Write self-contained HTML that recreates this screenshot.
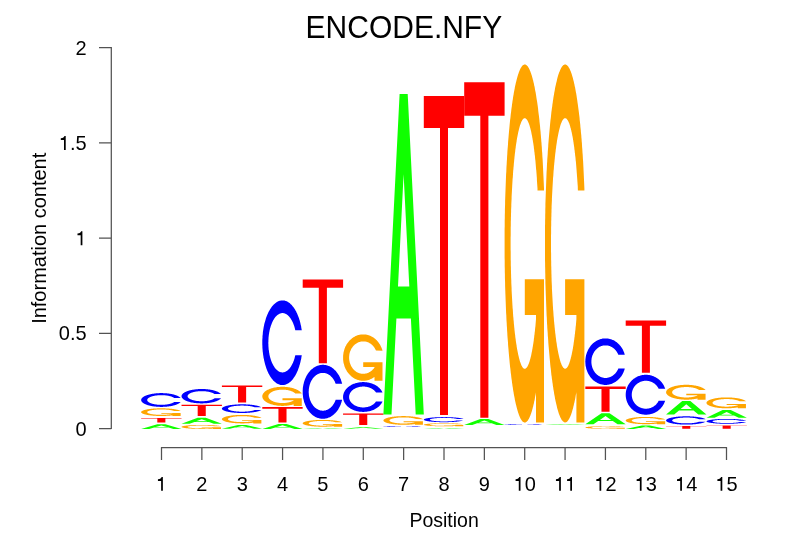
<!DOCTYPE html>
<html><head><meta charset="utf-8"><style>
html,body{margin:0;padding:0;background:#fff;width:806px;height:559px;overflow:hidden}
svg{display:block}
text{font-family:"Liberation Sans",sans-serif;fill:#000}
.tk{font-size:20px}
.ax{stroke:#000;stroke-width:1.25;stroke-opacity:0.68;fill:none}
.ttl{font-size:30px}
.lab{font-size:20px}
</style></head><body>
<div style="position:absolute;left:0;top:0;width:806px;height:559px;will-change:transform"><svg width="806" height="559" viewBox="0 0 806 559">
<rect width="806" height="559" fill="#fff"/>
<text transform="translate(403.9,38) scale(1,1.07)" text-anchor="middle" class="ttl">ENCODE.NFY</text>
<text transform="translate(444.1,526.8) scale(0.975,1.03)" text-anchor="middle" class="lab">Position</text>
<text transform="translate(46.4,238.3) rotate(-90) scale(1.0,1.04)" text-anchor="middle" class="lab">Information content</text>
<text transform="translate(75.48,435.70) scale(1,1.050)" class="tk">0</text>
<text transform="translate(58.80,340.45) scale(1,1.050)" class="tk">0.5</text>
<path transform="translate(75.33,245.20) scale(0.0197,-0.0197)" d="M359,0 L359,703 L296,703 C276,650 232,596 109,588 L109,503 L271,503 L271,0 Z" fill="#000"/>
<path transform="translate(58.65,149.95) scale(0.0197,-0.0197)" d="M359,0 L359,703 L296,703 C276,650 232,596 109,588 L109,503 L271,503 L271,0 Z" fill="#000"/>
<text transform="translate(69.92,149.95) scale(1,1.050)" class="tk">.5</text>
<text transform="translate(75.48,54.70) scale(1,1.050)" class="tk">2</text>
<path d="M111.30,429.00 V47.00 M111.30,428.50 H99.00 M111.30,333.25 H99.00 M111.30,238.00 H99.00 M111.30,142.75 H99.00 M111.30,47.50 H99.00" class="ax"/>
<path transform="translate(155.79,490.80) scale(0.0197,-0.0197)" d="M359,0 L359,703 L296,703 C276,650 232,596 109,588 L109,503 L271,503 L271,0 Z" fill="#000"/>
<text transform="translate(196.30,490.80) scale(1,1.040)" class="tk">2</text>
<text transform="translate(236.65,490.80) scale(1,1.040)" class="tk">3</text>
<text transform="translate(277.01,490.80) scale(1,1.040)" class="tk">4</text>
<text transform="translate(317.37,490.80) scale(1,1.040)" class="tk">5</text>
<text transform="translate(357.72,490.80) scale(1,1.040)" class="tk">6</text>
<text transform="translate(398.08,490.80) scale(1,1.040)" class="tk">7</text>
<text transform="translate(438.44,490.80) scale(1,1.040)" class="tk">8</text>
<text transform="translate(478.80,490.80) scale(1,1.040)" class="tk">9</text>
<path transform="translate(513.44,490.80) scale(0.0197,-0.0197)" d="M359,0 L359,703 L296,703 C276,650 232,596 109,588 L109,503 L271,503 L271,0 Z" fill="#000"/>
<text transform="translate(524.71,490.80) scale(1,1.040)" class="tk">0</text>
<path transform="translate(553.80,490.80) scale(0.0197,-0.0197)" d="M359,0 L359,703 L296,703 C276,650 232,596 109,588 L109,503 L271,503 L271,0 Z" fill="#000"/>
<path transform="translate(564.92,490.80) scale(0.0197,-0.0197)" d="M359,0 L359,703 L296,703 C276,650 232,596 109,588 L109,503 L271,503 L271,0 Z" fill="#000"/>
<path transform="translate(594.16,490.80) scale(0.0197,-0.0197)" d="M359,0 L359,703 L296,703 C276,650 232,596 109,588 L109,503 L271,503 L271,0 Z" fill="#000"/>
<text transform="translate(605.43,490.80) scale(1,1.040)" class="tk">2</text>
<path transform="translate(634.51,490.80) scale(0.0197,-0.0197)" d="M359,0 L359,703 L296,703 C276,650 232,596 109,588 L109,503 L271,503 L271,0 Z" fill="#000"/>
<text transform="translate(645.78,490.80) scale(1,1.040)" class="tk">3</text>
<path transform="translate(674.87,490.80) scale(0.0197,-0.0197)" d="M359,0 L359,703 L296,703 C276,650 232,596 109,588 L109,503 L271,503 L271,0 Z" fill="#000"/>
<text transform="translate(686.14,490.80) scale(1,1.040)" class="tk">4</text>
<path transform="translate(715.23,490.80) scale(0.0197,-0.0197)" d="M359,0 L359,703 L296,703 C276,650 232,596 109,588 L109,503 L271,503 L271,0 Z" fill="#000"/>
<text transform="translate(726.50,490.80) scale(1,1.040)" class="tk">5</text>
<path d="M161.00,447.70 H727.00 M161.50,447.20 V460.00 M201.86,447.20 V460.00 M242.21,447.20 V460.00 M282.57,447.20 V460.00 M322.93,447.20 V460.00 M363.28,447.20 V460.00 M403.64,447.20 V460.00 M444.00,447.20 V460.00 M484.36,447.20 V460.00 M524.71,447.20 V460.00 M565.07,447.20 V460.00 M605.43,447.20 V460.00 M645.78,447.20 V460.00 M686.14,447.20 V460.00 M726.50,447.20 V460.00" class="ax"/>
<path d="M141.15,428.90 157.30,424.20 165.38,424.20 181.53,428.90 173.45,428.90 168.61,427.49 154.07,427.49 149.23,428.90Z M155.69,427.02 161.34,425.38 166.99,427.02Z" fill="#10FF00" fill-rule="evenodd"/>
<path d="M141.15,418.00 181.53,418.00 181.53,418.46 165.38,418.46 165.38,422.60 157.30,422.60 157.30,418.46 141.15,418.46Z" fill="#FF0000"/>
<path d="M174.12,413.29 173.96,413.36 173.79,413.42 173.62,413.48 173.43,413.54 173.24,413.60 173.04,413.66 172.84,413.72 172.62,413.77 172.40,413.83 172.17,413.88 171.93,413.93 171.69,413.99 171.44,414.04 171.18,414.08 170.92,414.13 170.65,414.18 170.37,414.22 170.09,414.27 169.80,414.31 169.51,414.35 169.21,414.39 168.90,414.43 168.60,414.46 168.28,414.50 167.96,414.53 167.64,414.56 167.31,414.59 166.98,414.62 166.65,414.65 166.31,414.67 165.97,414.70 165.63,414.72 165.28,414.74 164.93,414.76 164.58,414.77 164.22,414.79 163.87,414.80 163.51,414.81 163.15,414.82 162.79,414.83 162.43,414.84 162.07,414.84 161.70,414.84 161.34,414.85 161.12,414.84 160.67,414.84 160.22,414.84 159.77,414.83 159.33,414.82 159.11,414.81 158.89,414.80 158.45,414.79 158.01,414.77 157.57,414.75 157.14,414.72 156.72,414.70 156.30,414.67 155.88,414.64 155.47,414.60 155.06,414.56 154.67,414.53 154.27,414.48 153.89,414.44 153.51,414.39 153.14,414.35 152.78,414.29 152.43,414.24 152.08,414.19 151.75,414.13 151.43,414.07 151.11,414.01 150.81,413.95 150.51,413.88 150.23,413.82 149.96,413.75 149.70,413.68 149.45,413.61 149.21,413.53 148.99,413.46 148.78,413.38 148.58,413.31 148.39,413.23 148.22,413.15 148.06,413.07 147.91,412.99 147.78,412.91 147.66,412.83 147.55,412.74 147.46,412.66 147.38,412.58 147.32,412.49 147.27,412.41 147.24,412.32 147.21,412.24 147.21,412.15 147.21,412.11 147.22,412.02 147.25,411.94 147.29,411.85 147.35,411.77 147.38,411.72 147.42,411.68 147.51,411.60 147.61,411.51 147.72,411.43 147.84,411.35 147.98,411.27 148.14,411.19 148.30,411.11 148.48,411.03 148.68,410.95 148.88,410.88 149.10,410.80 149.33,410.73 149.57,410.66 149.83,410.59 150.09,410.52 150.37,410.45 150.66,410.39 150.96,410.32 151.27,410.26 151.59,410.20 151.92,410.14 152.26,410.09 152.60,410.03 152.96,409.98 153.33,409.93 153.70,409.88 154.08,409.84 154.47,409.79 154.86,409.75 155.27,409.72 155.67,409.68 156.09,409.65 156.51,409.62 156.93,409.59 157.36,409.56 157.79,409.54 158.23,409.52 158.67,409.50 159.11,409.49 159.55,409.48 160.00,409.47 160.44,409.46 160.89,409.46 161.34,409.45 161.52,409.46 161.88,409.46 162.25,409.46 162.61,409.47 162.97,409.47 163.15,409.48 163.33,409.48 163.69,409.49 164.04,409.50 164.40,409.52 164.75,409.53 165.10,409.55 165.45,409.57 165.80,409.59 166.14,409.62 166.48,409.64 166.82,409.67 167.15,409.69 167.48,409.72 167.80,409.75 168.12,409.79 168.44,409.82 168.75,409.86 169.06,409.89 169.36,409.93 169.65,409.97 169.95,410.01 170.23,410.05 170.51,410.10 170.78,410.14 171.05,410.19 171.31,410.24 171.56,410.29 171.81,410.34 172.05,410.39 172.28,410.44 172.51,410.50 172.73,410.55 172.94,410.61 173.14,410.67 173.34,410.73 173.53,410.79 173.71,410.85 173.88,410.91 174.04,410.97 180.63,411.01 180.47,410.92 180.30,410.82 180.11,410.73 179.91,410.64 179.71,410.55 179.48,410.46 179.25,410.37 179.01,410.29 178.75,410.20 178.48,410.12 178.34,410.07 178.20,410.03 177.91,409.95 177.61,409.87 177.30,409.79 176.97,409.71 176.64,409.64 176.30,409.56 175.95,409.49 175.58,409.42 175.21,409.35 174.83,409.29 174.44,409.22 174.04,409.16 173.63,409.10 173.22,409.04 172.80,408.98 172.36,408.92 171.93,408.87 171.48,408.82 171.03,408.77 170.57,408.73 170.11,408.68 169.64,408.64 169.16,408.60 168.68,408.56 168.20,408.53 167.71,408.50 167.21,408.47 166.72,408.44 166.22,408.41 165.71,408.39 165.20,408.37 164.69,408.35 164.18,408.34 163.67,408.33 163.15,408.32 162.63,408.31 162.12,408.30 161.60,408.30 161.34,408.30 160.70,408.30 160.06,408.31 159.42,408.32 158.78,408.33 158.15,408.35 157.52,408.37 156.89,408.39 156.27,408.42 155.65,408.46 155.04,408.49 154.74,408.51 154.43,408.53 153.84,408.58 153.25,408.62 152.66,408.67 152.09,408.73 151.52,408.79 150.97,408.85 150.42,408.91 149.89,408.98 149.37,409.05 148.86,409.12 148.36,409.20 147.88,409.28 147.41,409.36 146.95,409.45 146.51,409.54 146.08,409.63 145.67,409.72 145.27,409.82 144.89,409.92 144.53,410.02 144.18,410.12 143.85,410.23 143.54,410.33 143.25,410.44 142.97,410.55 142.72,410.66 142.48,410.78 142.26,410.89 142.06,411.01 141.88,411.12 141.72,411.24 141.58,411.36 141.46,411.48 141.36,411.60 141.27,411.72 141.21,411.84 141.17,411.97 141.15,412.09 141.15,412.15 141.16,412.27 141.19,412.39 141.24,412.52 141.31,412.64 141.40,412.76 141.51,412.88 141.65,413.00 141.80,413.12 141.97,413.23 142.16,413.35 142.26,413.41 142.37,413.47 142.60,413.58 142.84,413.69 143.11,413.80 143.39,413.91 143.70,414.02 144.02,414.13 144.36,414.23 144.71,414.33 145.08,414.43 145.47,414.53 145.87,414.62 146.29,414.72 146.73,414.81 147.18,414.89 147.64,414.98 148.12,415.06 148.61,415.14 149.11,415.21 149.63,415.29 150.16,415.36 150.70,415.42 151.25,415.48 151.80,415.54 152.37,415.60 152.95,415.65 153.54,415.70 154.13,415.75 154.74,415.79 155.35,415.83 155.96,415.86 156.58,415.89 157.20,415.92 157.83,415.94 158.47,415.96 159.10,415.98 159.74,415.99 160.38,416.00 161.02,416.00 161.34,416.00 161.86,416.00 162.38,415.99 162.89,415.99 163.41,415.98 163.92,415.97 164.44,415.95 164.95,415.94 165.46,415.92 165.96,415.90 166.47,415.87 166.72,415.86 166.97,415.85 167.46,415.82 167.95,415.79 168.44,415.75 168.92,415.72 169.40,415.68 169.87,415.64 170.34,415.60 170.80,415.55 171.26,415.50 171.71,415.45 172.15,415.40 172.58,415.35 173.01,415.29 173.43,415.23 173.84,415.17 174.24,415.11 174.64,415.05 175.02,414.98 175.40,414.91 175.76,414.84 176.12,414.77 176.47,414.70 176.81,414.62 177.14,414.55 177.45,414.47 177.76,414.39 178.06,414.31 178.34,414.23 178.62,414.14 178.88,414.06 179.13,413.97 179.37,413.88 179.60,413.79 179.81,413.70 180.02,413.61 180.21,413.52 180.38,413.43 180.55,413.33 180.63,413.29Z M180.63,412.92 161.34,412.92 161.34,413.69 172.55,413.69 172.55,416.00 180.63,416.00 180.63,412.92Z" fill="#FFA500"/>
<path d="M180.63,402.04 180.47,402.21 180.30,402.37 180.11,402.54 179.91,402.70 179.71,402.87 179.48,403.03 179.25,403.18 179.01,403.34 178.75,403.49 178.48,403.65 178.20,403.80 177.91,403.94 177.61,404.09 177.30,404.23 176.97,404.37 176.64,404.50 176.30,404.63 175.95,404.76 175.58,404.89 175.21,405.01 174.83,405.13 174.44,405.25 174.04,405.36 173.63,405.47 173.22,405.58 172.80,405.68 172.36,405.78 171.93,405.88 171.48,405.97 171.03,406.05 170.57,406.14 170.11,406.22 169.64,406.29 169.16,406.36 168.68,406.43 168.20,406.49 167.71,406.55 167.21,406.60 166.72,406.65 166.22,406.70 165.71,406.74 165.20,406.77 164.69,406.80 164.18,406.83 163.67,406.85 163.15,406.87 162.63,406.89 162.12,406.89 161.60,406.90 161.34,406.90 160.70,406.90 160.06,406.89 159.42,406.87 158.78,406.84 158.15,406.81 157.52,406.78 156.89,406.73 156.27,406.68 155.65,406.62 155.04,406.56 154.43,406.48 153.84,406.41 153.25,406.32 152.66,406.23 152.09,406.13 151.52,406.03 150.97,405.92 150.42,405.80 149.89,405.68 149.37,405.56 148.86,405.42 148.36,405.29 147.88,405.14 147.41,404.99 146.95,404.84 146.51,404.68 146.08,404.52 145.67,404.35 145.27,404.18 144.89,404.00 144.53,403.82 144.18,403.64 143.85,403.45 143.54,403.26 143.25,403.06 142.97,402.87 142.72,402.67 142.48,402.46 142.26,402.26 142.06,402.05 141.88,401.84 141.72,401.63 141.58,401.41 141.46,401.20 141.36,400.98 141.27,400.76 141.21,400.55 141.17,400.33 141.15,400.11 141.15,400.00 141.16,399.78 141.19,399.56 141.24,399.34 141.31,399.13 141.40,398.91 141.51,398.69 141.65,398.48 141.80,398.27 141.97,398.06 142.16,397.85 142.37,397.64 142.60,397.44 142.84,397.23 143.11,397.03 143.39,396.84 143.70,396.65 144.02,396.46 144.36,396.27 144.71,396.09 145.08,395.91 145.47,395.73 145.87,395.56 146.29,395.40 146.73,395.24 147.18,395.08 147.64,394.93 148.12,394.79 148.61,394.64 149.11,394.51 149.63,394.38 150.16,394.26 150.70,394.14 151.25,394.02 151.80,393.92 152.37,393.82 152.95,393.72 153.54,393.64 154.13,393.55 154.74,393.48 155.35,393.41 155.96,393.35 156.58,393.29 157.20,393.25 157.83,393.20 158.47,393.17 159.10,393.14 159.74,393.12 160.38,393.11 161.02,393.10 161.34,393.10 161.86,393.10 162.38,393.11 162.89,393.12 163.41,393.14 163.92,393.16 164.44,393.18 164.95,393.21 165.46,393.25 165.96,393.28 166.47,393.33 166.97,393.37 167.46,393.42 167.95,393.48 168.44,393.54 168.92,393.61 169.40,393.67 169.87,393.75 170.34,393.82 170.80,393.90 171.26,393.99 171.71,394.08 172.15,394.17 172.58,394.27 173.01,394.37 173.43,394.47 173.84,394.58 174.24,394.69 174.64,394.81 175.02,394.93 175.40,395.05 175.76,395.17 176.12,395.30 176.47,395.43 176.81,395.57 177.14,395.70 177.45,395.84 177.76,395.99 178.06,396.13 178.34,396.28 178.62,396.43 178.88,396.58 179.13,396.74 179.37,396.89 179.60,397.05 179.81,397.21 180.02,397.38 180.21,397.54 180.38,397.71 180.55,397.88 180.63,397.96 174.12,397.96 173.96,397.83 173.79,397.72 173.62,397.61 173.43,397.50 173.24,397.40 173.04,397.29 172.84,397.19 172.62,397.09 172.40,396.99 172.17,396.90 171.93,396.80 171.69,396.71 171.44,396.62 171.18,396.53 170.92,396.45 170.65,396.37 170.37,396.28 170.09,396.21 169.80,396.13 169.51,396.06 169.21,395.99 168.90,395.92 168.60,395.86 168.28,395.79 167.96,395.73 167.64,395.68 167.31,395.62 166.98,395.57 166.65,395.52 166.31,395.48 165.97,395.44 165.63,395.40 165.28,395.36 164.93,395.33 164.58,395.30 164.22,395.27 163.87,395.25 163.51,395.23 163.15,395.21 162.79,395.20 162.43,395.18 162.07,395.18 161.70,395.17 161.34,395.17 161.12,395.17 160.67,395.18 160.22,395.19 159.77,395.20 159.33,395.22 159.11,395.23 158.89,395.24 158.45,395.27 158.01,395.31 157.57,395.34 157.14,395.39 156.72,395.44 156.30,395.49 155.88,395.55 155.47,395.61 155.06,395.67 154.67,395.74 154.27,395.82 153.89,395.90 153.51,395.98 153.14,396.07 152.78,396.16 152.43,396.25 152.08,396.35 151.75,396.45 151.43,396.56 151.11,396.67 150.81,396.78 150.51,396.90 150.23,397.01 149.96,397.14 149.70,397.26 149.45,397.39 149.21,397.52 148.99,397.65 148.78,397.79 148.58,397.92 148.39,398.06 148.22,398.20 148.06,398.35 147.91,398.49 147.78,398.64 147.66,398.79 147.55,398.94 147.46,399.09 147.38,399.24 147.32,399.39 147.27,399.54 147.24,399.69 147.21,399.85 147.21,400.00 147.21,400.08 147.22,400.23 147.25,400.38 147.29,400.54 147.35,400.69 147.38,400.76 147.42,400.84 147.51,400.99 147.61,401.14 147.72,401.29 147.84,401.43 147.98,401.58 148.14,401.72 148.30,401.87 148.48,402.01 148.68,402.14 148.88,402.28 149.10,402.41 149.33,402.55 149.57,402.68 149.83,402.80 150.09,402.93 150.37,403.05 150.66,403.16 150.96,403.28 151.27,403.39 151.59,403.50 151.92,403.60 152.26,403.70 152.60,403.80 152.96,403.89 153.33,403.98 153.70,404.06 154.08,404.14 154.47,404.22 154.86,404.29 155.27,404.36 155.67,404.42 156.09,404.48 156.51,404.54 156.93,404.59 157.36,404.63 157.79,404.68 158.23,404.71 158.67,404.74 159.11,404.77 159.55,404.79 160.00,404.81 160.44,404.82 160.89,404.83 161.34,404.83 161.52,404.83 161.88,404.83 162.25,404.82 162.61,404.81 162.97,404.80 163.15,404.79 163.33,404.78 163.69,404.76 164.04,404.74 164.40,404.72 164.75,404.69 165.10,404.66 165.45,404.62 165.80,404.58 166.14,404.54 166.48,404.50 166.82,404.45 167.15,404.40 167.48,404.35 167.80,404.30 168.12,404.24 168.44,404.18 168.75,404.11 169.06,404.05 169.36,403.98 169.65,403.91 169.95,403.83 170.23,403.75 170.51,403.68 170.78,403.59 171.05,403.51 171.31,403.42 171.56,403.33 171.81,403.24 172.05,403.15 172.28,403.06 172.51,402.96 172.73,402.86 172.94,402.76 173.14,402.66 173.34,402.55 173.53,402.45 173.71,402.34 173.88,402.23 174.04,402.12 174.12,402.04Z" fill="#0000FF"/>
<path d="M214.50,427.49 214.34,427.53 214.17,427.56 214.00,427.59 213.81,427.62 213.62,427.65 213.42,427.68 213.22,427.71 213.00,427.74 212.78,427.77 212.55,427.80 212.31,427.83 212.07,427.85 211.82,427.88 211.56,427.90 211.30,427.93 211.03,427.95 210.75,427.98 210.47,428.00 210.18,428.02 209.89,428.04 209.59,428.06 209.28,428.08 208.98,428.10 208.66,428.12 208.34,428.14 208.02,428.15 207.69,428.17 207.36,428.18 207.03,428.20 206.69,428.21 206.35,428.22 206.01,428.23 205.66,428.24 205.31,428.25 204.96,428.26 204.60,428.27 204.25,428.28 203.89,428.28 203.53,428.29 203.17,428.29 202.81,428.30 202.45,428.30 202.08,428.30 201.72,428.30 201.50,428.30 201.05,428.30 200.60,428.30 200.15,428.29 199.71,428.29 199.49,428.28 199.27,428.28 198.83,428.27 198.39,428.26 197.95,428.25 197.52,428.24 197.10,428.22 196.68,428.21 196.26,428.19 195.85,428.17 195.44,428.15 195.05,428.13 194.65,428.11 194.27,428.09 193.89,428.07 193.52,428.04 193.16,428.01 192.81,427.99 192.46,427.96 192.13,427.93 191.81,427.90 191.49,427.87 191.19,427.83 190.89,427.80 190.61,427.77 190.34,427.73 190.08,427.69 189.83,427.66 189.59,427.62 189.37,427.58 189.16,427.54 188.96,427.50 188.77,427.46 188.60,427.42 188.44,427.38 188.29,427.34 188.16,427.29 188.04,427.25 187.93,427.21 187.84,427.16 187.76,427.12 187.70,427.08 187.65,427.03 187.62,426.99 187.59,426.94 187.59,426.90 187.59,426.88 187.60,426.83 187.63,426.79 187.67,426.74 187.73,426.70 187.76,426.68 187.80,426.66 187.89,426.61 187.99,426.57 188.10,426.53 188.22,426.48 188.36,426.44 188.52,426.40 188.68,426.36 188.86,426.32 189.06,426.28 189.26,426.24 189.48,426.20 189.71,426.16 189.95,426.12 190.21,426.09 190.47,426.05 190.75,426.02 191.04,425.98 191.34,425.95 191.65,425.92 191.97,425.89 192.30,425.86 192.64,425.83 192.98,425.80 193.34,425.77 193.71,425.75 194.08,425.72 194.46,425.70 194.85,425.68 195.24,425.66 195.65,425.64 196.05,425.62 196.47,425.60 196.89,425.58 197.31,425.57 197.74,425.56 198.17,425.54 198.61,425.53 199.05,425.53 199.49,425.52 199.93,425.51 200.38,425.51 200.82,425.50 201.27,425.50 201.72,425.50 201.90,425.50 202.26,425.50 202.63,425.50 202.99,425.51 203.35,425.51 203.53,425.51 203.71,425.51 204.07,425.52 204.42,425.53 204.78,425.53 205.13,425.54 205.48,425.55 205.83,425.56 206.18,425.57 206.52,425.58 206.86,425.60 207.20,425.61 207.53,425.62 207.86,425.64 208.18,425.65 208.50,425.67 208.82,425.69 209.13,425.71 209.44,425.73 209.74,425.75 210.03,425.77 210.33,425.79 210.61,425.81 210.89,425.83 211.16,425.86 211.43,425.88 211.69,425.91 211.94,425.93 212.19,425.96 212.43,425.99 212.66,426.01 212.89,426.04 213.11,426.07 213.32,426.10 213.52,426.13 213.72,426.16 213.91,426.19 214.09,426.22 214.26,426.25 214.42,426.29 221.01,426.31 220.85,426.26 220.68,426.21 220.49,426.16 220.29,426.12 220.09,426.07 219.86,426.02 219.63,425.98 219.39,425.93 219.13,425.89 218.86,425.84 218.72,425.82 218.58,425.80 218.29,425.76 217.99,425.72 217.68,425.67 217.35,425.63 217.02,425.60 216.68,425.56 216.33,425.52 215.96,425.48 215.59,425.45 215.21,425.41 214.82,425.38 214.42,425.35 214.01,425.31 213.60,425.28 213.18,425.25 212.74,425.22 212.31,425.20 211.86,425.17 211.41,425.15 210.95,425.12 210.49,425.10 210.02,425.08 209.54,425.06 209.06,425.04 208.58,425.02 208.09,425.00 207.59,424.99 207.10,424.97 206.60,424.96 206.09,424.95 205.58,424.94 205.07,424.93 204.56,424.92 204.05,424.91 203.53,424.91 203.01,424.90 202.50,424.90 201.98,424.90 201.72,424.90 201.08,424.90 200.44,424.90 199.80,424.91 199.16,424.92 198.53,424.93 197.90,424.94 197.27,424.95 196.65,424.96 196.03,424.98 195.42,425.00 195.12,425.01 194.81,425.02 194.22,425.04 193.63,425.07 193.04,425.09 192.47,425.12 191.90,425.15 191.35,425.18 190.80,425.22 190.27,425.25 189.75,425.29 189.24,425.33 188.74,425.37 188.26,425.41 187.79,425.45 187.33,425.50 186.89,425.54 186.46,425.59 186.05,425.64 185.65,425.69 185.27,425.74 184.91,425.79 184.56,425.85 184.23,425.90 183.92,425.96 183.63,426.01 183.35,426.07 183.10,426.13 182.86,426.19 182.64,426.25 182.44,426.31 182.26,426.37 182.10,426.43 181.96,426.49 181.84,426.55 181.74,426.62 181.65,426.68 181.59,426.74 181.55,426.80 181.53,426.87 181.53,426.90 181.54,426.96 181.57,427.03 181.62,427.09 181.69,427.15 181.78,427.22 181.89,427.28 182.03,427.34 182.18,427.40 182.35,427.46 182.54,427.52 182.64,427.55 182.75,427.58 182.98,427.64 183.22,427.70 183.49,427.76 183.77,427.82 184.08,427.87 184.40,427.93 184.74,427.98 185.09,428.03 185.46,428.09 185.85,428.14 186.25,428.19 186.67,428.23 187.11,428.28 187.56,428.33 188.02,428.37 188.50,428.41 188.99,428.45 189.49,428.49 190.01,428.53 190.54,428.57 191.08,428.60 191.62,428.63 192.18,428.66 192.75,428.69 193.33,428.72 193.92,428.74 194.51,428.77 195.12,428.79 195.73,428.81 196.34,428.83 196.96,428.84 197.58,428.86 198.21,428.87 198.85,428.88 199.48,428.89 200.12,428.89 200.76,428.90 201.40,428.90 201.72,428.90 202.24,428.90 202.76,428.90 203.27,428.89 203.79,428.89 204.30,428.88 204.82,428.88 205.33,428.87 205.84,428.86 206.34,428.85 206.85,428.83 207.10,428.83 207.35,428.82 207.84,428.81 208.33,428.79 208.82,428.77 209.30,428.75 209.78,428.73 210.25,428.71 210.72,428.69 211.18,428.67 211.64,428.64 212.09,428.62 212.53,428.59 212.96,428.56 213.39,428.53 213.81,428.50 214.22,428.47 214.62,428.44 215.02,428.41 215.40,428.37 215.78,428.34 216.14,428.30 216.50,428.26 216.85,428.22 217.19,428.19 217.52,428.15 217.83,428.10 218.14,428.06 218.44,428.02 218.72,427.98 219.00,427.93 219.26,427.89 219.51,427.85 219.75,427.80 219.98,427.75 220.19,427.71 220.40,427.66 220.59,427.61 220.76,427.56 220.93,427.52 221.01,427.49Z M221.01,427.30 201.72,427.30 201.72,427.70 212.93,427.70 212.93,428.90 221.01,428.90 221.01,427.30Z" fill="#FFA500"/>
<path d="M181.53,423.80 197.68,417.70 205.76,417.70 221.91,423.80 213.83,423.80 208.99,421.97 194.45,421.97 189.61,423.80Z M196.07,421.36 201.72,419.23 207.37,421.36Z" fill="#10FF00" fill-rule="evenodd"/>
<path d="M181.53,404.80 221.91,404.80 221.91,405.92 205.76,405.92 205.76,416.00 197.68,416.00 197.68,405.92 181.53,405.92Z" fill="#FF0000"/>
<path d="M221.01,398.33 220.85,398.50 220.68,398.68 220.49,398.85 220.29,399.02 220.09,399.19 219.86,399.36 219.63,399.52 219.39,399.69 219.13,399.85 218.86,400.00 218.58,400.16 218.29,400.31 217.99,400.46 217.68,400.61 217.35,400.76 217.02,400.90 216.68,401.04 216.33,401.17 215.96,401.30 215.59,401.43 215.21,401.56 214.82,401.68 214.42,401.80 214.01,401.91 213.60,402.02 213.18,402.13 212.74,402.23 212.31,402.33 211.86,402.43 211.41,402.52 210.95,402.60 210.49,402.69 210.02,402.76 209.54,402.84 209.06,402.91 208.58,402.97 208.09,403.03 207.59,403.09 207.10,403.14 206.60,403.19 206.09,403.23 205.58,403.27 205.07,403.30 204.56,403.33 204.05,403.35 203.53,403.37 203.01,403.39 202.50,403.39 201.98,403.40 201.72,403.40 201.08,403.40 200.44,403.39 199.80,403.37 199.16,403.34 198.53,403.31 197.90,403.27 197.27,403.22 196.65,403.17 196.03,403.11 195.42,403.04 194.81,402.97 194.22,402.88 193.63,402.80 193.04,402.70 192.47,402.60 191.90,402.49 191.35,402.38 190.80,402.26 190.27,402.13 189.75,402.00 189.24,401.86 188.74,401.72 188.26,401.57 187.79,401.41 187.33,401.25 186.89,401.09 186.46,400.91 186.05,400.74 185.65,400.56 185.27,400.38 184.91,400.19 184.56,400.00 184.23,399.80 183.92,399.60 183.63,399.40 183.35,399.19 183.10,398.98 182.86,398.77 182.64,398.55 182.44,398.34 182.26,398.12 182.10,397.90 181.96,397.67 181.84,397.45 181.74,397.22 181.65,397.00 181.59,396.77 181.55,396.54 181.53,396.31 181.53,396.20 181.54,395.97 181.57,395.74 181.62,395.52 181.69,395.29 181.78,395.06 181.89,394.84 182.03,394.61 182.18,394.39 182.35,394.17 182.54,393.95 182.75,393.74 182.98,393.52 183.22,393.31 183.49,393.11 183.77,392.90 184.08,392.70 184.40,392.50 184.74,392.31 185.09,392.12 185.46,391.93 185.85,391.75 186.25,391.57 186.67,391.40 187.11,391.23 187.56,391.07 188.02,390.91 188.50,390.76 188.99,390.61 189.49,390.47 190.01,390.34 190.54,390.21 191.08,390.08 191.62,389.96 192.18,389.85 192.75,389.75 193.33,389.65 193.92,389.56 194.51,389.47 195.12,389.40 195.73,389.32 196.34,389.26 196.96,389.20 197.58,389.15 198.21,389.11 198.85,389.07 199.48,389.04 200.12,389.02 200.76,389.01 201.40,389.00 201.72,389.00 202.24,389.00 202.76,389.01 203.27,389.02 203.79,389.04 204.30,389.06 204.82,389.09 205.33,389.12 205.84,389.15 206.34,389.19 206.85,389.24 207.35,389.29 207.84,389.34 208.33,389.40 208.82,389.46 209.30,389.53 209.78,389.60 210.25,389.67 210.72,389.76 211.18,389.84 211.64,389.93 212.09,390.02 212.53,390.12 212.96,390.22 213.39,390.32 213.81,390.43 214.22,390.55 214.62,390.66 215.02,390.78 215.40,390.90 215.78,391.03 216.14,391.16 216.50,391.30 216.85,391.43 217.19,391.57 217.52,391.72 217.83,391.86 218.14,392.01 218.44,392.16 218.72,392.32 219.00,392.47 219.26,392.63 219.51,392.80 219.75,392.96 219.98,393.13 220.19,393.29 220.40,393.46 220.59,393.64 220.76,393.81 220.93,393.98 221.01,394.07 214.50,394.07 214.34,393.93 214.17,393.82 214.00,393.70 213.81,393.59 213.62,393.48 213.42,393.37 213.22,393.27 213.00,393.16 212.78,393.06 212.55,392.96 212.31,392.86 212.07,392.77 211.82,392.67 211.56,392.58 211.30,392.49 211.03,392.41 210.75,392.32 210.47,392.24 210.18,392.16 209.89,392.09 209.59,392.01 209.28,391.94 208.98,391.87 208.66,391.81 208.34,391.75 208.02,391.69 207.69,391.63 207.36,391.58 207.03,391.53 206.69,391.48 206.35,391.44 206.01,391.40 205.66,391.36 205.31,391.33 204.96,391.29 204.60,391.27 204.25,391.24 203.89,391.22 203.53,391.20 203.17,391.19 202.81,391.17 202.45,391.17 202.08,391.16 201.72,391.16 201.50,391.16 201.05,391.17 200.60,391.18 200.15,391.19 199.71,391.21 199.49,391.22 199.27,391.24 198.83,391.27 198.39,391.30 197.95,391.34 197.52,391.39 197.10,391.44 196.68,391.49 196.26,391.55 195.85,391.62 195.44,391.68 195.05,391.76 194.65,391.84 194.27,391.92 193.89,392.00 193.52,392.09 193.16,392.19 192.81,392.29 192.46,392.39 192.13,392.50 191.81,392.61 191.49,392.72 191.19,392.84 190.89,392.96 190.61,393.08 190.34,393.21 190.08,393.34 189.83,393.48 189.59,393.61 189.37,393.75 189.16,393.89 188.96,394.03 188.77,394.18 188.60,394.33 188.44,394.48 188.29,394.63 188.16,394.78 188.04,394.93 187.93,395.09 187.84,395.25 187.76,395.40 187.70,395.56 187.65,395.72 187.62,395.88 187.59,396.04 187.59,396.20 187.59,396.28 187.60,396.44 187.63,396.60 187.67,396.76 187.73,396.92 187.76,397.00 187.80,397.08 187.89,397.23 187.99,397.39 188.10,397.54 188.22,397.70 188.36,397.85 188.52,398.00 188.68,398.15 188.86,398.29 189.06,398.44 189.26,398.58 189.48,398.72 189.71,398.86 189.95,398.99 190.21,399.12 190.47,399.25 190.75,399.38 191.04,399.50 191.34,399.62 191.65,399.74 191.97,399.85 192.30,399.96 192.64,400.06 192.98,400.16 193.34,400.26 193.71,400.35 194.08,400.44 194.46,400.52 194.85,400.60 195.24,400.68 195.65,400.75 196.05,400.82 196.47,400.88 196.89,400.94 197.31,400.99 197.74,401.04 198.17,401.08 198.61,401.12 199.05,401.15 199.49,401.18 199.93,401.20 200.38,401.22 200.82,401.23 201.27,401.24 201.72,401.24 201.90,401.24 202.26,401.24 202.63,401.23 202.99,401.22 203.35,401.21 203.53,401.20 203.71,401.19 204.07,401.17 204.42,401.15 204.78,401.12 205.13,401.09 205.48,401.06 205.83,401.02 206.18,400.98 206.52,400.94 206.86,400.89 207.20,400.85 207.53,400.79 207.86,400.74 208.18,400.68 208.50,400.62 208.82,400.56 209.13,400.49 209.44,400.42 209.74,400.35 210.03,400.28 210.33,400.20 210.61,400.12 210.89,400.04 211.16,399.95 211.43,399.86 211.69,399.77 211.94,399.68 212.19,399.59 212.43,399.49 212.66,399.39 212.89,399.29 213.11,399.18 213.32,399.08 213.52,398.97 213.72,398.86 213.91,398.75 214.09,398.64 214.26,398.53 214.42,398.41 214.50,398.33Z" fill="#0000FF"/>
<path d="M221.91,428.70 238.06,425.10 246.14,425.10 262.29,428.70 254.21,428.70 249.37,427.62 234.83,427.62 229.99,428.70Z M236.45,427.26 242.10,426.00 247.75,427.26Z" fill="#10FF00" fill-rule="evenodd"/>
<path d="M254.88,420.41 254.72,420.49 254.55,420.56 254.38,420.62 254.19,420.69 254.00,420.75 253.80,420.82 253.60,420.88 253.38,420.94 253.16,421.00 252.93,421.06 252.69,421.12 252.45,421.18 252.20,421.23 251.94,421.29 251.68,421.34 251.41,421.39 251.13,421.44 250.85,421.49 250.56,421.53 250.27,421.58 249.97,421.62 249.66,421.66 249.36,421.70 249.04,421.74 248.72,421.78 248.40,421.81 248.07,421.85 247.74,421.88 247.41,421.91 247.07,421.93 246.73,421.96 246.39,421.98 246.04,422.01 245.69,422.03 245.34,422.05 244.98,422.06 244.63,422.08 244.27,422.09 243.91,422.10 243.55,422.11 243.19,422.12 242.83,422.12 242.46,422.12 242.10,422.12 241.88,422.12 241.43,422.12 240.98,422.12 240.53,422.11 240.09,422.09 239.87,422.09 239.65,422.08 239.21,422.06 238.77,422.04 238.33,422.02 237.90,421.99 237.48,421.96 237.06,421.93 236.64,421.89 236.23,421.86 235.82,421.82 235.43,421.77 235.03,421.73 234.65,421.68 234.27,421.63 233.90,421.57 233.54,421.52 233.19,421.46 232.84,421.40 232.51,421.34 232.19,421.27 231.87,421.20 231.57,421.13 231.27,421.06 230.99,420.99 230.72,420.91 230.46,420.84 230.21,420.76 229.97,420.68 229.75,420.60 229.54,420.51 229.34,420.43 229.15,420.34 228.98,420.26 228.82,420.17 228.67,420.08 228.54,419.99 228.42,419.90 228.31,419.81 228.22,419.71 228.14,419.62 228.08,419.53 228.03,419.43 228.00,419.34 227.97,419.24 227.97,419.15 227.97,419.10 227.98,419.01 228.01,418.91 228.05,418.82 228.11,418.73 228.14,418.68 228.18,418.63 228.27,418.54 228.37,418.45 228.48,418.36 228.60,418.27 228.74,418.18 228.90,418.09 229.06,418.00 229.24,417.91 229.44,417.83 229.64,417.74 229.86,417.66 230.09,417.58 230.33,417.50 230.59,417.42 230.85,417.35 231.13,417.27 231.42,417.20 231.72,417.13 232.03,417.06 232.35,417.00 232.68,416.93 233.02,416.87 233.36,416.81 233.72,416.75 234.09,416.70 234.46,416.65 234.84,416.60 235.23,416.55 235.62,416.51 236.03,416.46 236.43,416.42 236.85,416.39 237.27,416.35 237.69,416.32 238.12,416.30 238.55,416.27 238.99,416.25 239.43,416.23 239.87,416.21 240.31,416.20 240.76,416.19 241.20,416.18 241.65,416.18 242.10,416.17 242.28,416.18 242.64,416.18 243.01,416.18 243.37,416.19 243.73,416.19 243.91,416.20 244.09,416.20 244.45,416.22 244.80,416.23 245.16,416.25 245.51,416.26 245.86,416.28 246.21,416.30 246.56,416.33 246.90,416.35 247.24,416.38 247.58,416.41 247.91,416.44 248.24,416.47 248.56,416.50 248.88,416.54 249.20,416.58 249.51,416.62 249.82,416.66 250.12,416.70 250.41,416.74 250.71,416.79 250.99,416.84 251.27,416.89 251.54,416.94 251.81,416.99 252.07,417.04 252.32,417.10 252.57,417.15 252.81,417.21 253.04,417.27 253.27,417.33 253.49,417.39 253.70,417.45 253.90,417.51 254.10,417.58 254.29,417.64 254.47,417.71 254.64,417.78 254.80,417.85 261.39,417.89 261.23,417.79 261.06,417.69 260.87,417.59 260.67,417.48 260.47,417.38 260.24,417.29 260.01,417.19 259.77,417.09 259.51,417.00 259.24,416.90 259.10,416.86 258.96,416.81 258.67,416.72 258.37,416.63 258.06,416.55 257.73,416.46 257.40,416.38 257.06,416.30 256.71,416.22 256.34,416.14 255.97,416.06 255.59,415.99 255.20,415.92 254.80,415.85 254.39,415.78 253.98,415.71 253.56,415.65 253.12,415.59 252.69,415.53 252.24,415.48 251.79,415.42 251.33,415.37 250.87,415.32 250.40,415.28 249.92,415.23 249.44,415.19 248.96,415.15 248.47,415.12 247.97,415.08 247.48,415.05 246.98,415.03 246.47,415.00 245.96,414.98 245.45,414.96 244.94,414.94 244.43,414.93 243.91,414.92 243.39,414.91 242.88,414.90 242.36,414.90 242.10,414.90 241.46,414.90 240.82,414.91 240.18,414.92 239.54,414.93 238.91,414.95 238.28,414.98 237.65,415.00 237.03,415.04 236.41,415.07 235.80,415.11 235.50,415.13 235.19,415.16 234.60,415.20 234.01,415.26 233.42,415.31 232.85,415.37 232.28,415.44 231.73,415.50 231.18,415.57 230.65,415.65 230.13,415.73 229.62,415.81 229.12,415.89 228.64,415.98 228.17,416.07 227.71,416.17 227.27,416.27 226.84,416.37 226.43,416.47 226.03,416.58 225.65,416.68 225.29,416.80 224.94,416.91 224.61,417.02 224.30,417.14 224.01,417.26 223.73,417.38 223.48,417.51 223.24,417.63 223.02,417.76 222.82,417.89 222.64,418.02 222.48,418.15 222.34,418.28 222.22,418.41 222.12,418.55 222.03,418.68 221.97,418.81 221.93,418.95 221.91,419.08 221.91,419.15 221.92,419.28 221.95,419.42 222.00,419.55 222.07,419.69 222.16,419.82 222.27,419.95 222.41,420.09 222.56,420.22 222.73,420.35 222.92,420.48 223.02,420.54 223.13,420.60 223.36,420.73 223.60,420.85 223.87,420.98 224.15,421.10 224.46,421.22 224.78,421.33 225.12,421.45 225.47,421.56 225.84,421.67 226.23,421.78 226.63,421.88 227.05,421.98 227.49,422.08 227.94,422.18 228.40,422.27 228.88,422.36 229.37,422.45 229.87,422.53 230.39,422.61 230.92,422.69 231.46,422.76 232.01,422.83 232.56,422.90 233.13,422.96 233.71,423.02 234.30,423.07 234.89,423.12 235.50,423.17 236.11,423.21 236.72,423.25 237.34,423.28 237.96,423.31 238.59,423.34 239.23,423.36 239.86,423.37 240.50,423.39 241.14,423.40 241.78,423.40 242.10,423.40 242.62,423.40 243.14,423.39 243.65,423.39 244.17,423.38 244.68,423.37 245.20,423.35 245.71,423.33 246.22,423.31 246.72,423.29 247.23,423.26 247.48,423.25 247.73,423.23 248.22,423.20 248.71,423.17 249.20,423.13 249.68,423.09 250.16,423.05 250.63,423.00 251.10,422.95 251.56,422.90 252.02,422.85 252.47,422.80 252.91,422.74 253.34,422.68 253.77,422.62 254.19,422.55 254.60,422.49 255.00,422.42 255.40,422.35 255.78,422.28 256.16,422.20 256.52,422.12 256.88,422.04 257.23,421.96 257.57,421.88 257.90,421.80 258.21,421.71 258.52,421.62 258.82,421.53 259.10,421.44 259.38,421.35 259.64,421.26 259.89,421.16 260.13,421.06 260.36,420.96 260.57,420.87 260.78,420.77 260.97,420.66 261.14,420.56 261.31,420.46 261.39,420.41Z M261.39,420.00 242.10,420.00 242.10,420.85 253.31,420.85 253.31,423.40 261.39,423.40 261.39,420.00Z" fill="#FFA500"/>
<path d="M261.39,409.94 261.23,410.04 261.06,410.15 260.87,410.25 260.67,410.35 260.47,410.46 260.24,410.56 260.01,410.66 259.77,410.76 259.51,410.85 259.24,410.95 258.96,411.04 258.67,411.14 258.37,411.23 258.06,411.32 257.73,411.40 257.40,411.49 257.06,411.57 256.71,411.65 256.34,411.73 255.97,411.81 255.59,411.89 255.20,411.96 254.80,412.03 254.39,412.10 253.98,412.17 253.56,412.23 253.12,412.29 252.69,412.35 252.24,412.41 251.79,412.47 251.33,412.52 250.87,412.57 250.40,412.62 249.92,412.66 249.44,412.70 248.96,412.74 248.47,412.78 247.97,412.81 247.48,412.84 246.98,412.87 246.47,412.90 245.96,412.92 245.45,412.94 244.94,412.96 244.43,412.97 243.91,412.98 243.39,412.99 242.88,413.00 242.36,413.00 242.10,413.00 241.46,413.00 240.82,412.99 240.18,412.98 239.54,412.97 238.91,412.95 238.28,412.92 237.65,412.89 237.03,412.86 236.41,412.82 235.80,412.78 235.19,412.74 234.60,412.69 234.01,412.64 233.42,412.58 232.85,412.52 232.28,412.45 231.73,412.38 231.18,412.31 230.65,412.23 230.13,412.15 229.62,412.07 229.12,411.98 228.64,411.89 228.17,411.80 227.71,411.70 227.27,411.60 226.84,411.50 226.43,411.39 226.03,411.28 225.65,411.17 225.29,411.06 224.94,410.94 224.61,410.82 224.30,410.70 224.01,410.58 223.73,410.46 223.48,410.33 223.24,410.20 223.02,410.07 222.82,409.94 222.64,409.81 222.48,409.68 222.34,409.54 222.22,409.41 222.12,409.27 222.03,409.13 221.97,408.99 221.93,408.86 221.91,408.72 221.91,408.65 221.92,408.51 221.95,408.37 222.00,408.24 222.07,408.10 222.16,407.96 222.27,407.83 222.41,407.69 222.56,407.56 222.73,407.42 222.92,407.29 223.13,407.16 223.36,407.03 223.60,406.91 223.87,406.78 224.15,406.66 224.46,406.54 224.78,406.42 225.12,406.30 225.47,406.18 225.84,406.07 226.23,405.96 226.63,405.85 227.05,405.75 227.49,405.65 227.94,405.55 228.40,405.45 228.88,405.36 229.37,405.27 229.87,405.19 230.39,405.11 230.92,405.03 231.46,404.95 232.01,404.88 232.56,404.82 233.13,404.75 233.71,404.69 234.30,404.64 234.89,404.59 235.50,404.54 236.11,404.50 236.72,404.46 237.34,404.42 237.96,404.39 238.59,404.37 239.23,404.34 239.86,404.33 240.50,404.31 241.14,404.30 241.78,404.30 242.10,404.30 242.62,404.30 243.14,404.31 243.65,404.31 244.17,404.32 244.68,404.34 245.20,404.35 245.71,404.37 246.22,404.39 246.72,404.42 247.23,404.44 247.73,404.47 248.22,404.50 248.71,404.54 249.20,404.58 249.68,404.62 250.16,404.66 250.63,404.71 251.10,404.76 251.56,404.81 252.02,404.86 252.47,404.92 252.91,404.98 253.34,405.04 253.77,405.10 254.19,405.17 254.60,405.23 255.00,405.30 255.40,405.38 255.78,405.45 256.16,405.53 256.52,405.61 256.88,405.69 257.23,405.77 257.57,405.85 257.90,405.94 258.21,406.03 258.52,406.12 258.82,406.21 259.10,406.30 259.38,406.40 259.64,406.50 259.89,406.59 260.13,406.69 260.36,406.79 260.57,406.89 260.78,407.00 260.97,407.10 261.14,407.21 261.31,407.31 261.39,407.36 254.88,407.36 254.72,407.28 254.55,407.21 254.38,407.14 254.19,407.07 254.00,407.01 253.80,406.94 253.60,406.88 253.38,406.82 253.16,406.75 252.93,406.69 252.69,406.63 252.45,406.58 252.20,406.52 251.94,406.46 251.68,406.41 251.41,406.36 251.13,406.31 250.85,406.26 250.56,406.21 250.27,406.16 249.97,406.12 249.66,406.08 249.36,406.04 249.04,406.00 248.72,405.96 248.40,405.92 248.07,405.89 247.74,405.86 247.41,405.83 247.07,405.80 246.73,405.77 246.39,405.75 246.04,405.73 245.69,405.70 245.34,405.69 244.98,405.67 244.63,405.65 244.27,405.64 243.91,405.63 243.55,405.62 243.19,405.61 242.83,405.61 242.46,405.61 242.10,405.61 241.88,405.61 241.43,405.61 240.98,405.61 240.53,405.62 240.09,405.64 239.87,405.64 239.65,405.65 239.21,405.67 238.77,405.69 238.33,405.72 237.90,405.74 237.48,405.77 237.06,405.81 236.64,405.84 236.23,405.88 235.82,405.92 235.43,405.97 235.03,406.01 234.65,406.06 234.27,406.11 233.90,406.17 233.54,406.23 233.19,406.29 232.84,406.35 232.51,406.41 232.19,406.48 231.87,406.55 231.57,406.62 231.27,406.69 230.99,406.77 230.72,406.84 230.46,406.92 230.21,407.00 229.97,407.09 229.75,407.17 229.54,407.25 229.34,407.34 229.15,407.43 228.98,407.52 228.82,407.61 228.67,407.70 228.54,407.79 228.42,407.89 228.31,407.98 228.22,408.07 228.14,408.17 228.08,408.26 228.03,408.36 228.00,408.46 227.97,408.55 227.97,408.65 227.97,408.70 227.98,408.79 228.01,408.89 228.05,408.99 228.11,409.08 228.14,409.13 228.18,409.18 228.27,409.27 228.37,409.37 228.48,409.46 228.60,409.55 228.74,409.65 228.90,409.74 229.06,409.83 229.24,409.91 229.44,410.00 229.64,410.09 229.86,410.17 230.09,410.26 230.33,410.34 230.59,410.42 230.85,410.49 231.13,410.57 231.42,410.64 231.72,410.72 232.03,410.79 232.35,410.85 232.68,410.92 233.02,410.98 233.36,411.04 233.72,411.10 234.09,411.16 234.46,411.21 234.84,411.26 235.23,411.31 235.62,411.36 236.03,411.40 236.43,411.44 236.85,411.48 237.27,411.51 237.69,411.54 238.12,411.57 238.55,411.60 238.99,411.62 239.43,411.64 239.87,411.66 240.31,411.67 240.76,411.68 241.20,411.69 241.65,411.69 242.10,411.69 242.28,411.69 242.64,411.69 243.01,411.69 243.37,411.68 243.73,411.67 243.91,411.67 244.09,411.66 244.45,411.65 244.80,411.64 245.16,411.62 245.51,411.60 245.86,411.59 246.21,411.56 246.56,411.54 246.90,411.51 247.24,411.49 247.58,411.46 247.91,411.43 248.24,411.39 248.56,411.36 248.88,411.32 249.20,411.28 249.51,411.24 249.82,411.20 250.12,411.16 250.41,411.11 250.71,411.07 250.99,411.02 251.27,410.97 251.54,410.92 251.81,410.86 252.07,410.81 252.32,410.75 252.57,410.70 252.81,410.64 253.04,410.58 253.27,410.52 253.49,410.45 253.70,410.39 253.90,410.32 254.10,410.26 254.29,410.19 254.47,410.12 254.64,410.06 254.80,409.99 254.88,409.94Z" fill="#0000FF"/>
<path d="M221.91,385.40 262.29,385.40 262.29,387.12 246.14,387.12 246.14,402.60 238.06,402.60 238.06,387.12 221.91,387.12Z" fill="#FF0000"/>
<path d="M262.29,428.90 278.44,424.10 286.52,424.10 302.67,428.90 294.59,428.90 289.75,427.46 275.21,427.46 270.37,428.90Z M276.83,426.98 282.48,425.30 288.13,426.98Z" fill="#10FF00" fill-rule="evenodd"/>
<path d="M262.29,407.10 302.67,407.10 302.67,408.65 286.52,408.65 286.52,422.60 278.44,422.60 278.44,408.65 262.29,408.65Z" fill="#FF0000"/>
<path d="M295.26,399.17 295.10,399.36 294.93,399.51 294.76,399.66 294.57,399.81 294.38,399.95 294.18,400.10 293.98,400.24 293.76,400.38 293.54,400.51 293.31,400.65 293.07,400.78 292.83,400.90 292.58,401.03 292.32,401.15 292.06,401.27 291.79,401.38 291.51,401.49 291.23,401.60 290.94,401.70 290.65,401.81 290.35,401.90 290.04,402.00 289.74,402.09 289.42,402.17 289.10,402.26 288.78,402.33 288.45,402.41 288.12,402.48 287.79,402.55 287.45,402.61 287.11,402.67 286.77,402.72 286.42,402.77 286.07,402.82 285.72,402.86 285.36,402.89 285.01,402.93 284.65,402.96 284.29,402.98 283.93,403.00 283.57,403.02 283.21,403.03 282.84,403.03 282.48,403.03 282.26,403.03 281.81,403.03 281.36,403.01 280.91,402.99 280.47,402.97 280.25,402.95 280.03,402.93 279.59,402.89 279.15,402.85 278.71,402.79 278.28,402.73 277.86,402.67 277.44,402.59 277.02,402.52 276.61,402.43 276.20,402.34 275.81,402.24 275.41,402.14 275.03,402.03 274.65,401.92 274.28,401.80 273.92,401.67 273.57,401.54 273.22,401.40 272.89,401.26 272.57,401.11 272.25,400.96 271.95,400.81 271.65,400.65 271.37,400.48 271.10,400.31 270.84,400.14 270.59,399.96 270.35,399.78 270.13,399.60 269.92,399.41 269.72,399.22 269.53,399.03 269.36,398.83 269.20,398.64 269.05,398.44 268.92,398.23 268.80,398.03 268.69,397.82 268.60,397.62 268.52,397.41 268.46,397.20 268.41,396.99 268.38,396.77 268.35,396.56 268.35,396.35 268.35,396.24 268.36,396.03 268.39,395.82 268.43,395.61 268.49,395.40 268.52,395.29 268.56,395.19 268.65,394.98 268.75,394.77 268.86,394.57 268.98,394.37 269.12,394.16 269.28,393.96 269.44,393.77 269.62,393.57 269.82,393.38 270.02,393.19 270.24,393.01 270.47,392.83 270.71,392.65 270.97,392.47 271.23,392.30 271.51,392.13 271.80,391.97 272.10,391.81 272.41,391.66 272.73,391.51 273.06,391.37 273.40,391.23 273.74,391.10 274.10,390.97 274.47,390.84 274.84,390.73 275.22,390.61 275.61,390.51 276.00,390.41 276.41,390.31 276.81,390.23 277.23,390.14 277.65,390.07 278.07,390.00 278.50,389.94 278.93,389.88 279.37,389.83 279.81,389.79 280.25,389.75 280.69,389.72 281.14,389.70 281.58,389.68 282.03,389.67 282.48,389.67 282.66,389.67 283.02,389.67 283.39,389.68 283.75,389.69 284.11,389.71 284.29,389.72 284.47,389.73 284.83,389.76 285.18,389.79 285.54,389.82 285.89,389.86 286.24,389.91 286.59,389.95 286.94,390.01 287.28,390.06 287.62,390.12 287.96,390.19 288.29,390.26 288.62,390.33 288.94,390.40 289.26,390.49 289.58,390.57 289.89,390.66 290.20,390.75 290.50,390.85 290.79,390.94 291.09,391.05 291.37,391.15 291.65,391.26 291.92,391.38 292.19,391.49 292.45,391.61 292.70,391.73 292.95,391.86 293.19,391.99 293.42,392.12 293.65,392.25 293.87,392.39 294.08,392.53 294.28,392.67 294.48,392.82 294.67,392.96 294.85,393.11 295.02,393.26 295.18,393.42 301.77,393.53 301.61,393.29 301.44,393.06 301.25,392.83 301.05,392.61 300.85,392.38 300.62,392.16 300.39,391.94 300.15,391.73 299.89,391.51 299.62,391.30 299.48,391.20 299.34,391.10 299.05,390.89 298.75,390.69 298.44,390.50 298.11,390.31 297.78,390.12 297.44,389.94 297.09,389.76 296.72,389.58 296.35,389.41 295.97,389.24 295.58,389.08 295.18,388.93 294.77,388.77 294.36,388.63 293.94,388.49 293.50,388.35 293.07,388.22 292.62,388.09 292.17,387.97 291.71,387.86 291.25,387.75 290.78,387.64 290.30,387.55 289.82,387.45 289.34,387.37 288.85,387.29 288.35,387.21 287.86,387.14 287.36,387.08 286.85,387.03 286.34,386.98 285.83,386.93 285.32,386.90 284.81,386.86 284.29,386.84 283.77,386.82 283.26,386.81 282.74,386.80 282.48,386.80 281.84,386.80 281.20,386.82 280.56,386.84 279.92,386.88 279.29,386.92 278.66,386.97 278.03,387.03 277.41,387.11 276.79,387.19 276.18,387.28 275.88,387.33 275.57,387.38 274.98,387.48 274.39,387.60 273.80,387.73 273.23,387.86 272.66,388.00 272.11,388.16 271.56,388.32 271.03,388.48 270.51,388.66 270.00,388.84 269.50,389.03 269.02,389.23 268.55,389.44 268.09,389.65 267.65,389.87 267.22,390.10 266.81,390.33 266.41,390.57 266.03,390.81 265.67,391.06 265.32,391.31 264.99,391.57 264.68,391.84 264.39,392.11 264.11,392.38 263.86,392.66 263.62,392.94 263.40,393.23 263.20,393.51 263.02,393.81 262.86,394.10 262.72,394.39 262.60,394.69 262.50,394.99 262.41,395.29 262.35,395.59 262.31,395.90 262.29,396.20 262.29,396.35 262.30,396.65 262.33,396.96 262.38,397.26 262.45,397.56 262.54,397.86 262.65,398.16 262.79,398.45 262.94,398.75 263.11,399.04 263.30,399.33 263.40,399.47 263.51,399.62 263.74,399.90 263.98,400.18 264.25,400.45 264.53,400.73 264.84,400.99 265.16,401.26 265.50,401.51 265.85,401.77 266.22,402.01 266.61,402.25 267.01,402.49 267.43,402.72 267.87,402.94 268.32,403.16 268.78,403.37 269.26,403.57 269.75,403.76 270.25,403.95 270.77,404.13 271.30,404.30 271.84,404.46 272.38,404.62 272.94,404.77 273.51,404.91 274.09,405.04 274.68,405.16 275.27,405.27 275.88,405.37 276.49,405.47 277.10,405.55 277.72,405.63 278.34,405.70 278.97,405.75 279.61,405.80 280.24,405.84 280.88,405.87 281.52,405.89 282.16,405.90 282.48,405.90 283.00,405.90 283.52,405.89 284.03,405.87 284.55,405.85 285.06,405.82 285.58,405.79 286.09,405.75 286.60,405.70 287.10,405.65 287.61,405.59 287.86,405.56 288.11,405.52 288.60,405.45 289.09,405.37 289.58,405.29 290.06,405.20 290.54,405.11 291.01,405.00 291.48,404.90 291.94,404.79 292.40,404.67 292.85,404.55 293.29,404.42 293.72,404.28 294.15,404.14 294.57,404.00 294.98,403.85 295.38,403.70 295.78,403.54 296.16,403.37 296.54,403.20 296.90,403.03 297.26,402.85 297.61,402.67 297.95,402.49 298.28,402.30 298.59,402.10 298.90,401.91 299.20,401.70 299.48,401.50 299.76,401.29 300.02,401.08 300.27,400.87 300.51,400.65 300.74,400.43 300.95,400.21 301.16,399.98 301.35,399.75 301.52,399.52 301.69,399.29 301.77,399.17Z M301.77,398.26 282.48,398.26 282.48,400.17 293.69,400.17 293.69,405.90 301.77,405.90 301.77,398.26Z" fill="#FFA500"/>
<path d="M301.8,355.3 301.6,356.3 301.4,357.3 301.3,358.3 301.1,359.3 300.8,360.3 300.6,361.3 300.4,362.3 300.1,363.3 299.9,364.2 299.6,365.1 299.3,366.0 299.1,366.9 298.7,367.8 298.4,368.7 298.1,369.5 297.8,370.4 297.4,371.2 297.1,372.0 296.7,372.8 296.4,373.5 296.0,374.3 295.6,375.0 295.2,375.7 294.8,376.3 294.4,377.0 293.9,377.6 293.5,378.2 293.1,378.8 292.6,379.4 292.2,379.9 291.7,380.4 291.2,380.9 290.8,381.4 290.3,381.8 289.8,382.2 289.3,382.6 288.8,382.9 288.4,383.3 287.9,383.6 287.4,383.8 286.9,384.1 286.3,384.3 285.8,384.5 285.3,384.7 284.8,384.8 284.3,384.9 283.8,385.0 283.3,385.1 282.7,385.1 282.5,385.1 281.8,385.1 281.2,385.0 280.6,384.9 279.9,384.8 279.3,384.6 278.7,384.3 278.0,384.1 277.4,383.7 276.8,383.4 276.2,383.0 275.6,382.5 275.0,382.1 274.4,381.5 273.8,381.0 273.2,380.4 272.7,379.8 272.1,379.1 271.6,378.4 271.0,377.6 270.5,376.9 270.0,376.0 269.5,375.2 269.0,374.3 268.5,373.4 268.1,372.5 267.6,371.5 267.2,370.5 266.8,369.5 266.4,368.4 266.0,367.3 265.7,366.2 265.3,365.1 265.0,363.9 264.7,362.8 264.4,361.6 264.1,360.3 263.9,359.1 263.6,357.9 263.4,356.6 263.2,355.3 263.0,354.0 262.9,352.7 262.7,351.4 262.6,350.1 262.5,348.8 262.4,347.4 262.4,346.1 262.3,344.8 262.3,343.4 262.3,342.8 262.3,341.4 262.3,340.1 262.4,338.7 262.5,337.4 262.5,336.1 262.7,334.7 262.8,333.4 262.9,332.1 263.1,330.8 263.3,329.5 263.5,328.3 263.7,327.0 264.0,325.8 264.2,324.5 264.5,323.3 264.8,322.2 265.2,321.0 265.5,319.9 265.8,318.7 266.2,317.6 266.6,316.6 267.0,315.5 267.4,314.5 267.9,313.5 268.3,312.6 268.8,311.6 269.3,310.7 269.7,309.9 270.3,309.0 270.8,308.3 271.3,307.5 271.8,306.8 272.4,306.1 272.9,305.4 273.5,304.8 274.1,304.2 274.7,303.7 275.3,303.2 275.9,302.7 276.5,302.3 277.1,301.9 277.7,301.6 278.3,301.3 279.0,301.0 279.6,300.8 280.2,300.7 280.9,300.5 281.5,300.4 282.2,300.4 282.5,300.4 283.0,300.4 283.5,300.5 284.0,300.5 284.5,300.6 285.1,300.7 285.6,300.9 286.1,301.1 286.6,301.3 287.1,301.5 287.6,301.8 288.1,302.1 288.6,302.4 289.1,302.7 289.6,303.1 290.1,303.5 290.5,303.9 291.0,304.4 291.5,304.8 291.9,305.3 292.4,305.9 292.8,306.4 293.3,307.0 293.7,307.6 294.1,308.2 294.6,308.8 295.0,309.5 295.4,310.2 295.8,310.9 296.2,311.6 296.5,312.4 296.9,313.1 297.3,313.9 297.6,314.7 297.9,315.5 298.3,316.4 298.6,317.2 298.9,318.1 299.2,319.0 299.5,319.9 299.8,320.8 300.0,321.8 300.3,322.7 300.5,323.7 300.7,324.7 301.0,325.7 301.2,326.7 301.3,327.7 301.5,328.7 301.7,329.7 301.8,330.2 295.3,330.2 295.1,329.4 294.9,328.7 294.8,328.1 294.6,327.4 294.4,326.8 294.2,326.1 294.0,325.5 293.8,324.9 293.5,324.3 293.3,323.7 293.1,323.1 292.8,322.6 292.6,322.0 292.3,321.5 292.1,320.9 291.8,320.4 291.5,319.9 291.2,319.5 290.9,319.0 290.6,318.6 290.3,318.1 290.0,317.7 289.7,317.3 289.4,316.9 289.1,316.6 288.8,316.2 288.5,315.9 288.1,315.6 287.8,315.3 287.5,315.0 287.1,314.7 286.8,314.5 286.4,314.3 286.1,314.1 285.7,313.9 285.4,313.7 285.0,313.6 284.6,313.5 284.3,313.3 283.9,313.3 283.6,313.2 283.2,313.1 282.8,313.1 282.5,313.1 282.3,313.1 281.8,313.1 281.4,313.2 280.9,313.3 280.5,313.4 280.2,313.5 280.0,313.6 279.6,313.7 279.1,313.9 278.7,314.2 278.3,314.4 277.9,314.7 277.4,315.1 277.0,315.4 276.6,315.8 276.2,316.2 275.8,316.6 275.4,317.1 275.0,317.6 274.7,318.1 274.3,318.6 273.9,319.2 273.6,319.7 273.2,320.3 272.9,321.0 272.6,321.6 272.3,322.3 271.9,323.0 271.7,323.7 271.4,324.4 271.1,325.2 270.8,325.9 270.6,326.7 270.4,327.5 270.1,328.3 269.9,329.2 269.7,330.0 269.5,330.9 269.4,331.7 269.2,332.6 269.1,333.5 268.9,334.4 268.8,335.3 268.7,336.2 268.6,337.1 268.5,338.1 268.5,339.0 268.4,339.9 268.4,340.9 268.4,341.8 268.3,342.8 268.3,343.2 268.4,344.2 268.4,345.1 268.4,346.0 268.5,347.0 268.5,347.4 268.6,347.9 268.6,348.8 268.7,349.7 268.9,350.6 269.0,351.6 269.1,352.4 269.3,353.3 269.4,354.2 269.6,355.1 269.8,355.9 270.0,356.8 270.2,357.6 270.5,358.4 270.7,359.2 271.0,359.9 271.2,360.7 271.5,361.4 271.8,362.2 272.1,362.9 272.4,363.5 272.7,364.2 273.1,364.8 273.4,365.5 273.7,366.1 274.1,366.6 274.5,367.2 274.8,367.7 275.2,368.2 275.6,368.7 276.0,369.1 276.4,369.5 276.8,369.9 277.2,370.3 277.6,370.6 278.1,370.9 278.5,371.2 278.9,371.4 279.4,371.7 279.8,371.9 280.2,372.0 280.7,372.2 281.1,372.3 281.6,372.3 282.0,372.4 282.5,372.4 282.7,372.4 283.0,372.4 283.4,372.3 283.7,372.3 284.1,372.2 284.3,372.2 284.5,372.1 284.8,372.0 285.2,371.8 285.5,371.7 285.9,371.5 286.2,371.3 286.6,371.1 286.9,370.9 287.3,370.6 287.6,370.4 288.0,370.1 288.3,369.8 288.6,369.5 288.9,369.1 289.3,368.8 289.6,368.4 289.9,368.0 290.2,367.6 290.5,367.2 290.8,366.7 291.1,366.3 291.4,365.8 291.6,365.3 291.9,364.8 292.2,364.3 292.4,363.8 292.7,363.2 293.0,362.7 293.2,362.1 293.4,361.5 293.7,360.9 293.9,360.3 294.1,359.7 294.3,359.1 294.5,358.4 294.7,357.8 294.8,357.1 295.0,356.4 295.2,355.8 295.3,355.3Z" fill="#0000FF"/>
<path d="M302.67,428.70 318.82,427.90 326.90,427.90 343.05,428.70 334.97,428.70 330.13,428.46 315.59,428.46 310.75,428.70Z M317.21,428.38 322.86,428.10 328.51,428.38Z" fill="#10FF00" fill-rule="evenodd"/>
<path d="M335.64,424.30 335.48,424.37 335.31,424.43 335.14,424.48 334.95,424.53 334.76,424.58 334.56,424.63 334.36,424.68 334.14,424.73 333.92,424.78 333.69,424.83 333.45,424.88 333.21,424.92 332.96,424.97 332.70,425.01 332.44,425.05 332.17,425.09 331.89,425.13 331.61,425.17 331.32,425.21 331.03,425.24 330.73,425.28 330.42,425.31 330.12,425.34 329.80,425.37 329.48,425.40 329.16,425.43 328.83,425.46 328.50,425.48 328.17,425.51 327.83,425.53 327.49,425.55 327.15,425.57 326.80,425.59 326.45,425.60 326.10,425.62 325.74,425.63 325.39,425.64 325.03,425.65 324.67,425.66 324.31,425.67 323.95,425.67 323.59,425.68 323.22,425.68 322.86,425.68 322.64,425.68 322.19,425.68 321.74,425.67 321.29,425.67 320.85,425.66 320.63,425.65 320.41,425.64 319.97,425.63 319.53,425.61 319.09,425.59 318.66,425.57 318.24,425.55 317.82,425.52 317.40,425.50 316.99,425.46 316.58,425.43 316.19,425.40 315.79,425.36 315.41,425.32 315.03,425.28 314.66,425.24 314.30,425.19 313.95,425.15 313.60,425.10 313.27,425.05 312.95,425.00 312.63,424.94 312.33,424.89 312.03,424.83 311.75,424.77 311.48,424.71 311.22,424.65 310.97,424.59 310.73,424.52 310.51,424.46 310.30,424.39 310.10,424.32 309.91,424.25 309.74,424.18 309.58,424.11 309.43,424.04 309.30,423.97 309.18,423.90 309.07,423.82 308.98,423.75 308.90,423.68 308.84,423.60 308.79,423.53 308.76,423.45 308.73,423.38 308.73,423.30 308.73,423.26 308.74,423.19 308.77,423.11 308.81,423.04 308.87,422.96 308.90,422.92 308.94,422.89 309.03,422.81 309.13,422.74 309.24,422.67 309.36,422.59 309.50,422.52 309.66,422.45 309.82,422.38 310.00,422.31 310.20,422.24 310.40,422.18 310.62,422.11 310.85,422.05 311.09,421.98 311.35,421.92 311.61,421.86 311.89,421.80 312.18,421.74 312.48,421.69 312.79,421.63 313.11,421.58 313.44,421.53 313.78,421.48 314.12,421.43 314.48,421.38 314.85,421.34 315.22,421.30 315.60,421.26 315.99,421.22 316.38,421.18 316.79,421.15 317.19,421.12 317.61,421.09 318.03,421.06 318.45,421.04 318.88,421.02 319.31,421.00 319.75,420.98 320.19,420.96 320.63,420.95 321.07,420.94 321.52,420.93 321.96,420.92 322.41,420.92 322.86,420.92 323.04,420.92 323.40,420.92 323.77,420.92 324.13,420.93 324.49,420.94 324.67,420.94 324.85,420.94 325.21,420.95 325.56,420.96 325.92,420.98 326.27,420.99 326.62,421.01 326.97,421.02 327.32,421.04 327.66,421.06 328.00,421.08 328.34,421.11 328.67,421.13 329.00,421.16 329.32,421.18 329.64,421.21 329.96,421.24 330.27,421.27 330.58,421.31 330.88,421.34 331.17,421.38 331.47,421.41 331.75,421.45 332.03,421.49 332.30,421.53 332.57,421.57 332.83,421.61 333.08,421.66 333.33,421.70 333.57,421.75 333.80,421.79 334.03,421.84 334.25,421.89 334.46,421.94 334.66,421.99 334.86,422.04 335.05,422.09 335.23,422.15 335.40,422.20 335.56,422.26 342.15,422.30 341.99,422.21 341.82,422.13 341.63,422.05 341.43,421.97 341.23,421.89 341.00,421.81 340.77,421.73 340.53,421.65 340.27,421.58 340.00,421.50 339.86,421.47 339.72,421.43 339.43,421.36 339.13,421.29 338.82,421.22 338.49,421.15 338.16,421.08 337.82,421.02 337.47,420.95 337.10,420.89 336.73,420.83 336.35,420.77 335.96,420.71 335.56,420.66 335.15,420.60 334.74,420.55 334.32,420.50 333.88,420.45 333.45,420.40 333.00,420.36 332.55,420.32 332.09,420.28 331.63,420.24 331.16,420.20 330.68,420.17 330.20,420.13 329.72,420.10 329.23,420.07 328.73,420.05 328.24,420.02 327.74,420.00 327.23,419.98 326.72,419.96 326.21,419.95 325.70,419.93 325.19,419.92 324.67,419.91 324.15,419.91 323.64,419.90 323.12,419.90 322.86,419.90 322.22,419.90 321.58,419.91 320.94,419.92 320.30,419.93 319.67,419.94 319.04,419.96 318.41,419.98 317.79,420.01 317.17,420.04 316.56,420.07 316.26,420.09 315.95,420.11 315.36,420.14 314.77,420.19 314.18,420.23 313.61,420.28 313.04,420.33 312.49,420.38 311.94,420.44 311.41,420.50 310.89,420.56 310.38,420.63 309.88,420.70 309.40,420.77 308.93,420.84 308.47,420.91 308.03,420.99 307.60,421.07 307.19,421.16 306.79,421.24 306.41,421.33 306.05,421.42 305.70,421.51 305.37,421.60 305.06,421.69 304.77,421.79 304.49,421.89 304.24,421.99 304.00,422.09 303.78,422.19 303.58,422.29 303.40,422.39 303.24,422.50 303.10,422.60 302.98,422.71 302.88,422.82 302.79,422.92 302.73,423.03 302.69,423.14 302.67,423.25 302.67,423.30 302.68,423.41 302.71,423.52 302.76,423.62 302.83,423.73 302.92,423.84 303.03,423.94 303.17,424.05 303.32,424.15 303.49,424.26 303.68,424.36 303.78,424.41 303.89,424.46 304.12,424.56 304.36,424.66 304.63,424.76 304.91,424.86 305.22,424.95 305.54,425.05 305.88,425.14 306.23,425.23 306.60,425.32 306.99,425.40 307.39,425.49 307.81,425.57 308.25,425.65 308.70,425.72 309.16,425.80 309.64,425.87 310.13,425.94 310.63,426.01 311.15,426.07 311.68,426.13 312.22,426.19 312.76,426.24 313.32,426.30 313.89,426.35 314.47,426.39 315.06,426.44 315.65,426.48 316.26,426.51 316.87,426.55 317.48,426.58 318.10,426.60 318.72,426.63 319.35,426.65 319.99,426.67 320.62,426.68 321.26,426.69 321.90,426.70 322.54,426.70 322.86,426.70 323.38,426.70 323.90,426.70 324.41,426.69 324.93,426.68 325.44,426.67 325.96,426.66 326.47,426.65 326.98,426.63 327.48,426.61 327.99,426.59 328.24,426.58 328.49,426.57 328.98,426.54 329.47,426.51 329.96,426.48 330.44,426.45 330.92,426.42 331.39,426.38 331.86,426.34 332.32,426.30 332.78,426.26 333.23,426.22 333.67,426.17 334.10,426.12 334.53,426.07 334.95,426.02 335.36,425.97 335.76,425.92 336.16,425.86 336.54,425.80 336.92,425.74 337.28,425.68 337.64,425.62 337.99,425.55 338.33,425.48 338.66,425.42 338.97,425.35 339.28,425.28 339.58,425.21 339.86,425.13 340.14,425.06 340.40,424.98 340.65,424.91 340.89,424.83 341.12,424.75 341.33,424.67 341.54,424.59 341.73,424.51 341.90,424.43 342.07,424.35 342.15,424.30Z M342.15,423.98 322.86,423.98 322.86,424.66 334.07,424.66 334.07,426.70 342.15,426.70 342.15,423.98Z" fill="#FFA500"/>
<path d="M342.1,399.8 342.0,400.4 341.8,401.1 341.6,401.7 341.4,402.4 341.2,403.0 341.0,403.6 340.8,404.3 340.5,404.9 340.3,405.5 340.0,406.1 339.7,406.7 339.4,407.2 339.1,407.8 338.8,408.3 338.5,408.9 338.2,409.4 337.8,409.9 337.5,410.4 337.1,410.9 336.7,411.4 336.3,411.9 336.0,412.3 335.6,412.8 335.2,413.2 334.7,413.6 334.3,414.0 333.9,414.4 333.4,414.8 333.0,415.1 332.6,415.5 332.1,415.8 331.6,416.1 331.2,416.4 330.7,416.7 330.2,417.0 329.7,417.2 329.2,417.4 328.7,417.6 328.2,417.8 327.7,418.0 327.2,418.2 326.7,418.3 326.2,418.4 325.7,418.5 325.2,418.6 324.7,418.7 324.2,418.7 323.6,418.8 323.1,418.8 322.9,418.8 322.2,418.8 321.6,418.7 320.9,418.7 320.3,418.6 319.7,418.5 319.0,418.3 318.4,418.1 317.8,417.9 317.2,417.7 316.6,417.5 316.0,417.2 315.4,416.9 314.8,416.5 314.2,416.2 313.6,415.8 313.0,415.4 312.5,415.0 311.9,414.5 311.4,414.0 310.9,413.5 310.4,413.0 309.9,412.5 309.4,411.9 308.9,411.3 308.5,410.7 308.0,410.1 307.6,409.5 307.2,408.8 306.8,408.2 306.4,407.5 306.1,406.8 305.7,406.0 305.4,405.3 305.1,404.6 304.8,403.8 304.5,403.0 304.2,402.2 304.0,401.4 303.8,400.6 303.6,399.8 303.4,399.0 303.2,398.2 303.1,397.3 303.0,396.5 302.9,395.6 302.8,394.8 302.7,393.9 302.7,393.1 302.7,392.2 302.7,391.8 302.7,390.9 302.7,390.1 302.8,389.2 302.8,388.4 302.9,387.5 303.0,386.7 303.2,385.9 303.3,385.0 303.5,384.2 303.7,383.4 303.9,382.6 304.1,381.8 304.4,381.0 304.6,380.2 304.9,379.4 305.2,378.7 305.5,377.9 305.9,377.2 306.2,376.5 306.6,375.8 307.0,375.1 307.4,374.4 307.8,373.8 308.2,373.2 308.7,372.6 309.2,372.0 309.6,371.4 310.1,370.8 310.6,370.3 311.1,369.8 311.7,369.3 312.2,368.9 312.8,368.4 313.3,368.0 313.9,367.6 314.5,367.2 315.1,366.9 315.7,366.6 316.3,366.3 316.9,366.0 317.5,365.8 318.1,365.6 318.7,365.4 319.4,365.2 320.0,365.1 320.6,365.0 321.3,364.9 321.9,364.8 322.5,364.8 322.9,364.8 323.4,364.8 323.9,364.8 324.4,364.9 324.9,364.9 325.4,365.0 326.0,365.1 326.5,365.2 327.0,365.4 327.5,365.5 328.0,365.7 328.5,365.9 329.0,366.1 329.5,366.3 330.0,366.5 330.4,366.8 330.9,367.0 331.4,367.3 331.9,367.6 332.3,367.9 332.8,368.3 333.2,368.6 333.7,369.0 334.1,369.4 334.5,369.8 334.9,370.2 335.4,370.6 335.8,371.0 336.2,371.5 336.5,371.9 336.9,372.4 337.3,372.9 337.6,373.4 338.0,373.9 338.3,374.4 338.7,375.0 339.0,375.5 339.3,376.1 339.6,376.7 339.9,377.2 340.1,377.8 340.4,378.4 340.7,379.0 340.9,379.6 341.1,380.3 341.3,380.9 341.5,381.5 341.7,382.2 341.9,382.8 342.1,383.5 342.1,383.8 335.6,383.8 335.5,383.3 335.3,382.9 335.1,382.4 335.0,382.0 334.8,381.6 334.6,381.2 334.4,380.8 334.1,380.4 333.9,380.0 333.7,379.7 333.5,379.3 333.2,378.9 333.0,378.6 332.7,378.2 332.4,377.9 332.2,377.6 331.9,377.3 331.6,377.0 331.3,376.7 331.0,376.4 330.7,376.1 330.4,375.8 330.1,375.6 329.8,375.3 329.5,375.1 329.2,374.9 328.8,374.7 328.5,374.5 328.2,374.3 327.8,374.1 327.5,373.9 327.1,373.8 326.8,373.6 326.4,373.5 326.1,373.4 325.7,373.3 325.4,373.2 325.0,373.1 324.7,373.1 324.3,373.0 323.9,373.0 323.6,372.9 323.2,372.9 322.9,372.9 322.6,372.9 322.2,372.9 321.7,373.0 321.3,373.0 320.8,373.1 320.6,373.1 320.4,373.2 320.0,373.3 319.5,373.4 319.1,373.6 318.7,373.8 318.2,373.9 317.8,374.1 317.4,374.4 317.0,374.6 316.6,374.9 316.2,375.1 315.8,375.4 315.4,375.7 315.0,376.1 314.7,376.4 314.3,376.8 313.9,377.1 313.6,377.5 313.3,377.9 312.9,378.3 312.6,378.8 312.3,379.2 312.0,379.7 311.8,380.1 311.5,380.6 311.2,381.1 311.0,381.6 310.7,382.1 310.5,382.6 310.3,383.1 310.1,383.7 309.9,384.2 309.7,384.8 309.6,385.3 309.4,385.9 309.3,386.5 309.2,387.1 309.1,387.6 309.0,388.2 308.9,388.8 308.8,389.4 308.8,390.0 308.8,390.6 308.7,391.2 308.7,391.8 308.7,392.1 308.7,392.7 308.8,393.3 308.8,393.9 308.9,394.5 308.9,394.8 308.9,395.1 309.0,395.7 309.1,396.3 309.2,396.8 309.4,397.4 309.5,398.0 309.7,398.5 309.8,399.1 310.0,399.7 310.2,400.2 310.4,400.7 310.6,401.2 310.9,401.8 311.1,402.3 311.3,402.8 311.6,403.2 311.9,403.7 312.2,404.2 312.5,404.6 312.8,405.1 313.1,405.5 313.4,405.9 313.8,406.3 314.1,406.7 314.5,407.0 314.8,407.4 315.2,407.7 315.6,408.0 316.0,408.3 316.4,408.6 316.8,408.9 317.2,409.1 317.6,409.3 318.0,409.6 318.5,409.8 318.9,409.9 319.3,410.1 319.7,410.2 320.2,410.4 320.6,410.5 321.1,410.5 321.5,410.6 322.0,410.7 322.4,410.7 322.9,410.7 323.0,410.7 323.4,410.7 323.8,410.7 324.1,410.6 324.5,410.6 324.7,410.5 324.8,410.5 325.2,410.4 325.6,410.4 325.9,410.3 326.3,410.1 326.6,410.0 327.0,409.9 327.3,409.7 327.7,409.6 328.0,409.4 328.3,409.2 328.7,409.0 329.0,408.8 329.3,408.6 329.6,408.4 330.0,408.1 330.3,407.9 330.6,407.6 330.9,407.4 331.2,407.1 331.5,406.8 331.8,406.5 332.0,406.2 332.3,405.9 332.6,405.5 332.8,405.2 333.1,404.8 333.3,404.5 333.6,404.1 333.8,403.8 334.0,403.4 334.2,403.0 334.5,402.6 334.7,402.2 334.9,401.8 335.0,401.4 335.2,401.0 335.4,400.5 335.6,400.1 335.6,399.8Z" fill="#0000FF"/>
<path d="M302.7,279.4 343.1,279.4 343.1,287.8 326.9,287.8 326.9,363.2 318.8,363.2 318.8,287.8 302.7,287.8Z" fill="#FF0000"/>
<path d="M343.05,428.80 359.20,427.30 367.28,427.30 383.43,428.80 375.35,428.80 370.51,428.35 355.97,428.35 351.13,428.80Z M357.59,428.20 363.24,427.68 368.89,428.20Z" fill="#10FF00" fill-rule="evenodd"/>
<path d="M343.05,413.60 383.43,413.60 383.43,414.73 367.28,414.73 367.28,424.90 359.20,424.90 359.20,414.73 343.05,414.73Z" fill="#FF0000"/>
<path d="M382.53,401.40 382.37,401.77 382.20,402.13 382.01,402.49 381.81,402.84 381.61,403.19 381.38,403.54 381.15,403.88 380.91,404.21 380.65,404.55 380.38,404.87 380.10,405.20 379.81,405.51 379.51,405.82 379.20,406.13 378.87,406.43 378.54,406.72 378.20,407.01 377.85,407.29 377.48,407.56 377.11,407.83 376.73,408.09 376.34,408.34 375.94,408.58 375.53,408.82 375.12,409.05 374.70,409.27 374.26,409.48 373.83,409.69 373.38,409.88 372.93,410.07 372.47,410.25 372.01,410.42 371.54,410.58 371.06,410.74 370.58,410.88 370.10,411.01 369.61,411.14 369.11,411.26 368.62,411.36 368.12,411.46 367.61,411.55 367.10,411.62 366.59,411.69 366.08,411.75 365.57,411.80 365.05,411.84 364.53,411.87 364.02,411.89 363.50,411.90 363.24,411.90 362.60,411.89 361.96,411.87 361.32,411.83 360.68,411.78 360.05,411.71 359.42,411.63 358.79,411.53 358.17,411.42 357.55,411.30 356.94,411.16 356.33,411.00 355.74,410.83 355.15,410.65 354.56,410.45 353.99,410.24 353.42,410.02 352.87,409.78 352.32,409.53 351.79,409.27 351.27,409.00 350.76,408.71 350.26,408.41 349.78,408.10 349.31,407.78 348.85,407.45 348.41,407.11 347.98,406.76 347.57,406.40 347.17,406.02 346.79,405.64 346.43,405.25 346.08,404.86 345.75,404.45 345.44,404.04 345.15,403.62 344.87,403.19 344.62,402.76 344.38,402.32 344.16,401.87 343.96,401.42 343.78,400.97 343.62,400.51 343.48,400.05 343.36,399.59 343.26,399.12 343.17,398.65 343.11,398.18 343.07,397.71 343.05,397.24 343.05,397.00 343.06,396.53 343.09,396.05 343.14,395.58 343.21,395.11 343.30,394.65 343.41,394.18 343.55,393.72 343.70,393.26 343.87,392.80 344.06,392.35 344.27,391.90 344.50,391.46 344.74,391.03 345.01,390.60 345.29,390.17 345.60,389.76 345.92,389.35 346.26,388.94 346.61,388.55 346.98,388.17 347.37,387.79 347.77,387.42 348.19,387.07 348.63,386.72 349.08,386.38 349.54,386.05 350.02,385.74 350.51,385.44 351.01,385.14 351.53,384.86 352.06,384.59 352.60,384.34 353.14,384.10 353.70,383.87 354.27,383.65 354.85,383.45 355.44,383.26 356.03,383.08 356.64,382.92 357.25,382.77 357.86,382.64 358.48,382.52 359.10,382.42 359.73,382.33 360.37,382.25 361.00,382.19 361.64,382.15 362.28,382.12 362.92,382.10 363.24,382.10 363.76,382.10 364.28,382.12 364.79,382.14 365.31,382.18 365.82,382.22 366.34,382.28 366.85,382.34 367.36,382.41 367.86,382.50 368.37,382.59 368.87,382.69 369.36,382.80 369.85,382.92 370.34,383.05 370.82,383.19 371.30,383.34 371.77,383.50 372.24,383.66 372.70,383.84 373.16,384.02 373.61,384.21 374.05,384.41 374.48,384.62 374.91,384.84 375.33,385.06 375.74,385.30 376.14,385.54 376.54,385.79 376.92,386.04 377.30,386.30 377.66,386.57 378.02,386.85 378.37,387.13 378.71,387.42 379.04,387.72 379.35,388.02 379.66,388.33 379.96,388.65 380.24,388.96 380.52,389.29 380.78,389.62 381.03,389.95 381.27,390.29 381.50,390.64 381.71,390.99 381.92,391.34 382.11,391.69 382.28,392.05 382.45,392.41 382.53,392.60 376.02,392.60 375.86,392.31 375.69,392.07 375.52,391.83 375.33,391.60 375.14,391.38 374.94,391.15 374.74,390.93 374.52,390.72 374.30,390.50 374.07,390.30 373.83,390.09 373.59,389.90 373.34,389.70 373.08,389.51 372.82,389.33 372.55,389.15 372.27,388.98 371.99,388.81 371.70,388.65 371.41,388.49 371.11,388.34 370.80,388.19 370.50,388.05 370.18,387.91 369.86,387.79 369.54,387.66 369.21,387.55 368.88,387.44 368.55,387.33 368.21,387.24 367.87,387.15 367.53,387.06 367.18,386.98 366.83,386.91 366.48,386.85 366.12,386.79 365.77,386.74 365.41,386.69 365.05,386.66 364.69,386.62 364.33,386.60 363.97,386.58 363.60,386.57 363.24,386.57 363.02,386.57 362.57,386.58 362.12,386.60 361.67,386.63 361.23,386.68 361.01,386.70 360.79,386.73 360.35,386.79 359.91,386.86 359.47,386.95 359.04,387.04 358.62,387.14 358.20,387.26 357.78,387.38 357.37,387.51 356.96,387.65 356.57,387.81 356.17,387.97 355.79,388.14 355.41,388.32 355.04,388.50 354.68,388.70 354.33,388.90 353.98,389.12 353.65,389.34 353.33,389.57 353.01,389.80 352.71,390.05 352.41,390.30 352.13,390.55 351.86,390.82 351.60,391.09 351.35,391.36 351.11,391.64 350.89,391.93 350.68,392.22 350.48,392.52 350.29,392.82 350.12,393.12 349.96,393.43 349.81,393.75 349.68,394.06 349.56,394.38 349.45,394.70 349.36,395.03 349.28,395.35 349.22,395.68 349.17,396.01 349.14,396.34 349.11,396.67 349.11,397.00 349.11,397.17 349.12,397.50 349.15,397.83 349.19,398.16 349.25,398.48 349.28,398.65 349.32,398.81 349.41,399.14 349.51,399.46 349.62,399.78 349.74,400.10 349.88,400.41 350.04,400.72 350.20,401.03 350.38,401.33 350.58,401.63 350.78,401.93 351.00,402.21 351.23,402.50 351.47,402.78 351.73,403.05 351.99,403.32 352.27,403.58 352.56,403.83 352.86,404.08 353.17,404.32 353.49,404.55 353.82,404.77 354.16,404.99 354.50,405.20 354.86,405.40 355.23,405.59 355.60,405.77 355.98,405.95 356.37,406.11 356.76,406.27 357.17,406.42 357.57,406.56 357.99,406.68 358.41,406.80 358.83,406.91 359.26,407.01 359.69,407.10 360.13,407.17 360.57,407.24 361.01,407.30 361.45,407.35 361.90,407.38 362.34,407.41 362.79,407.42 363.24,407.43 363.42,407.43 363.78,407.42 364.15,407.41 364.51,407.39 364.87,407.36 365.05,407.34 365.23,407.33 365.59,407.29 365.94,407.24 366.30,407.18 366.65,407.12 367.00,407.05 367.35,406.98 367.70,406.90 368.04,406.81 368.38,406.72 368.72,406.62 369.05,406.51 369.38,406.39 369.70,406.28 370.02,406.15 370.34,406.02 370.65,405.88 370.96,405.74 371.26,405.59 371.55,405.43 371.85,405.27 372.13,405.11 372.41,404.94 372.68,404.76 372.95,404.58 373.21,404.39 373.46,404.20 373.71,404.01 373.95,403.80 374.18,403.60 374.41,403.39 374.63,403.18 374.84,402.96 375.04,402.74 375.24,402.51 375.43,402.28 375.61,402.05 375.78,401.81 375.94,401.57 376.02,401.40Z" fill="#0000FF"/>
<path d="M376.0,364.5 375.9,364.9 375.7,365.3 375.5,365.6 375.3,366.0 375.1,366.4 374.9,366.7 374.7,367.0 374.5,367.4 374.3,367.7 374.1,368.0 373.8,368.4 373.6,368.7 373.3,369.0 373.1,369.3 372.8,369.5 372.5,369.8 372.3,370.1 372.0,370.4 371.7,370.6 371.4,370.9 371.1,371.1 370.8,371.3 370.5,371.5 370.2,371.7 369.9,371.9 369.5,372.1 369.2,372.3 368.9,372.5 368.5,372.7 368.2,372.8 367.9,372.9 367.5,373.1 367.2,373.2 366.8,373.3 366.5,373.4 366.1,373.5 365.8,373.6 365.4,373.6 365.0,373.7 364.7,373.8 364.3,373.8 364.0,373.8 363.6,373.8 363.2,373.8 363.0,373.8 362.6,373.8 362.1,373.8 361.7,373.7 361.2,373.7 361.0,373.6 360.8,373.6 360.3,373.5 359.9,373.4 359.5,373.3 359.0,373.1 358.6,372.9 358.2,372.8 357.8,372.6 357.4,372.4 357.0,372.2 356.6,371.9 356.2,371.7 355.8,371.4 355.4,371.1 355.0,370.8 354.7,370.5 354.3,370.2 354.0,369.9 353.7,369.5 353.3,369.2 353.0,368.8 352.7,368.4 352.4,368.0 352.1,367.6 351.9,367.2 351.6,366.8 351.4,366.4 351.1,365.9 350.9,365.5 350.7,365.0 350.5,364.6 350.3,364.1 350.1,363.6 350.0,363.2 349.8,362.7 349.7,362.2 349.6,361.7 349.5,361.2 349.4,360.7 349.3,360.2 349.2,359.7 349.2,359.1 349.1,358.6 349.1,358.1 349.1,357.6 349.1,357.3 349.1,356.8 349.2,356.3 349.2,355.8 349.3,355.3 349.3,355.0 349.3,354.8 349.4,354.3 349.5,353.8 349.6,353.3 349.7,352.8 349.9,352.3 350.0,351.8 350.2,351.3 350.4,350.9 350.6,350.4 350.8,349.9 351.0,349.5 351.2,349.0 351.5,348.6 351.7,348.2 352.0,347.8 352.3,347.4 352.6,347.0 352.9,346.6 353.2,346.2 353.5,345.8 353.8,345.5 354.2,345.2 354.5,344.8 354.9,344.5 355.2,344.2 355.6,343.9 356.0,343.7 356.4,343.4 356.8,343.2 357.2,342.9 357.6,342.7 358.0,342.5 358.4,342.3 358.8,342.2 359.3,342.0 359.7,341.9 360.1,341.8 360.6,341.7 361.0,341.6 361.5,341.5 361.9,341.4 362.3,341.4 362.8,341.4 363.2,341.4 363.4,341.4 363.8,341.4 364.1,341.4 364.5,341.4 364.9,341.5 365.0,341.5 365.2,341.5 365.6,341.6 365.9,341.7 366.3,341.7 366.7,341.8 367.0,341.9 367.4,342.1 367.7,342.2 368.0,342.3 368.4,342.5 368.7,342.6 369.0,342.8 369.4,343.0 369.7,343.2 370.0,343.4 370.3,343.6 370.7,343.8 371.0,344.0 371.3,344.2 371.6,344.5 371.8,344.7 372.1,345.0 372.4,345.2 372.7,345.5 372.9,345.8 373.2,346.1 373.5,346.4 373.7,346.7 374.0,347.0 374.2,347.3 374.4,347.7 374.6,348.0 374.8,348.3 375.0,348.7 375.2,349.0 375.4,349.4 375.6,349.7 375.8,350.1 375.9,350.5 382.5,350.7 382.4,350.2 382.2,349.6 382.0,349.1 381.8,348.5 381.6,348.0 381.4,347.4 381.2,346.9 380.9,346.4 380.6,345.9 380.4,345.3 380.2,345.1 380.1,344.8 379.8,344.3 379.5,343.9 379.2,343.4 378.9,342.9 378.5,342.5 378.2,342.0 377.8,341.6 377.5,341.2 377.1,340.7 376.7,340.3 376.3,339.9 375.9,339.6 375.5,339.2 375.1,338.8 374.7,338.5 374.3,338.2 373.8,337.8 373.4,337.5 372.9,337.2 372.5,337.0 372.0,336.7 371.5,336.5 371.1,336.2 370.6,336.0 370.1,335.8 369.6,335.6 369.1,335.4 368.6,335.2 368.1,335.1 367.6,335.0 367.1,334.8 366.6,334.7 366.1,334.6 365.6,334.6 365.1,334.5 364.5,334.4 364.0,334.4 363.5,334.4 363.2,334.4 362.6,334.4 362.0,334.4 361.3,334.5 360.7,334.6 360.0,334.7 359.4,334.8 358.8,335.0 358.2,335.1 357.6,335.3 356.9,335.6 356.6,335.7 356.3,335.8 355.7,336.1 355.1,336.3 354.6,336.7 354.0,337.0 353.4,337.3 352.9,337.7 352.3,338.1 351.8,338.5 351.3,338.9 350.8,339.4 350.3,339.8 349.8,340.3 349.3,340.8 348.9,341.3 348.4,341.9 348.0,342.4 347.6,343.0 347.2,343.5 346.8,344.1 346.4,344.7 346.1,345.4 345.8,346.0 345.4,346.6 345.1,347.3 344.9,348.0 344.6,348.6 344.4,349.3 344.2,350.0 344.0,350.7 343.8,351.4 343.6,352.1 343.5,352.8 343.4,353.6 343.3,354.3 343.2,355.0 343.1,355.8 343.1,356.5 343.1,357.2 343.1,357.6 343.1,358.3 343.1,359.1 343.1,359.8 343.2,360.5 343.3,361.3 343.4,362.0 343.5,362.7 343.7,363.4 343.9,364.1 344.1,364.8 344.2,365.2 344.3,365.5 344.5,366.2 344.7,366.9 345.0,367.6 345.3,368.2 345.6,368.9 345.9,369.5 346.3,370.1 346.6,370.8 347.0,371.4 347.4,371.9 347.8,372.5 348.2,373.1 348.6,373.6 349.1,374.1 349.5,374.6 350.0,375.1 350.5,375.6 351.0,376.1 351.5,376.5 352.1,376.9 352.6,377.3 353.1,377.7 353.7,378.0 354.3,378.4 354.9,378.7 355.4,379.0 356.0,379.3 356.6,379.5 357.2,379.8 357.9,380.0 358.5,380.1 359.1,380.3 359.7,380.4 360.4,380.6 361.0,380.7 361.6,380.7 362.3,380.8 362.9,380.8 363.2,380.8 363.8,380.8 364.3,380.8 364.8,380.7 365.3,380.7 365.8,380.6 366.3,380.5 366.8,380.4 367.4,380.3 367.9,380.2 368.4,380.0 368.6,380.0 368.9,379.9 369.4,379.7 369.9,379.5 370.3,379.3 370.8,379.1 371.3,378.9 371.8,378.6 372.2,378.4 372.7,378.1 373.2,377.8 373.6,377.5 374.0,377.2 374.5,376.9 374.9,376.5 375.3,376.2 375.7,375.8 376.1,375.4 376.5,375.1 376.9,374.7 377.3,374.3 377.7,373.8 378.0,373.4 378.4,373.0 378.7,372.5 379.0,372.0 379.4,371.6 379.7,371.1 380.0,370.6 380.2,370.1 380.5,369.6 380.8,369.1 381.0,368.6 381.3,368.0 381.5,367.5 381.7,367.0 381.9,366.4 382.1,365.9 382.3,365.3 382.5,364.7 382.5,364.5Z M382.5,362.2 363.2,362.2 363.2,366.9 374.5,366.9 374.5,380.8 382.5,380.8 382.5,362.2Z" fill="#FFA500"/>
<path d="M422.91,426.52 422.75,426.53 422.58,426.54 422.39,426.55 422.19,426.56 421.99,426.57 421.76,426.58 421.53,426.58 421.29,426.59 421.03,426.60 420.76,426.61 420.48,426.62 420.19,426.63 419.89,426.64 419.58,426.65 419.25,426.65 418.92,426.66 418.58,426.67 418.23,426.68 417.86,426.68 417.49,426.69 417.11,426.70 416.72,426.70 416.32,426.71 415.91,426.72 415.50,426.72 415.08,426.73 414.64,426.74 414.21,426.74 413.76,426.75 413.31,426.75 412.85,426.76 412.39,426.76 411.92,426.76 411.44,426.77 410.96,426.77 410.48,426.78 409.99,426.78 409.49,426.78 409.00,426.79 408.50,426.79 407.99,426.79 407.48,426.79 406.97,426.79 406.46,426.80 405.95,426.80 405.43,426.80 404.91,426.80 404.40,426.80 403.88,426.80 403.62,426.80 402.98,426.80 402.34,426.80 401.70,426.80 401.06,426.80 400.43,426.79 399.80,426.79 399.17,426.79 398.55,426.79 397.93,426.78 397.32,426.78 396.71,426.78 396.12,426.77 395.53,426.77 394.94,426.76 394.37,426.76 393.80,426.75 393.25,426.74 392.70,426.74 392.17,426.73 391.65,426.72 391.14,426.71 390.64,426.71 390.16,426.70 389.69,426.69 389.23,426.68 388.79,426.67 388.36,426.66 387.95,426.65 387.55,426.64 387.17,426.63 386.81,426.62 386.46,426.61 386.13,426.60 385.82,426.59 385.53,426.58 385.25,426.57 385.00,426.55 384.76,426.54 384.54,426.53 384.34,426.52 384.16,426.51 384.00,426.49 383.86,426.48 383.74,426.47 383.64,426.46 383.55,426.44 383.49,426.43 383.45,426.42 383.43,426.41 383.43,426.40 383.44,426.39 383.47,426.37 383.52,426.36 383.59,426.35 383.68,426.34 383.79,426.32 383.93,426.31 384.08,426.30 384.25,426.29 384.44,426.28 384.65,426.26 384.88,426.25 385.12,426.24 385.39,426.23 385.67,426.22 385.98,426.21 386.30,426.19 386.64,426.18 386.99,426.17 387.36,426.16 387.75,426.15 388.15,426.14 388.57,426.13 389.01,426.12 389.46,426.11 389.92,426.11 390.40,426.10 390.89,426.09 391.39,426.08 391.91,426.07 392.44,426.07 392.98,426.06 393.53,426.05 394.08,426.05 394.65,426.04 395.23,426.04 395.82,426.03 396.41,426.03 397.02,426.02 397.63,426.02 398.24,426.01 398.86,426.01 399.48,426.01 400.11,426.01 400.75,426.00 401.38,426.00 402.02,426.00 402.66,426.00 403.30,426.00 403.62,426.00 404.14,426.00 404.66,426.00 405.17,426.00 405.69,426.00 406.20,426.00 406.72,426.00 407.23,426.01 407.74,426.01 408.24,426.01 408.75,426.01 409.25,426.02 409.74,426.02 410.23,426.02 410.72,426.03 411.20,426.03 411.68,426.03 412.15,426.04 412.62,426.04 413.08,426.05 413.54,426.05 413.99,426.06 414.43,426.06 414.86,426.07 415.29,426.07 415.71,426.08 416.12,426.09 416.52,426.09 416.92,426.10 417.30,426.11 417.68,426.11 418.04,426.12 418.40,426.13 418.75,426.14 419.09,426.14 419.42,426.15 419.73,426.16 420.04,426.17 420.34,426.18 420.62,426.18 420.90,426.19 421.16,426.20 421.41,426.21 421.65,426.22 421.88,426.23 422.09,426.24 422.30,426.25 422.49,426.26 422.66,426.27 422.83,426.28 422.91,426.28 416.40,426.28 416.24,426.27 416.07,426.27 415.90,426.26 415.71,426.26 415.52,426.25 415.32,426.24 415.12,426.24 414.90,426.23 414.68,426.23 414.45,426.22 414.21,426.21 413.97,426.21 413.72,426.20 413.46,426.20 413.20,426.19 412.93,426.19 412.65,426.18 412.37,426.18 412.08,426.18 411.79,426.17 411.49,426.17 411.18,426.16 410.88,426.16 410.56,426.16 410.24,426.15 409.92,426.15 409.59,426.15 409.26,426.14 408.93,426.14 408.59,426.14 408.25,426.14 407.91,426.13 407.56,426.13 407.21,426.13 406.86,426.13 406.50,426.13 406.15,426.12 405.79,426.12 405.43,426.12 405.07,426.12 404.71,426.12 404.35,426.12 403.98,426.12 403.62,426.12 403.40,426.12 402.95,426.12 402.50,426.12 402.05,426.12 401.61,426.12 401.39,426.12 401.17,426.12 400.73,426.13 400.29,426.13 399.85,426.13 399.42,426.13 399.00,426.14 398.58,426.14 398.16,426.14 397.75,426.15 397.34,426.15 396.95,426.15 396.55,426.16 396.17,426.16 395.79,426.17 395.42,426.17 395.06,426.18 394.71,426.18 394.36,426.19 394.03,426.19 393.71,426.20 393.39,426.21 393.09,426.21 392.79,426.22 392.51,426.23 392.24,426.23 391.98,426.24 391.73,426.25 391.49,426.26 391.27,426.26 391.06,426.27 390.86,426.28 390.67,426.29 390.50,426.30 390.34,426.30 390.19,426.31 390.06,426.32 389.94,426.33 389.83,426.34 389.74,426.35 389.66,426.36 389.60,426.36 389.55,426.37 389.52,426.38 389.49,426.39 389.49,426.40 389.50,426.41 389.53,426.42 389.57,426.43 389.63,426.44 389.66,426.44 389.70,426.45 389.79,426.46 389.89,426.47 390.00,426.47 390.12,426.48 390.26,426.49 390.42,426.50 390.58,426.51 390.76,426.52 390.96,426.52 391.16,426.53 391.38,426.54 391.61,426.55 391.85,426.56 392.11,426.56 392.37,426.57 392.65,426.58 392.94,426.58 393.24,426.59 393.55,426.60 393.87,426.60 394.20,426.61 394.54,426.61 394.88,426.62 395.24,426.63 395.61,426.63 395.98,426.64 396.36,426.64 396.75,426.64 397.14,426.65 397.55,426.65 397.95,426.66 398.37,426.66 398.79,426.66 399.21,426.67 399.64,426.67 400.07,426.67 400.51,426.67 400.95,426.67 401.39,426.68 401.83,426.68 402.28,426.68 402.72,426.68 403.17,426.68 403.62,426.68 403.80,426.68 404.16,426.68 404.53,426.68 404.89,426.68 405.25,426.68 405.43,426.68 405.61,426.68 405.97,426.68 406.32,426.67 406.68,426.67 407.03,426.67 407.38,426.67 407.73,426.67 408.08,426.67 408.42,426.66 408.76,426.66 409.10,426.66 409.43,426.66 409.76,426.65 410.08,426.65 410.40,426.65 410.72,426.64 411.03,426.64 411.34,426.63 411.64,426.63 411.93,426.63 412.23,426.62 412.51,426.62 412.79,426.61 413.06,426.61 413.33,426.60 413.59,426.60 413.84,426.59 414.09,426.59 414.33,426.58 414.56,426.58 414.79,426.57 415.01,426.57 415.22,426.56 415.42,426.55 415.62,426.55 415.81,426.54 415.99,426.54 416.16,426.53 416.32,426.52 416.40,426.52Z" fill="#0000FF"/>
<path d="M416.40,421.74 416.24,421.82 416.07,421.89 415.90,421.96 415.71,422.03 415.52,422.09 415.32,422.16 415.12,422.22 414.90,422.28 414.68,422.35 414.45,422.41 414.21,422.47 413.97,422.52 413.72,422.58 413.46,422.64 413.20,422.69 412.93,422.74 412.65,422.79 412.37,422.84 412.08,422.89 411.79,422.94 411.49,422.98 411.18,423.02 410.88,423.06 410.56,423.10 410.24,423.14 409.92,423.18 409.59,423.21 409.26,423.24 408.93,423.27 408.59,423.30 408.25,423.33 407.91,423.35 407.56,423.37 407.21,423.40 406.86,423.41 406.50,423.43 406.15,423.45 405.79,423.46 405.43,423.47 405.07,423.48 404.71,423.49 404.35,423.49 403.98,423.49 403.62,423.50 403.40,423.49 402.95,423.49 402.50,423.49 402.05,423.48 401.61,423.46 401.39,423.46 401.17,423.45 400.73,423.43 400.29,423.41 399.85,423.38 399.42,423.36 399.00,423.33 398.58,423.29 398.16,423.26 397.75,423.22 397.34,423.18 396.95,423.13 396.55,423.09 396.17,423.04 395.79,422.99 395.42,422.93 395.06,422.87 394.71,422.81 394.36,422.75 394.03,422.69 393.71,422.62 393.39,422.55 393.09,422.48 392.79,422.41 392.51,422.33 392.24,422.26 391.98,422.18 391.73,422.10 391.49,422.01 391.27,421.93 391.06,421.85 390.86,421.76 390.67,421.67 390.50,421.58 390.34,421.49 390.19,421.40 390.06,421.31 389.94,421.21 389.83,421.12 389.74,421.03 389.66,420.93 389.60,420.84 389.55,420.74 389.52,420.64 389.49,420.55 389.49,420.45 389.49,420.40 389.50,420.31 389.53,420.21 389.57,420.11 389.63,420.02 389.66,419.97 389.70,419.92 389.79,419.83 389.89,419.73 390.00,419.64 390.12,419.55 390.26,419.45 390.42,419.36 390.58,419.27 390.76,419.19 390.96,419.10 391.16,419.01 391.38,418.93 391.61,418.84 391.85,418.76 392.11,418.68 392.37,418.61 392.65,418.53 392.94,418.46 393.24,418.38 393.55,418.31 393.87,418.25 394.20,418.18 394.54,418.12 394.88,418.06 395.24,418.00 395.61,417.94 395.98,417.89 396.36,417.84 396.75,417.79 397.14,417.74 397.55,417.70 397.95,417.66 398.37,417.62 398.79,417.59 399.21,417.56 399.64,417.53 400.07,417.50 400.51,417.48 400.95,417.46 401.39,417.44 401.83,417.43 402.28,417.42 402.72,417.41 403.17,417.41 403.62,417.41 403.80,417.41 404.16,417.41 404.53,417.41 404.89,417.42 405.25,417.43 405.43,417.43 405.61,417.44 405.97,417.45 406.32,417.46 406.68,417.48 407.03,417.50 407.38,417.51 407.73,417.54 408.08,417.56 408.42,417.59 408.76,417.61 409.10,417.64 409.43,417.67 409.76,417.71 410.08,417.74 410.40,417.78 410.72,417.82 411.03,417.86 411.34,417.90 411.64,417.94 411.93,417.99 412.23,418.03 412.51,418.08 412.79,418.13 413.06,418.18 413.33,418.24 413.59,418.29 413.84,418.35 414.09,418.40 414.33,418.46 414.56,418.52 414.79,418.58 415.01,418.65 415.22,418.71 415.42,418.78 415.62,418.84 415.81,418.91 415.99,418.98 416.16,419.04 416.32,419.11 422.91,419.16 422.75,419.06 422.58,418.95 422.39,418.85 422.19,418.75 421.99,418.64 421.76,418.54 421.53,418.44 421.29,418.34 421.03,418.25 420.76,418.15 420.62,418.10 420.48,418.06 420.19,417.96 419.89,417.87 419.58,417.78 419.25,417.70 418.92,417.61 418.58,417.53 418.23,417.45 417.86,417.37 417.49,417.29 417.11,417.21 416.72,417.14 416.32,417.07 415.91,417.00 415.50,416.93 415.08,416.87 414.64,416.81 414.21,416.75 413.76,416.69 413.31,416.63 412.85,416.58 412.39,416.53 411.92,416.48 411.44,416.44 410.96,416.40 410.48,416.36 409.99,416.32 409.49,416.29 409.00,416.26 408.50,416.23 407.99,416.20 407.48,416.18 406.97,416.16 406.46,416.14 405.95,416.13 405.43,416.12 404.91,416.11 404.40,416.10 403.88,416.10 403.62,416.10 402.98,416.10 402.34,416.11 401.70,416.12 401.06,416.13 400.43,416.15 399.80,416.18 399.17,416.21 398.55,416.24 397.93,416.28 397.32,416.32 397.02,416.34 396.71,416.36 396.12,416.41 395.53,416.46 394.94,416.52 394.37,416.58 393.80,416.65 393.25,416.72 392.70,416.79 392.17,416.87 391.65,416.95 391.14,417.03 390.64,417.12 390.16,417.21 389.69,417.30 389.23,417.40 388.79,417.50 388.36,417.60 387.95,417.71 387.55,417.82 387.17,417.93 386.81,418.04 386.46,418.16 386.13,418.28 385.82,418.40 385.53,418.52 385.25,418.64 385.00,418.77 384.76,418.90 384.54,419.03 384.34,419.16 384.16,419.29 384.00,419.42 383.86,419.56 383.74,419.69 383.64,419.83 383.55,419.97 383.49,420.11 383.45,420.24 383.43,420.38 383.43,420.45 383.44,420.59 383.47,420.73 383.52,420.86 383.59,421.00 383.68,421.14 383.79,421.27 383.93,421.41 384.08,421.54 384.25,421.68 384.44,421.81 384.54,421.87 384.65,421.94 384.88,422.07 385.12,422.19 385.39,422.32 385.67,422.44 385.98,422.56 386.30,422.68 386.64,422.80 386.99,422.92 387.36,423.03 387.75,423.14 388.15,423.25 388.57,423.35 389.01,423.45 389.46,423.55 389.92,423.65 390.40,423.74 390.89,423.83 391.39,423.91 391.91,423.99 392.44,424.07 392.98,424.15 393.53,424.22 394.08,424.28 394.65,424.35 395.23,424.41 395.82,424.46 396.41,424.51 397.02,424.56 397.63,424.60 398.24,424.64 398.86,424.68 399.48,424.71 400.11,424.73 400.75,424.76 401.38,424.77 402.02,424.79 402.66,424.80 403.30,424.80 403.62,424.80 404.14,424.80 404.66,424.79 405.17,424.79 405.69,424.78 406.20,424.76 406.72,424.75 407.23,424.73 407.74,424.71 408.24,424.68 408.75,424.66 409.00,424.64 409.25,424.63 409.74,424.60 410.23,424.56 410.72,424.52 411.20,424.48 411.68,424.44 412.15,424.39 412.62,424.34 413.08,424.29 413.54,424.24 413.99,424.18 414.43,424.12 414.86,424.06 415.29,424.00 415.71,423.93 416.12,423.87 416.52,423.80 416.92,423.72 417.30,423.65 417.68,423.57 418.04,423.49 418.40,423.41 418.75,423.33 419.09,423.25 419.42,423.16 419.73,423.07 420.04,422.98 420.34,422.89 420.62,422.80 420.90,422.70 421.16,422.60 421.41,422.51 421.65,422.41 421.88,422.31 422.09,422.21 422.30,422.10 422.49,422.00 422.66,421.89 422.83,421.79 422.91,421.74Z M422.91,421.32 403.62,421.32 403.62,422.19 414.83,422.19 414.83,424.80 422.91,424.80 422.91,421.32Z" fill="#FFA500"/>
<path d="M383.4,414.6 399.6,94.0 407.7,94.0 423.8,414.6 415.7,414.6 410.9,318.4 396.4,318.4 391.5,414.6Z M398.0,286.4 403.6,174.2 409.3,286.4Z" fill="#10FF00" fill-rule="evenodd"/>
<path d="M423.81,428.80 439.96,427.90 448.04,427.90 464.19,428.80 456.11,428.80 451.27,428.53 436.73,428.53 431.89,428.80Z M438.35,428.44 444.00,428.12 449.65,428.44Z" fill="#10FF00" fill-rule="evenodd"/>
<path d="M456.78,425.21 456.62,425.24 456.45,425.26 456.28,425.29 456.09,425.31 455.90,425.34 455.70,425.36 455.50,425.38 455.28,425.40 455.06,425.43 454.83,425.45 454.59,425.47 454.35,425.49 454.10,425.51 453.84,425.53 453.58,425.55 453.31,425.57 453.03,425.58 452.75,425.60 452.46,425.62 452.17,425.64 451.87,425.65 451.56,425.67 451.26,425.68 450.94,425.70 450.62,425.71 450.30,425.72 449.97,425.73 449.64,425.74 449.31,425.76 448.97,425.77 448.63,425.78 448.29,425.78 447.94,425.79 447.59,425.80 447.24,425.81 446.88,425.81 446.53,425.82 446.17,425.82 445.81,425.83 445.45,425.83 445.09,425.83 444.73,425.83 444.36,425.83 444.00,425.83 443.78,425.83 443.33,425.83 442.88,425.83 442.43,425.83 441.99,425.82 441.77,425.82 441.55,425.82 441.11,425.81 440.67,425.80 440.23,425.80 439.80,425.79 439.38,425.78 438.96,425.76 438.54,425.75 438.13,425.74 437.72,425.72 437.33,425.71 436.93,425.69 436.55,425.67 436.17,425.65 435.80,425.63 435.44,425.61 435.09,425.59 434.74,425.57 434.41,425.55 434.09,425.52 433.77,425.50 433.47,425.47 433.17,425.45 432.89,425.42 432.62,425.39 432.36,425.37 432.11,425.34 431.87,425.31 431.65,425.28 431.44,425.25 431.24,425.22 431.05,425.19 430.88,425.15 430.72,425.12 430.57,425.09 430.44,425.06 430.32,425.02 430.21,424.99 430.12,424.96 430.04,424.92 429.98,424.89 429.93,424.85 429.90,424.82 429.87,424.78 429.87,424.75 429.87,424.73 429.88,424.70 429.91,424.66 429.95,424.63 430.01,424.60 430.04,424.58 430.08,424.56 430.17,424.53 430.27,424.49 430.38,424.46 430.50,424.43 430.64,424.40 430.80,424.36 430.96,424.33 431.14,424.30 431.34,424.27 431.54,424.24 431.76,424.21 431.99,424.18 432.23,424.15 432.49,424.12 432.75,424.09 433.03,424.07 433.32,424.04 433.62,424.01 433.93,423.99 434.25,423.96 434.58,423.94 434.92,423.92 435.26,423.90 435.62,423.88 435.99,423.86 436.36,423.84 436.74,423.82 437.13,423.80 437.52,423.79 437.93,423.77 438.33,423.76 438.75,423.74 439.17,423.73 439.59,423.72 440.02,423.71 440.45,423.70 440.89,423.69 441.33,423.68 441.77,423.68 442.21,423.67 442.66,423.67 443.10,423.67 443.55,423.67 444.00,423.66 444.18,423.67 444.54,423.67 444.91,423.67 445.27,423.67 445.63,423.67 445.81,423.67 445.99,423.68 446.35,423.68 446.70,423.69 447.06,423.69 447.41,423.70 447.76,423.70 448.11,423.71 448.46,423.72 448.80,423.73 449.14,423.74 449.48,423.75 449.81,423.76 450.14,423.77 450.46,423.79 450.78,423.80 451.10,423.81 451.41,423.83 451.72,423.84 452.02,423.86 452.31,423.87 452.61,423.89 452.89,423.91 453.17,423.92 453.44,423.94 453.71,423.96 453.97,423.98 454.22,424.00 454.47,424.02 454.71,424.04 454.94,424.06 455.17,424.09 455.39,424.11 455.60,424.13 455.80,424.15 456.00,424.18 456.19,424.20 456.37,424.22 456.54,424.25 456.70,424.27 463.29,424.29 463.13,424.25 462.96,424.22 462.77,424.18 462.57,424.14 462.37,424.11 462.14,424.07 461.91,424.03 461.67,424.00 461.41,423.97 461.14,423.93 461.00,423.91 460.86,423.90 460.57,423.86 460.27,423.83 459.96,423.80 459.63,423.77 459.30,423.74 458.96,423.71 458.61,423.68 458.24,423.65 457.87,423.62 457.49,423.60 457.10,423.57 456.70,423.55 456.29,423.52 455.88,423.50 455.46,423.47 455.02,423.45 454.59,423.43 454.14,423.41 453.69,423.39 453.23,423.37 452.77,423.35 452.30,423.34 451.82,423.32 451.34,423.31 450.86,423.29 450.37,423.28 449.87,423.27 449.38,423.26 448.88,423.25 448.37,423.24 447.86,423.23 447.35,423.22 446.84,423.22 446.33,423.21 445.81,423.21 445.29,423.20 444.78,423.20 444.26,423.20 444.00,423.20 443.36,423.20 442.72,423.20 442.08,423.21 441.44,423.21 440.81,423.22 440.18,423.23 439.55,423.24 438.93,423.25 438.31,423.26 437.70,423.28 437.40,423.29 437.09,423.29 436.50,423.31 435.91,423.33 435.32,423.35 434.75,423.37 434.18,423.40 433.63,423.42 433.08,423.45 432.55,423.47 432.03,423.50 431.52,423.53 431.02,423.56 430.54,423.59 430.07,423.63 429.61,423.66 429.17,423.70 428.74,423.73 428.33,423.77 427.93,423.81 427.55,423.85 427.19,423.89 426.84,423.93 426.51,423.98 426.20,424.02 425.91,424.06 425.63,424.11 425.38,424.15 425.14,424.20 424.92,424.24 424.72,424.29 424.54,424.34 424.38,424.38 424.24,424.43 424.12,424.48 424.02,424.53 423.93,424.58 423.87,424.63 423.83,424.68 423.81,424.73 423.81,424.75 423.82,424.80 423.85,424.85 423.90,424.90 423.97,424.95 424.06,424.99 424.17,425.04 424.31,425.09 424.46,425.14 424.63,425.19 424.82,425.23 424.92,425.26 425.03,425.28 425.26,425.33 425.50,425.37 425.77,425.42 426.05,425.46 426.36,425.50 426.68,425.55 427.02,425.59 427.37,425.63 427.74,425.67 428.13,425.71 428.53,425.75 428.95,425.78 429.39,425.82 429.84,425.85 430.30,425.89 430.78,425.92 431.27,425.95 431.77,425.98 432.29,426.01 432.82,426.04 433.36,426.07 433.91,426.09 434.46,426.12 435.03,426.14 435.61,426.16 436.20,426.18 436.79,426.20 437.40,426.21 438.01,426.23 438.62,426.24 439.24,426.26 439.86,426.27 440.49,426.28 441.13,426.28 441.76,426.29 442.40,426.30 443.04,426.30 443.68,426.30 444.00,426.30 444.52,426.30 445.04,426.30 445.55,426.30 446.07,426.29 446.58,426.29 447.10,426.28 447.61,426.28 448.12,426.27 448.62,426.26 449.13,426.25 449.38,426.24 449.63,426.24 450.12,426.23 450.61,426.21 451.10,426.20 451.58,426.19 452.06,426.17 452.53,426.15 453.00,426.14 453.46,426.12 453.92,426.10 454.37,426.08 454.81,426.06 455.24,426.04 455.67,426.01 456.09,425.99 456.50,425.97 456.90,425.94 457.30,425.92 457.68,425.89 458.06,425.86 458.42,425.83 458.78,425.81 459.13,425.78 459.47,425.75 459.80,425.72 460.11,425.68 460.42,425.65 460.72,425.62 461.00,425.59 461.28,425.55 461.54,425.52 461.79,425.48 462.03,425.45 462.26,425.41 462.47,425.38 462.68,425.34 462.87,425.30 463.04,425.26 463.21,425.23 463.29,425.21Z M463.29,425.06 444.00,425.06 444.00,425.37 455.21,425.37 455.21,426.30 463.29,426.30 463.29,425.06Z" fill="#FFA500"/>
<path d="M463.29,420.40 463.13,420.47 462.96,420.53 462.77,420.59 462.57,420.65 462.37,420.71 462.14,420.77 461.91,420.83 461.67,420.88 461.41,420.94 461.14,421.00 460.86,421.05 460.57,421.11 460.27,421.16 459.96,421.21 459.63,421.26 459.30,421.31 458.96,421.36 458.61,421.41 458.24,421.46 457.87,421.50 457.49,421.55 457.10,421.59 456.70,421.63 456.29,421.67 455.88,421.71 455.46,421.75 455.02,421.79 454.59,421.82 454.14,421.85 453.69,421.89 453.23,421.92 452.77,421.95 452.30,421.97 451.82,422.00 451.34,422.03 450.86,422.05 450.37,422.07 449.87,422.09 449.38,422.11 448.88,422.12 448.37,422.14 447.86,422.15 447.35,422.16 446.84,422.17 446.33,422.18 445.81,422.19 445.29,422.19 444.78,422.20 444.26,422.20 444.00,422.20 443.36,422.20 442.72,422.19 442.08,422.19 441.44,422.18 440.81,422.17 440.18,422.15 439.55,422.14 438.93,422.12 438.31,422.10 437.70,422.07 437.09,422.05 436.50,422.02 435.91,421.99 435.32,421.95 434.75,421.92 434.18,421.88 433.63,421.84 433.08,421.80 432.55,421.75 432.03,421.70 431.52,421.65 431.02,421.60 430.54,421.55 430.07,421.50 429.61,421.44 429.17,421.38 428.74,421.32 428.33,421.26 427.93,421.19 427.55,421.13 427.19,421.06 426.84,420.99 426.51,420.93 426.20,420.85 425.91,420.78 425.63,420.71 425.38,420.64 425.14,420.56 424.92,420.48 424.72,420.41 424.54,420.33 424.38,420.25 424.24,420.17 424.12,420.09 424.02,420.01 423.93,419.93 423.87,419.85 423.83,419.77 423.81,419.69 423.81,419.65 423.82,419.57 423.85,419.49 423.90,419.41 423.97,419.33 424.06,419.25 424.17,419.17 424.31,419.09 424.46,419.01 424.63,418.93 424.82,418.85 425.03,418.78 425.26,418.70 425.50,418.63 425.77,418.55 426.05,418.48 426.36,418.41 426.68,418.34 427.02,418.27 427.37,418.20 427.74,418.14 428.13,418.07 428.53,418.01 428.95,417.95 429.39,417.89 429.84,417.83 430.30,417.78 430.78,417.72 431.27,417.67 431.77,417.62 432.29,417.57 432.82,417.53 433.36,417.48 433.91,417.44 434.46,417.40 435.03,417.37 435.61,417.33 436.20,417.30 436.79,417.27 437.40,417.24 438.01,417.21 438.62,417.19 439.24,417.17 439.86,417.15 440.49,417.14 441.13,417.13 441.76,417.12 442.40,417.11 443.04,417.10 443.68,417.10 444.00,417.10 444.52,417.10 445.04,417.10 445.55,417.11 446.07,417.11 446.58,417.12 447.10,417.13 447.61,417.14 448.12,417.15 448.62,417.17 449.13,417.18 449.63,417.20 450.12,417.22 450.61,417.24 451.10,417.26 451.58,417.29 452.06,417.31 452.53,417.34 453.00,417.37 453.46,417.40 453.92,417.43 454.37,417.46 454.81,417.50 455.24,417.53 455.67,417.57 456.09,417.61 456.50,417.65 456.90,417.69 457.30,417.73 457.68,417.77 458.06,417.82 458.42,417.87 458.78,417.91 459.13,417.96 459.47,418.01 459.80,418.06 460.11,418.11 460.42,418.17 460.72,418.22 461.00,418.27 461.28,418.33 461.54,418.39 461.79,418.44 462.03,418.50 462.26,418.56 462.47,418.62 462.68,418.68 462.87,418.74 463.04,418.80 463.21,418.87 463.29,418.90 456.78,418.90 456.62,418.85 456.45,418.81 456.28,418.77 456.09,418.73 455.90,418.69 455.70,418.65 455.50,418.61 455.28,418.57 455.06,418.54 454.83,418.50 454.59,418.47 454.35,418.43 454.10,418.40 453.84,418.37 453.58,418.34 453.31,418.31 453.03,418.28 452.75,418.25 452.46,418.22 452.17,418.19 451.87,418.17 451.56,418.14 451.26,418.12 450.94,418.10 450.62,418.07 450.30,418.05 449.97,418.03 449.64,418.01 449.31,418.00 448.97,417.98 448.63,417.96 448.29,417.95 447.94,417.94 447.59,417.92 447.24,417.91 446.88,417.90 446.53,417.89 446.17,417.89 445.81,417.88 445.45,417.87 445.09,417.87 444.73,417.87 444.36,417.87 444.00,417.87 443.78,417.87 443.33,417.87 442.88,417.87 442.43,417.88 441.99,417.88 441.77,417.89 441.55,417.89 441.11,417.90 440.67,417.92 440.23,417.93 439.80,417.95 439.38,417.96 438.96,417.98 438.54,418.00 438.13,418.03 437.72,418.05 437.33,418.08 436.93,418.10 436.55,418.13 436.17,418.16 435.80,418.20 435.44,418.23 435.09,418.26 434.74,418.30 434.41,418.34 434.09,418.38 433.77,418.42 433.47,418.46 433.17,418.50 432.89,418.55 432.62,418.59 432.36,418.64 432.11,418.68 431.87,418.73 431.65,418.78 431.44,418.83 431.24,418.88 431.05,418.93 430.88,418.99 430.72,419.04 430.57,419.09 430.44,419.15 430.32,419.20 430.21,419.26 430.12,419.31 430.04,419.37 429.98,419.42 429.93,419.48 429.90,419.54 429.87,419.59 429.87,419.65 429.87,419.68 429.88,419.73 429.91,419.79 429.95,419.85 430.01,419.90 430.04,419.93 430.08,419.96 430.17,420.02 430.27,420.07 430.38,420.13 430.50,420.18 430.64,420.23 430.80,420.29 430.96,420.34 431.14,420.39 431.34,420.44 431.54,420.49 431.76,420.54 431.99,420.59 432.23,420.64 432.49,420.69 432.75,420.73 433.03,420.78 433.32,420.82 433.62,420.86 433.93,420.90 434.25,420.94 434.58,420.98 434.92,421.02 435.26,421.05 435.62,421.09 435.99,421.12 436.36,421.15 436.74,421.18 437.13,421.21 437.52,421.24 437.93,421.26 438.33,421.29 438.75,421.31 439.17,421.33 439.59,421.35 440.02,421.36 440.45,421.38 440.89,421.39 441.33,421.40 441.77,421.41 442.21,421.42 442.66,421.43 443.10,421.43 443.55,421.43 444.00,421.44 444.18,421.43 444.54,421.43 444.91,421.43 445.27,421.43 445.63,421.42 445.81,421.42 445.99,421.42 446.35,421.41 446.70,421.40 447.06,421.39 447.41,421.38 447.76,421.37 448.11,421.36 448.46,421.34 448.80,421.33 449.14,421.31 449.48,421.30 449.81,421.28 450.14,421.26 450.46,421.24 450.78,421.22 451.10,421.19 451.41,421.17 451.72,421.15 452.02,421.12 452.31,421.09 452.61,421.07 452.89,421.04 453.17,421.01 453.44,420.98 453.71,420.95 453.97,420.92 454.22,420.88 454.47,420.85 454.71,420.81 454.94,420.78 455.17,420.74 455.39,420.71 455.60,420.67 455.80,420.63 456.00,420.59 456.19,420.55 456.37,420.51 456.54,420.47 456.70,420.43 456.78,420.40Z" fill="#0000FF"/>
<path d="M423.8,96.0 464.2,96.0 464.2,127.9 448.0,127.9 448.0,414.9 440.0,414.9 440.0,127.9 423.8,127.9Z" fill="#FF0000"/>
<path d="M464.19,424.90 480.34,419.10 488.42,419.10 504.57,424.90 496.49,424.90 491.65,423.16 477.11,423.16 472.27,424.90Z M478.73,422.58 484.38,420.55 490.03,422.58Z" fill="#10FF00" fill-rule="evenodd"/>
<path d="M464.2,82.2 504.6,82.2 504.6,115.8 488.4,115.8 488.4,417.8 480.3,417.8 480.3,115.8 464.2,115.8Z" fill="#FF0000"/>
<path d="M544.05,424.52 543.89,424.53 543.72,424.54 543.53,424.55 543.33,424.56 543.13,424.57 542.90,424.58 542.67,424.58 542.43,424.59 542.17,424.60 541.90,424.61 541.62,424.62 541.33,424.63 541.03,424.64 540.72,424.65 540.39,424.65 540.06,424.66 539.72,424.67 539.37,424.68 539.00,424.68 538.63,424.69 538.25,424.70 537.86,424.70 537.46,424.71 537.05,424.72 536.64,424.72 536.22,424.73 535.78,424.74 535.35,424.74 534.90,424.75 534.45,424.75 533.99,424.76 533.53,424.76 533.06,424.76 532.58,424.77 532.10,424.77 531.62,424.78 531.13,424.78 530.63,424.78 530.14,424.79 529.64,424.79 529.13,424.79 528.62,424.79 528.11,424.79 527.60,424.80 527.09,424.80 526.57,424.80 526.05,424.80 525.54,424.80 525.02,424.80 524.76,424.80 524.12,424.80 523.48,424.80 522.84,424.80 522.20,424.80 521.57,424.79 520.94,424.79 520.31,424.79 519.69,424.79 519.07,424.78 518.46,424.78 517.85,424.78 517.26,424.77 516.67,424.77 516.08,424.76 515.51,424.76 514.94,424.75 514.39,424.74 513.84,424.74 513.31,424.73 512.79,424.72 512.28,424.71 511.78,424.71 511.30,424.70 510.83,424.69 510.37,424.68 509.93,424.67 509.50,424.66 509.09,424.65 508.69,424.64 508.31,424.63 507.95,424.62 507.60,424.61 507.27,424.60 506.96,424.59 506.67,424.58 506.39,424.57 506.14,424.55 505.90,424.54 505.68,424.53 505.48,424.52 505.30,424.51 505.14,424.49 505.00,424.48 504.88,424.47 504.78,424.46 504.69,424.44 504.63,424.43 504.59,424.42 504.57,424.41 504.57,424.40 504.58,424.39 504.61,424.37 504.66,424.36 504.73,424.35 504.82,424.34 504.93,424.32 505.07,424.31 505.22,424.30 505.39,424.29 505.58,424.28 505.79,424.26 506.02,424.25 506.26,424.24 506.53,424.23 506.81,424.22 507.12,424.21 507.44,424.19 507.78,424.18 508.13,424.17 508.50,424.16 508.89,424.15 509.29,424.14 509.71,424.13 510.15,424.12 510.60,424.11 511.06,424.11 511.54,424.10 512.03,424.09 512.53,424.08 513.05,424.07 513.58,424.07 514.12,424.06 514.67,424.05 515.22,424.05 515.79,424.04 516.37,424.04 516.96,424.03 517.55,424.03 518.16,424.02 518.77,424.02 519.38,424.01 520.00,424.01 520.62,424.01 521.25,424.01 521.89,424.00 522.52,424.00 523.16,424.00 523.80,424.00 524.44,424.00 524.76,424.00 525.28,424.00 525.80,424.00 526.31,424.00 526.83,424.00 527.34,424.00 527.86,424.00 528.37,424.01 528.88,424.01 529.38,424.01 529.89,424.01 530.39,424.02 530.88,424.02 531.37,424.02 531.86,424.03 532.34,424.03 532.82,424.03 533.29,424.04 533.76,424.04 534.22,424.05 534.68,424.05 535.13,424.06 535.57,424.06 536.00,424.07 536.43,424.07 536.85,424.08 537.26,424.09 537.66,424.09 538.06,424.10 538.44,424.11 538.82,424.11 539.18,424.12 539.54,424.13 539.89,424.14 540.23,424.14 540.56,424.15 540.87,424.16 541.18,424.17 541.48,424.18 541.76,424.18 542.04,424.19 542.30,424.20 542.55,424.21 542.79,424.22 543.02,424.23 543.23,424.24 543.44,424.25 543.63,424.26 543.80,424.27 543.97,424.28 544.05,424.28 537.54,424.28 537.38,424.27 537.21,424.27 537.04,424.26 536.85,424.26 536.66,424.25 536.46,424.24 536.26,424.24 536.04,424.23 535.82,424.23 535.59,424.22 535.35,424.21 535.11,424.21 534.86,424.20 534.60,424.20 534.34,424.19 534.07,424.19 533.79,424.18 533.51,424.18 533.22,424.18 532.93,424.17 532.63,424.17 532.32,424.16 532.02,424.16 531.70,424.16 531.38,424.15 531.06,424.15 530.73,424.15 530.40,424.14 530.07,424.14 529.73,424.14 529.39,424.14 529.05,424.13 528.70,424.13 528.35,424.13 528.00,424.13 527.64,424.13 527.29,424.12 526.93,424.12 526.57,424.12 526.21,424.12 525.85,424.12 525.49,424.12 525.12,424.12 524.76,424.12 524.54,424.12 524.09,424.12 523.64,424.12 523.19,424.12 522.75,424.12 522.53,424.12 522.31,424.12 521.87,424.13 521.43,424.13 520.99,424.13 520.56,424.13 520.14,424.14 519.72,424.14 519.30,424.14 518.89,424.15 518.48,424.15 518.09,424.15 517.69,424.16 517.31,424.16 516.93,424.17 516.56,424.17 516.20,424.18 515.85,424.18 515.50,424.19 515.17,424.19 514.85,424.20 514.53,424.21 514.23,424.21 513.93,424.22 513.65,424.23 513.38,424.23 513.12,424.24 512.87,424.25 512.63,424.26 512.41,424.26 512.20,424.27 512.00,424.28 511.81,424.29 511.64,424.30 511.48,424.30 511.33,424.31 511.20,424.32 511.08,424.33 510.97,424.34 510.88,424.35 510.80,424.36 510.74,424.36 510.69,424.37 510.66,424.38 510.63,424.39 510.63,424.40 510.64,424.41 510.67,424.42 510.71,424.43 510.77,424.44 510.80,424.44 510.84,424.45 510.93,424.46 511.03,424.47 511.14,424.47 511.26,424.48 511.40,424.49 511.56,424.50 511.72,424.51 511.90,424.52 512.10,424.52 512.30,424.53 512.52,424.54 512.75,424.55 512.99,424.56 513.25,424.56 513.51,424.57 513.79,424.58 514.08,424.58 514.38,424.59 514.69,424.60 515.01,424.60 515.34,424.61 515.68,424.61 516.02,424.62 516.38,424.63 516.75,424.63 517.12,424.64 517.50,424.64 517.89,424.64 518.28,424.65 518.69,424.65 519.09,424.66 519.51,424.66 519.93,424.66 520.35,424.67 520.78,424.67 521.21,424.67 521.65,424.67 522.09,424.67 522.53,424.68 522.97,424.68 523.42,424.68 523.86,424.68 524.31,424.68 524.76,424.68 524.94,424.68 525.30,424.68 525.67,424.68 526.03,424.68 526.39,424.68 526.57,424.68 526.75,424.68 527.11,424.68 527.46,424.67 527.82,424.67 528.17,424.67 528.52,424.67 528.87,424.67 529.22,424.67 529.56,424.66 529.90,424.66 530.24,424.66 530.57,424.66 530.90,424.65 531.22,424.65 531.54,424.65 531.86,424.64 532.17,424.64 532.48,424.63 532.78,424.63 533.07,424.63 533.37,424.62 533.65,424.62 533.93,424.61 534.20,424.61 534.47,424.60 534.73,424.60 534.98,424.59 535.23,424.59 535.47,424.58 535.70,424.58 535.93,424.57 536.15,424.57 536.36,424.56 536.56,424.55 536.76,424.55 536.95,424.54 537.13,424.54 537.30,424.53 537.46,424.52 537.54,424.52Z" fill="#0000FF"/>
<path d="M537.5,296.4 537.5,298.5 537.4,299.9 537.3,301.3 537.2,302.8 537.1,304.2 537.0,305.6 536.9,307.0 536.9,308.3 536.8,309.7 536.7,311.1 536.6,312.4 536.5,313.8 536.4,315.1 536.3,316.4 536.1,317.7 536.0,319.0 535.9,320.3 535.8,321.5 535.7,322.8 535.6,324.0 535.5,325.2 535.4,326.5 535.2,327.7 535.1,328.8 535.0,330.0 534.9,331.2 534.7,332.3 534.6,333.4 534.5,334.6 534.3,335.6 534.2,336.7 534.1,337.8 533.9,338.8 533.8,339.9 533.7,340.9 533.5,341.9 533.4,342.9 533.2,343.9 533.1,344.8 532.9,345.8 532.8,346.7 532.6,347.6 532.5,348.5 532.3,349.3 532.2,350.2 532.0,351.0 531.9,351.8 531.7,352.6 531.5,353.4 531.4,354.2 531.2,354.9 531.1,355.7 530.9,356.4 530.7,357.1 530.6,357.7 530.4,358.4 530.2,359.0 530.1,359.6 529.9,360.2 529.7,360.8 529.6,361.3 529.4,361.9 529.2,362.4 529.0,362.9 528.9,363.4 528.7,363.8 528.5,364.3 528.3,364.7 528.2,365.1 528.0,365.5 527.8,365.8 527.6,366.2 527.5,366.5 527.3,366.8 527.1,367.1 526.9,367.3 526.7,367.6 526.6,367.8 526.4,368.0 526.2,368.1 526.0,368.3 525.8,368.4 525.7,368.5 525.5,368.6 525.3,368.7 525.1,368.8 524.9,368.8 524.8,368.8 524.5,368.8 524.3,368.7 524.1,368.7 523.9,368.5 523.6,368.4 523.4,368.2 523.2,368.0 523.0,367.8 522.7,367.5 522.5,367.2 522.3,366.9 522.1,366.5 521.9,366.1 521.6,365.7 521.4,365.3 521.2,364.8 521.0,364.3 520.8,363.7 520.6,363.1 520.4,362.5 520.1,361.9 519.9,361.2 519.7,360.5 519.5,359.8 519.3,359.1 519.1,358.3 518.9,357.5 518.7,356.6 518.5,355.8 518.3,354.9 518.1,353.9 517.9,353.0 517.7,352.0 517.5,351.0 517.3,350.0 517.1,348.9 516.9,347.8 516.7,346.7 516.6,345.6 516.4,344.4 516.2,343.2 516.0,342.0 515.8,340.8 515.7,339.5 515.5,338.2 515.3,336.9 515.2,335.5 515.0,334.2 514.8,332.8 514.7,331.4 514.5,330.0 514.4,328.5 514.2,327.0 514.1,325.6 513.9,324.0 513.8,322.5 513.7,321.0 513.5,319.4 513.4,317.8 513.2,316.2 513.1,314.6 513.0,312.9 512.9,311.2 512.8,309.6 512.6,307.9 512.5,306.1 512.4,304.4 512.3,302.7 512.2,300.9 512.1,299.1 512.0,297.4 511.9,295.6 511.8,293.7 511.7,291.9 511.6,290.1 511.6,288.2 511.5,286.4 511.4,284.5 511.3,282.6 511.3,280.7 511.2,278.8 511.1,276.9 511.1,275.0 511.0,273.0 511.0,271.1 510.9,269.2 510.9,267.2 510.8,265.3 510.8,263.3 510.8,261.3 510.7,259.4 510.7,257.4 510.7,255.4 510.7,253.4 510.7,251.4 510.6,249.5 510.6,247.5 510.6,245.5 510.6,243.5 510.6,241.5 510.6,239.5 510.6,237.5 510.7,235.6 510.7,233.6 510.7,231.6 510.7,229.6 510.7,227.6 510.8,225.7 510.8,223.7 510.8,221.7 510.9,219.8 510.9,217.8 511.0,215.9 511.0,214.0 511.1,212.0 511.1,210.1 511.2,208.2 511.3,206.3 511.3,204.4 511.4,202.5 511.5,200.6 511.6,198.8 511.6,196.9 511.7,195.1 511.8,193.3 511.9,191.4 512.0,189.6 512.1,187.9 512.2,186.1 512.3,184.3 512.4,182.6 512.5,180.9 512.6,179.1 512.8,177.4 512.9,175.8 513.0,174.1 513.1,172.4 513.2,170.8 513.4,169.2 513.5,167.6 513.7,166.0 513.8,164.5 513.9,163.0 514.1,161.4 514.2,160.0 514.4,158.5 514.5,157.0 514.7,155.6 514.8,154.2 515.0,152.8 515.2,151.5 515.3,150.1 515.5,148.8 515.7,147.5 515.8,146.2 516.0,145.0 516.2,143.8 516.4,142.6 516.6,141.4 516.7,140.3 516.9,139.2 517.1,138.1 517.3,137.0 517.5,136.0 517.7,135.0 517.9,134.0 518.1,133.1 518.3,132.1 518.5,131.2 518.7,130.4 518.9,129.5 519.1,128.7 519.3,127.9 519.5,127.2 519.7,126.5 519.9,125.8 520.1,125.1 520.4,124.5 520.6,123.9 520.8,123.3 521.0,122.7 521.2,122.2 521.4,121.7 521.6,121.3 521.9,120.9 522.1,120.5 522.3,120.1 522.5,119.8 522.7,119.5 523.0,119.2 523.2,119.0 523.4,118.8 523.6,118.6 523.9,118.5 524.1,118.3 524.3,118.3 524.5,118.2 524.8,118.2 524.9,118.2 525.1,118.2 525.3,118.3 525.5,118.4 525.7,118.5 525.8,118.6 526.0,118.7 526.2,118.9 526.4,119.0 526.6,119.2 526.7,119.4 526.9,119.7 527.1,119.9 527.3,120.2 527.5,120.5 527.6,120.8 527.8,121.2 528.0,121.5 528.2,121.9 528.3,122.3 528.5,122.7 528.7,123.2 528.9,123.6 529.0,124.1 529.2,124.6 529.4,125.1 529.6,125.7 529.7,126.2 529.9,126.8 530.1,127.4 530.2,128.0 530.4,128.6 530.6,129.3 530.7,129.9 530.9,130.6 531.1,131.3 531.2,132.1 531.4,132.8 531.5,133.6 531.7,134.4 531.9,135.2 532.0,136.0 532.2,136.8 532.3,137.7 532.5,138.5 532.6,139.4 532.8,140.3 532.9,141.2 533.1,142.2 533.2,143.1 533.4,144.1 533.5,145.1 533.7,146.1 533.8,147.1 533.9,148.2 534.1,149.2 534.2,150.3 534.3,151.4 534.5,152.4 534.6,153.6 534.7,154.7 534.9,155.8 535.0,157.0 535.1,158.2 535.2,159.3 535.4,160.5 535.5,161.8 535.6,163.0 535.7,164.2 535.8,165.5 535.9,166.7 536.0,168.0 536.1,169.3 536.3,170.6 536.4,171.9 536.5,173.2 536.6,174.6 536.7,175.9 536.8,177.3 536.9,178.7 536.9,180.0 537.0,181.4 537.1,182.8 537.2,184.2 537.3,185.7 537.4,187.1 537.5,188.5 537.5,190.6 544.0,190.6 544.0,188.4 543.9,186.2 543.8,184.1 543.7,181.9 543.6,179.7 543.5,177.6 543.4,175.5 543.3,173.4 543.2,171.2 543.1,169.1 543.0,167.1 542.9,165.0 542.8,162.9 542.7,160.9 542.6,158.9 542.4,156.8 542.3,154.8 542.2,152.8 542.0,150.9 541.9,148.9 541.8,147.0 541.6,145.0 541.5,143.1 541.3,141.2 541.2,139.4 541.0,137.5 540.9,135.7 540.7,133.8 540.6,132.0 540.4,130.2 540.2,128.5 540.1,126.7 539.9,125.0 539.7,123.3 539.5,121.6 539.4,119.9 539.2,118.3 539.0,116.6 538.8,115.0 538.6,113.4 538.4,111.9 538.2,110.3 538.1,108.8 537.9,107.3 537.7,105.8 537.5,104.4 537.3,102.9 537.1,101.5 536.8,100.1 536.6,98.8 536.4,97.4 536.2,96.1 536.0,94.8 535.8,93.5 535.6,92.3 535.3,91.1 535.1,89.9 534.9,88.7 534.7,87.6 534.5,86.5 534.2,85.4 534.0,84.3 533.8,83.3 533.5,82.3 533.3,81.3 533.1,80.3 532.8,79.4 532.6,78.5 532.3,77.6 532.1,76.8 531.9,75.9 531.6,75.1 531.4,74.4 531.1,73.6 530.9,72.9 530.6,72.2 530.4,71.6 530.1,71.0 529.9,70.4 529.6,69.8 529.4,69.3 529.1,68.7 528.9,68.3 528.6,67.8 528.4,67.4 528.1,67.0 527.9,66.6 527.6,66.3 527.3,66.0 527.1,65.7 526.8,65.4 526.6,65.2 526.3,65.0 526.1,64.9 525.8,64.7 525.5,64.6 525.3,64.6 525.0,64.5 524.8,64.5 524.4,64.5 524.1,64.6 523.8,64.7 523.5,64.9 523.2,65.1 522.8,65.3 522.5,65.6 522.2,65.9 521.9,66.3 521.6,66.7 521.3,67.2 520.9,67.7 520.6,68.3 520.3,68.9 520.0,69.5 519.7,70.2 519.4,71.0 519.1,71.8 518.8,72.6 518.5,73.4 518.2,74.3 517.9,75.3 517.6,76.3 517.3,77.3 517.0,78.4 516.7,79.5 516.4,80.7 516.1,81.9 515.8,83.1 515.5,84.4 515.2,85.7 514.9,87.1 514.7,88.5 514.4,89.9 514.1,91.4 513.8,92.9 513.6,94.5 513.3,96.1 513.0,97.7 512.8,99.4 512.5,101.1 512.3,102.8 512.0,104.6 511.8,106.4 511.5,108.2 511.3,110.1 511.1,112.0 510.8,114.0 510.6,115.9 510.4,117.9 510.1,120.0 509.9,122.0 509.7,124.1 509.5,126.3 509.3,128.4 509.1,130.6 508.9,132.8 508.7,135.1 508.5,137.4 508.3,139.7 508.1,142.0 508.0,144.3 507.8,146.7 507.6,149.1 507.4,151.6 507.3,154.0 507.1,156.5 507.0,159.0 506.8,161.5 506.7,164.0 506.5,166.6 506.4,169.1 506.3,171.7 506.1,174.3 506.0,177.0 505.9,179.6 505.8,182.3 505.7,185.0 505.6,187.6 505.5,190.4 505.4,193.1 505.3,195.8 505.2,198.5 505.1,201.3 505.1,204.1 505.0,206.8 504.9,209.6 504.9,212.4 504.8,215.2 504.8,218.0 504.7,220.8 504.7,223.7 504.7,226.5 504.6,229.3 504.6,232.1 504.6,235.0 504.6,237.8 504.6,240.7 504.6,243.5 504.6,246.3 504.6,249.2 504.6,252.0 504.6,254.9 504.6,257.7 504.7,260.5 504.7,263.3 504.7,266.2 504.8,269.0 504.8,271.8 504.9,274.6 504.9,277.4 505.0,280.2 505.1,282.9 505.1,285.7 505.2,288.5 505.3,291.2 505.4,293.9 505.5,296.6 505.6,299.4 505.7,302.0 505.8,304.7 505.9,307.4 506.0,310.0 506.1,312.7 506.3,315.3 506.4,317.9 506.5,320.4 506.7,323.0 506.8,325.5 507.0,328.0 507.1,330.5 507.3,333.0 507.4,335.4 507.6,337.9 507.8,340.3 508.0,342.7 508.1,345.0 508.3,347.3 508.5,349.6 508.7,351.9 508.9,354.2 509.1,356.4 509.3,358.6 509.5,360.7 509.7,362.9 509.9,365.0 510.1,367.0 510.4,369.1 510.6,371.1 510.8,373.0 511.1,375.0 511.3,376.9 511.5,378.8 511.8,380.6 512.0,382.4 512.3,384.2 512.5,385.9 512.8,387.6 513.0,389.3 513.3,390.9 513.6,392.5 513.8,394.1 514.1,395.6 514.4,397.1 514.7,398.5 514.9,399.9 515.2,401.3 515.5,402.6 515.8,403.9 516.1,405.1 516.4,406.3 516.7,407.5 517.0,408.6 517.3,409.7 517.6,410.7 517.9,411.7 518.2,412.7 518.5,413.6 518.8,414.4 519.1,415.2 519.4,416.0 519.7,416.8 520.0,417.5 520.3,418.1 520.6,418.7 520.9,419.3 521.3,419.8 521.6,420.3 521.9,420.7 522.2,421.1 522.5,421.4 522.8,421.7 523.2,421.9 523.5,422.1 523.8,422.3 524.1,422.4 524.4,422.5 524.8,422.5 525.0,422.5 525.3,422.4 525.5,422.4 525.8,422.3 526.1,422.1 526.3,422.0 526.6,421.8 526.8,421.6 527.1,421.3 527.3,421.0 527.6,420.7 527.9,420.4 528.1,420.0 528.4,419.6 528.6,419.2 528.9,418.7 529.1,418.3 529.4,417.7 529.6,417.2 529.9,416.6 530.1,416.0 530.4,415.4 530.6,414.8 530.9,414.1 531.1,413.4 531.4,412.6 531.6,411.9 531.9,411.1 532.1,410.2 532.3,409.4 532.6,408.5 532.8,407.6 533.1,406.7 533.3,405.7 533.5,404.7 533.8,403.7 534.0,402.7 534.2,401.6 534.5,400.5 534.7,399.4 534.9,398.3 535.1,397.1 535.3,395.9 535.6,394.7 535.8,393.5 536.0,392.2 536.2,390.9 536.4,389.6 536.6,388.2 536.8,386.9 537.1,385.5 537.3,384.1 537.5,382.6 537.7,381.2 537.9,379.7 538.1,378.2 538.2,376.7 538.4,375.1 538.6,373.6 538.8,372.0 539.0,370.4 539.2,368.7 539.4,367.1 539.5,365.4 539.7,363.7 539.9,362.0 540.1,360.3 540.2,358.5 540.4,356.8 540.6,355.0 540.7,353.2 540.9,351.3 541.0,349.5 541.2,347.6 541.3,345.8 541.5,343.9 541.6,342.0 541.8,340.0 541.9,338.1 542.0,336.1 542.2,334.2 542.3,332.2 542.4,330.2 542.6,328.1 542.7,326.1 542.8,324.1 542.9,322.0 543.0,319.9 543.1,317.9 543.2,315.8 543.3,313.6 543.4,311.5 543.5,309.4 543.6,307.3 543.7,305.1 543.8,302.9 543.9,300.8 544.0,298.6 544.0,296.4Z M544.0,279.3 524.8,279.3 524.8,315.1 536.0,315.1 536.0,422.5 544.0,422.5 544.0,279.3Z" fill="#FFA500"/>
<path d="M544.95,424.80 561.10,424.00 569.18,424.00 585.33,424.80 577.25,424.80 572.41,424.56 557.87,424.56 553.03,424.80Z M559.49,424.48 565.14,424.20 570.79,424.48Z" fill="#10FF00" fill-rule="evenodd"/>
<path d="M577.9,296.3 577.8,298.4 577.8,299.8 577.7,301.3 577.6,302.7 577.5,304.1 577.4,305.5 577.3,306.9 577.2,308.3 577.1,309.6 577.0,311.0 576.9,312.3 576.8,313.7 576.7,315.0 576.6,316.3 576.5,317.6 576.4,318.9 576.3,320.2 576.2,321.5 576.1,322.7 576.0,323.9 575.9,325.2 575.7,326.4 575.6,327.6 575.5,328.8 575.4,329.9 575.2,331.1 575.1,332.2 575.0,333.4 574.8,334.5 574.7,335.6 574.6,336.7 574.4,337.7 574.3,338.8 574.2,339.8 574.0,340.8 573.9,341.8 573.7,342.8 573.6,343.8 573.5,344.7 573.3,345.7 573.2,346.6 573.0,347.5 572.9,348.4 572.7,349.3 572.6,350.1 572.4,350.9 572.2,351.8 572.1,352.6 571.9,353.3 571.8,354.1 571.6,354.9 571.4,355.6 571.3,356.3 571.1,357.0 570.9,357.6 570.8,358.3 570.6,358.9 570.4,359.5 570.3,360.1 570.1,360.7 569.9,361.3 569.8,361.8 569.6,362.3 569.4,362.8 569.3,363.3 569.1,363.8 568.9,364.2 568.7,364.6 568.6,365.0 568.4,365.4 568.2,365.7 568.0,366.1 567.8,366.4 567.7,366.7 567.5,367.0 567.3,367.2 567.1,367.5 566.9,367.7 566.8,367.9 566.6,368.1 566.4,368.2 566.2,368.3 566.0,368.5 565.9,368.5 565.7,368.6 565.5,368.7 565.3,368.7 565.1,368.7 564.9,368.7 564.7,368.7 564.5,368.6 564.2,368.5 564.0,368.3 563.8,368.1 563.6,367.9 563.4,367.7 563.1,367.4 562.9,367.1 562.7,366.8 562.5,366.5 562.2,366.1 562.0,365.6 561.8,365.2 561.6,364.7 561.4,364.2 561.2,363.6 560.9,363.1 560.7,362.5 560.5,361.8 560.3,361.2 560.1,360.5 559.9,359.7 559.7,359.0 559.5,358.2 559.3,357.4 559.1,356.6 558.9,355.7 558.7,354.8 558.5,353.9 558.3,352.9 558.1,351.9 557.9,350.9 557.7,349.9 557.5,348.8 557.3,347.7 557.1,346.6 556.9,345.5 556.8,344.3 556.6,343.1 556.4,341.9 556.2,340.7 556.1,339.4 555.9,338.1 555.7,336.8 555.6,335.5 555.4,334.1 555.2,332.7 555.1,331.3 554.9,329.9 554.8,328.4 554.6,327.0 554.5,325.5 554.3,324.0 554.2,322.4 554.0,320.9 553.9,319.3 553.8,317.7 553.6,316.1 553.5,314.5 553.4,312.8 553.3,311.2 553.1,309.5 553.0,307.8 552.9,306.1 552.8,304.4 552.7,302.6 552.6,300.8 552.5,299.1 552.4,297.3 552.3,295.5 552.2,293.7 552.1,291.8 552.0,290.0 551.9,288.2 551.9,286.3 551.8,284.4 551.7,282.5 551.6,280.6 551.6,278.7 551.5,276.8 551.5,274.9 551.4,273.0 551.4,271.0 551.3,269.1 551.3,267.2 551.2,265.2 551.2,263.2 551.2,261.3 551.1,259.3 551.1,257.3 551.1,255.4 551.1,253.4 551.0,251.4 551.0,249.4 551.0,247.4 551.0,245.4 551.0,243.5 551.0,243.4 551.0,241.5 551.0,239.5 551.0,237.5 551.0,235.5 551.1,233.5 551.1,231.5 551.1,229.6 551.1,227.6 551.2,225.6 551.2,223.7 551.2,221.7 551.3,219.7 551.3,217.8 551.4,215.9 551.4,213.9 551.5,212.0 551.5,210.1 551.6,208.2 551.6,206.3 551.7,204.4 551.8,202.5 551.9,200.6 551.9,198.7 552.0,196.9 552.1,195.1 552.2,193.2 552.3,191.4 552.4,189.6 552.5,187.8 552.6,186.1 552.7,184.3 552.8,182.5 552.9,180.8 553.0,179.1 553.1,177.4 553.3,175.7 553.4,174.1 553.5,172.4 553.6,170.8 553.8,169.2 553.9,167.6 554.0,166.0 554.2,164.5 554.3,162.9 554.5,161.4 554.6,159.9 554.8,158.5 554.9,157.0 555.1,155.6 555.2,154.2 555.4,152.8 555.6,151.4 555.7,150.1 555.9,148.8 556.1,147.5 556.2,146.2 556.4,145.0 556.6,143.8 556.8,142.6 556.9,141.4 557.1,140.3 557.3,139.2 557.5,138.1 557.7,137.0 557.9,136.0 558.1,135.0 558.3,134.0 558.5,133.0 558.7,132.1 558.9,131.2 559.1,130.3 559.3,129.5 559.5,128.7 559.7,127.9 559.9,127.2 560.1,126.4 560.3,125.7 560.5,125.1 560.7,124.4 560.9,123.8 561.2,123.3 561.4,122.7 561.6,122.2 561.8,121.7 562.0,121.3 562.2,120.8 562.5,120.4 562.7,120.1 562.9,119.8 563.1,119.5 563.4,119.2 563.6,119.0 563.8,118.8 564.0,118.6 564.2,118.4 564.5,118.3 564.7,118.2 564.9,118.2 565.1,118.2 565.3,118.2 565.5,118.2 565.7,118.3 565.9,118.4 566.0,118.4 566.2,118.6 566.4,118.7 566.6,118.8 566.8,119.0 566.9,119.2 567.1,119.4 567.3,119.7 567.5,119.9 567.7,120.2 567.8,120.5 568.0,120.8 568.2,121.2 568.4,121.5 568.6,121.9 568.7,122.3 568.9,122.7 569.1,123.1 569.3,123.6 569.4,124.1 569.6,124.6 569.8,125.1 569.9,125.6 570.1,126.2 570.3,126.8 570.4,127.4 570.6,128.0 570.8,128.6 570.9,129.3 571.1,129.9 571.3,130.6 571.4,131.3 571.6,132.0 571.8,132.8 571.9,133.6 572.1,134.3 572.2,135.1 572.4,136.0 572.6,136.8 572.7,137.6 572.9,138.5 573.0,139.4 573.2,140.3 573.3,141.2 573.5,142.2 573.6,143.1 573.7,144.1 573.9,145.1 574.0,146.1 574.2,147.1 574.3,148.1 574.4,149.2 574.6,150.2 574.7,151.3 574.8,152.4 575.0,153.5 575.1,154.7 575.2,155.8 575.4,157.0 575.5,158.1 575.6,159.3 575.7,160.5 575.9,161.7 576.0,163.0 576.1,164.2 576.2,165.4 576.3,166.7 576.4,168.0 576.5,169.3 576.6,170.6 576.7,171.9 576.8,173.2 576.9,174.6 577.0,175.9 577.1,177.3 577.2,178.6 577.3,180.0 577.4,181.4 577.5,182.8 577.6,184.2 577.7,185.6 577.8,187.1 577.8,188.5 577.9,190.6 584.4,190.6 584.4,188.4 584.3,186.2 584.2,184.0 584.1,181.9 584.0,179.7 583.9,177.6 583.8,175.4 583.7,173.3 583.6,171.2 583.5,169.1 583.4,167.0 583.3,165.0 583.2,162.9 583.1,160.9 582.9,158.8 582.8,156.8 582.7,154.8 582.5,152.8 582.4,150.8 582.3,148.9 582.1,146.9 582.0,145.0 581.9,143.1 581.7,141.2 581.6,139.3 581.4,137.5 581.3,135.6 581.1,133.8 580.9,132.0 580.8,130.2 580.6,128.5 580.4,126.7 580.3,125.0 580.1,123.3 579.9,121.6 579.7,119.9 579.6,118.2 579.4,116.6 579.2,115.0 579.0,113.4 578.8,111.8 578.6,110.3 578.4,108.8 578.2,107.3 578.0,105.8 577.8,104.3 577.6,102.9 577.4,101.5 577.2,100.1 577.0,98.7 576.8,97.4 576.6,96.1 576.4,94.8 576.2,93.5 575.9,92.3 575.7,91.1 575.5,89.9 575.3,88.7 575.1,87.6 574.8,86.5 574.6,85.4 574.4,84.3 574.1,83.3 573.9,82.3 573.7,81.3 573.4,80.3 573.2,79.4 573.0,78.5 572.7,77.6 572.5,76.8 572.2,75.9 572.0,75.1 571.8,74.4 571.5,73.6 571.3,72.9 571.0,72.2 570.8,71.6 570.5,71.0 570.3,70.4 570.0,69.8 569.8,69.3 569.5,68.7 569.3,68.3 569.0,67.8 568.7,67.4 568.5,67.0 568.2,66.6 568.0,66.3 567.7,66.0 567.5,65.7 567.2,65.4 567.0,65.2 566.7,65.0 566.4,64.9 566.2,64.7 565.9,64.6 565.7,64.6 565.4,64.5 565.1,64.5 564.8,64.5 564.5,64.6 564.2,64.7 563.9,64.9 563.5,65.1 563.2,65.3 562.9,65.6 562.6,65.9 562.3,66.3 561.9,66.7 561.6,67.2 561.3,67.7 561.0,68.3 560.7,68.9 560.4,69.5 560.1,70.2 559.8,71.0 559.5,71.7 559.1,72.6 558.8,73.4 558.5,74.3 558.2,75.3 557.9,76.3 557.6,77.3 557.3,78.4 557.0,79.5 556.8,80.7 556.5,81.9 556.2,83.1 555.9,84.4 555.6,85.7 555.3,87.1 555.0,88.5 554.8,89.9 554.5,91.4 554.2,92.9 554.0,94.5 553.7,96.1 553.4,97.7 553.2,99.3 552.9,101.0 552.7,102.8 552.4,104.6 552.2,106.4 551.9,108.2 551.7,110.1 551.4,112.0 551.2,113.9 551.0,115.9 550.8,117.9 550.5,120.0 550.3,122.0 550.1,124.1 549.9,126.3 549.7,128.4 549.5,130.6 549.3,132.8 549.1,135.1 548.9,137.3 548.7,139.6 548.5,142.0 548.3,144.3 548.2,146.7 548.0,149.1 547.8,151.5 547.7,154.0 547.5,156.4 547.3,158.9 547.2,161.5 547.0,164.0 546.9,166.5 546.8,169.1 546.6,171.7 546.5,174.3 546.4,176.9 546.3,179.6 546.2,182.2 546.1,184.9 546.0,187.6 545.9,190.3 545.8,193.0 545.7,195.8 545.6,198.5 545.5,201.3 545.4,204.0 545.4,206.8 545.3,209.6 545.3,212.4 545.2,215.2 545.2,218.0 545.1,220.8 545.1,223.6 545.0,226.4 545.0,229.3 545.0,232.1 545.0,234.9 545.0,237.8 545.0,240.6 545.0,243.4 545.0,243.5 545.0,246.3 545.0,249.1 545.0,252.0 545.0,254.8 545.0,257.6 545.0,260.5 545.1,263.3 545.1,266.1 545.2,268.9 545.2,271.7 545.3,274.5 545.3,277.3 545.4,280.1 545.4,282.9 545.5,285.6 545.6,288.4 545.7,291.1 545.8,293.9 545.9,296.6 546.0,299.3 546.1,302.0 546.2,304.7 546.3,307.3 546.4,310.0 546.5,312.6 546.6,315.2 546.8,317.8 546.9,320.4 547.0,322.9 547.2,325.4 547.3,328.0 547.5,330.5 547.7,332.9 547.8,335.4 548.0,337.8 548.2,340.2 548.3,342.6 548.5,344.9 548.7,347.3 548.9,349.6 549.1,351.8 549.3,354.1 549.5,356.3 549.7,358.5 549.9,360.6 550.1,362.8 550.3,364.9 550.5,366.9 550.8,369.0 551.0,371.0 551.2,373.0 551.4,374.9 551.7,376.8 551.9,378.7 552.2,380.5 552.4,382.3 552.7,384.1 552.9,385.9 553.2,387.6 553.4,389.2 553.7,390.8 554.0,392.4 554.2,394.0 554.5,395.5 554.8,397.0 555.0,398.4 555.3,399.8 555.6,401.2 555.9,402.5 556.2,403.8 556.5,405.0 556.8,406.2 557.0,407.4 557.3,408.5 557.6,409.6 557.9,410.6 558.2,411.6 558.5,412.6 558.8,413.5 559.1,414.3 559.5,415.2 559.8,415.9 560.1,416.7 560.4,417.4 560.7,418.0 561.0,418.6 561.3,419.2 561.6,419.7 561.9,420.2 562.3,420.6 562.6,421.0 562.9,421.3 563.2,421.6 563.5,421.8 563.9,422.0 564.2,422.2 564.5,422.3 564.8,422.4 565.1,422.4 565.4,422.4 565.7,422.3 565.9,422.3 566.2,422.2 566.4,422.0 566.7,421.9 567.0,421.7 567.2,421.5 567.5,421.2 567.7,420.9 568.0,420.6 568.2,420.3 568.5,419.9 568.7,419.5 569.0,419.1 569.3,418.6 569.5,418.2 569.8,417.6 570.0,417.1 570.3,416.5 570.5,415.9 570.8,415.3 571.0,414.7 571.3,414.0 571.5,413.3 571.8,412.5 572.0,411.8 572.2,411.0 572.5,410.1 572.7,409.3 573.0,408.4 573.2,407.5 573.4,406.6 573.7,405.6 573.9,404.6 574.1,403.6 574.4,402.6 574.6,401.5 574.8,400.4 575.1,399.3 575.3,398.2 575.5,397.0 575.7,395.8 575.9,394.6 576.2,393.4 576.4,392.1 576.6,390.8 576.8,389.5 577.0,388.2 577.2,386.8 577.4,385.4 577.6,384.0 577.8,382.6 578.0,381.1 578.2,379.6 578.4,378.1 578.6,376.6 578.8,375.1 579.0,373.5 579.2,371.9 579.4,370.3 579.6,368.7 579.7,367.0 579.9,365.3 580.1,363.6 580.3,361.9 580.4,360.2 580.6,358.4 580.8,356.7 580.9,354.9 581.1,353.1 581.3,351.3 581.4,349.4 581.6,347.6 581.7,345.7 581.9,343.8 582.0,341.9 582.1,340.0 582.3,338.0 582.4,336.1 582.5,334.1 582.7,332.1 582.8,330.1 582.9,328.1 583.1,326.0 583.2,324.0 583.3,321.9 583.4,319.9 583.5,317.8 583.6,315.7 583.7,313.6 583.8,311.5 583.9,309.3 584.0,307.2 584.1,305.0 584.2,302.9 584.3,300.7 584.4,298.5 584.4,296.3Z M584.4,279.2 565.1,279.2 565.1,315.0 576.4,315.0 576.4,422.4 584.4,422.4 584.4,279.2Z" fill="#FFA500"/>
<path d="M618.30,427.88 618.14,427.91 617.97,427.93 617.80,427.95 617.61,427.97 617.42,427.99 617.22,428.01 617.02,428.03 616.80,428.05 616.58,428.07 616.35,428.08 616.11,428.10 615.87,428.12 615.62,428.14 615.36,428.15 615.10,428.17 614.83,428.18 614.55,428.20 614.27,428.21 613.98,428.23 613.69,428.24 613.39,428.26 613.08,428.27 612.78,428.28 612.46,428.29 612.14,428.30 611.82,428.31 611.49,428.32 611.16,428.33 610.83,428.34 610.49,428.35 610.15,428.36 609.81,428.37 609.46,428.37 609.11,428.38 608.76,428.39 608.40,428.39 608.05,428.40 607.69,428.40 607.33,428.40 606.97,428.41 606.61,428.41 606.25,428.41 605.88,428.41 605.52,428.41 605.30,428.41 604.85,428.41 604.40,428.41 603.95,428.40 603.51,428.40 603.29,428.40 603.07,428.40 602.63,428.39 602.19,428.38 601.75,428.38 601.32,428.37 600.90,428.36 600.48,428.35 600.06,428.34 599.65,428.33 599.24,428.32 598.85,428.30 598.45,428.29 598.07,428.27 597.69,428.26 597.32,428.24 596.96,428.22 596.61,428.21 596.26,428.19 595.93,428.17 595.61,428.15 595.29,428.13 594.99,428.11 594.69,428.08 594.41,428.06 594.14,428.04 593.88,428.02 593.63,427.99 593.39,427.97 593.17,427.94 592.96,427.92 592.76,427.89 592.57,427.86 592.40,427.84 592.24,427.81 592.09,427.78 591.96,427.76 591.84,427.73 591.73,427.70 591.64,427.67 591.56,427.64 591.50,427.62 591.45,427.59 591.42,427.56 591.39,427.53 591.39,427.50 591.39,427.49 591.40,427.46 591.43,427.43 591.47,427.40 591.53,427.37 591.56,427.36 591.60,427.34 591.69,427.31 591.79,427.29 591.90,427.26 592.02,427.23 592.16,427.20 592.32,427.18 592.48,427.15 592.66,427.12 592.86,427.10 593.06,427.07 593.28,427.05 593.51,427.02 593.75,427.00 594.01,426.97 594.27,426.95 594.55,426.93 594.84,426.90 595.14,426.88 595.45,426.86 595.77,426.84 596.10,426.82 596.44,426.80 596.78,426.78 597.14,426.77 597.51,426.75 597.88,426.73 598.26,426.72 598.65,426.70 599.04,426.69 599.45,426.68 599.85,426.67 600.27,426.66 600.69,426.64 601.11,426.64 601.54,426.63 601.97,426.62 602.41,426.61 602.85,426.61 603.29,426.60 603.73,426.60 604.18,426.59 604.62,426.59 605.07,426.59 605.52,426.59 605.70,426.59 606.06,426.59 606.43,426.59 606.79,426.59 607.15,426.60 607.33,426.60 607.51,426.60 607.87,426.60 608.22,426.61 608.58,426.61 608.93,426.62 609.28,426.62 609.63,426.63 609.98,426.64 610.32,426.64 610.66,426.65 611.00,426.66 611.33,426.67 611.66,426.68 611.98,426.69 612.30,426.70 612.62,426.71 612.93,426.73 613.24,426.74 613.54,426.75 613.83,426.76 614.13,426.78 614.41,426.79 614.69,426.81 614.96,426.82 615.23,426.84 615.49,426.86 615.74,426.87 615.99,426.89 616.23,426.91 616.46,426.92 616.69,426.94 616.91,426.96 617.12,426.98 617.32,427.00 617.52,427.02 617.71,427.04 617.89,427.06 618.06,427.08 618.22,427.10 624.81,427.12 624.65,427.08 624.48,427.05 624.29,427.02 624.09,426.99 623.89,426.96 623.66,426.93 623.43,426.90 623.19,426.87 622.93,426.84 622.66,426.81 622.52,426.80 622.38,426.78 622.09,426.76 621.79,426.73 621.48,426.70 621.15,426.68 620.82,426.65 620.48,426.63 620.13,426.60 619.76,426.58 619.39,426.56 619.01,426.53 618.62,426.51 618.22,426.49 617.81,426.47 617.40,426.45 616.98,426.43 616.54,426.41 616.11,426.39 615.66,426.38 615.21,426.36 614.75,426.34 614.29,426.33 613.82,426.31 613.34,426.30 612.86,426.29 612.38,426.28 611.89,426.27 611.39,426.26 610.90,426.25 610.40,426.24 609.89,426.23 609.38,426.22 608.87,426.22 608.36,426.21 607.85,426.21 607.33,426.21 606.81,426.20 606.30,426.20 605.78,426.20 605.52,426.20 604.88,426.20 604.24,426.20 603.60,426.21 602.96,426.21 602.33,426.22 601.70,426.22 601.07,426.23 600.45,426.24 599.83,426.25 599.22,426.26 598.92,426.27 598.61,426.28 598.02,426.29 597.43,426.31 596.84,426.33 596.27,426.34 595.70,426.36 595.15,426.38 594.60,426.41 594.07,426.43 593.55,426.45 593.04,426.48 592.54,426.50 592.06,426.53 591.59,426.56 591.13,426.59 590.69,426.62 590.26,426.65 589.85,426.68 589.45,426.71 589.07,426.75 588.71,426.78 588.36,426.81 588.03,426.85 587.72,426.89 587.43,426.92 587.15,426.96 586.90,427.00 586.66,427.04 586.44,427.07 586.24,427.11 586.06,427.15 585.90,427.19 585.76,427.23 585.64,427.27 585.54,427.31 585.45,427.36 585.39,427.40 585.35,427.44 585.33,427.48 585.33,427.50 585.34,427.54 585.37,427.58 585.42,427.62 585.49,427.66 585.58,427.71 585.69,427.75 585.83,427.79 585.98,427.83 586.15,427.87 586.34,427.91 586.44,427.93 586.55,427.94 586.78,427.98 587.02,428.02 587.29,428.06 587.57,428.10 587.88,428.13 588.20,428.17 588.54,428.20 588.89,428.24 589.26,428.27 589.65,428.30 590.05,428.34 590.47,428.37 590.91,428.40 591.36,428.43 591.82,428.45 592.30,428.48 592.79,428.51 593.29,428.53 593.81,428.56 594.34,428.58 594.88,428.60 595.43,428.63 595.98,428.65 596.55,428.66 597.13,428.68 597.72,428.70 598.31,428.71 598.92,428.73 599.53,428.74 600.14,428.75 600.76,428.76 601.38,428.77 602.01,428.78 602.65,428.79 603.28,428.79 603.92,428.80 604.56,428.80 605.20,428.80 605.52,428.80 606.04,428.80 606.56,428.80 607.07,428.80 607.59,428.79 608.10,428.79 608.62,428.78 609.13,428.78 609.64,428.77 610.14,428.77 610.65,428.76 610.90,428.75 611.15,428.75 611.64,428.74 612.13,428.73 612.62,428.72 613.10,428.70 613.58,428.69 614.05,428.68 614.52,428.66 614.98,428.65 615.44,428.63 615.89,428.62 616.33,428.60 616.76,428.58 617.19,428.56 617.61,428.54 618.02,428.52 618.42,428.50 618.82,428.48 619.20,428.46 619.58,428.43 619.94,428.41 620.30,428.39 620.65,428.36 620.99,428.34 621.32,428.31 621.63,428.28 621.94,428.26 622.24,428.23 622.52,428.20 622.80,428.17 623.06,428.14 623.31,428.11 623.55,428.09 623.78,428.06 623.99,428.02 624.20,427.99 624.39,427.96 624.56,427.93 624.73,427.90 624.81,427.88Z M624.81,427.76 605.52,427.76 605.52,428.02 616.73,428.02 616.73,428.80 624.81,428.80 624.81,427.76Z" fill="#FFA500"/>
<path d="M585.33,424.30 601.48,413.30 609.56,413.30 625.71,424.30 617.63,424.30 612.79,421.00 598.25,421.00 593.41,424.30Z M599.87,419.90 605.52,416.05 611.17,419.90Z" fill="#10FF00" fill-rule="evenodd"/>
<path d="M585.33,386.60 625.71,386.60 625.71,389.11 609.56,389.11 609.56,411.70 601.48,411.70 601.48,389.11 585.33,389.11Z" fill="#FF0000"/>
<path d="M624.8,368.5 624.6,369.1 624.5,369.7 624.3,370.2 624.1,370.8 623.9,371.3 623.7,371.8 623.4,372.4 623.2,372.9 622.9,373.4 622.7,373.9 622.4,374.4 622.1,374.9 621.8,375.4 621.5,375.9 621.2,376.4 620.8,376.8 620.5,377.3 620.1,377.7 619.8,378.1 619.4,378.5 619.0,378.9 618.6,379.3 618.2,379.7 617.8,380.1 617.4,380.5 617.0,380.8 616.5,381.1 616.1,381.4 615.7,381.8 615.2,382.0 614.8,382.3 614.3,382.6 613.8,382.8 613.3,383.1 612.9,383.3 612.4,383.5 611.9,383.7 611.4,383.9 610.9,384.1 610.4,384.2 609.9,384.3 609.4,384.5 608.9,384.6 608.4,384.7 607.8,384.7 607.3,384.8 606.8,384.9 606.3,384.9 605.8,384.9 605.5,384.9 604.9,384.9 604.2,384.9 603.6,384.8 603.0,384.7 602.3,384.6 601.7,384.5 601.1,384.3 600.4,384.2 599.8,384.0 599.2,383.7 598.6,383.5 598.0,383.2 597.4,382.9 596.8,382.6 596.3,382.3 595.7,382.0 595.1,381.6 594.6,381.2 594.1,380.8 593.5,380.4 593.0,379.9 592.5,379.5 592.1,379.0 591.6,378.5 591.1,378.0 590.7,377.4 590.3,376.9 589.8,376.3 589.5,375.7 589.1,375.1 588.7,374.5 588.4,373.9 588.0,373.3 587.7,372.6 587.4,372.0 587.2,371.3 586.9,370.6 586.7,369.9 586.4,369.3 586.2,368.6 586.1,367.8 585.9,367.1 585.8,366.4 585.6,365.7 585.5,365.0 585.5,364.2 585.4,363.5 585.4,362.8 585.3,362.0 585.3,361.6 585.3,360.9 585.4,360.2 585.4,359.4 585.5,358.7 585.6,358.0 585.7,357.2 585.8,356.5 586.0,355.8 586.1,355.1 586.3,354.4 586.5,353.7 586.8,353.0 587.0,352.3 587.3,351.7 587.6,351.0 587.9,350.3 588.2,349.7 588.5,349.1 588.9,348.5 589.3,347.9 589.6,347.3 590.1,346.7 590.5,346.1 590.9,345.6 591.4,345.1 591.8,344.6 592.3,344.1 592.8,343.6 593.3,343.1 593.8,342.7 594.3,342.3 594.9,341.9 595.4,341.5 596.0,341.2 596.6,340.8 597.1,340.5 597.7,340.2 598.3,339.9 598.9,339.7 599.5,339.4 600.1,339.2 600.8,339.1 601.4,338.9 602.0,338.8 602.6,338.6 603.3,338.5 603.9,338.5 604.6,338.4 605.2,338.4 605.5,338.4 606.0,338.4 606.6,338.4 607.1,338.5 607.6,338.5 608.1,338.6 608.6,338.7 609.1,338.8 609.6,338.9 610.1,339.0 610.6,339.2 611.1,339.3 611.6,339.5 612.1,339.7 612.6,339.9 613.1,340.1 613.6,340.3 614.1,340.6 614.5,340.8 615.0,341.1 615.4,341.4 615.9,341.7 616.3,342.0 616.8,342.3 617.2,342.7 617.6,343.0 618.0,343.4 618.4,343.8 618.8,344.2 619.2,344.6 619.6,345.0 619.9,345.4 620.3,345.8 620.7,346.3 621.0,346.7 621.3,347.2 621.6,347.6 621.9,348.1 622.2,348.6 622.5,349.1 622.8,349.6 623.1,350.1 623.3,350.7 623.5,351.2 623.8,351.7 624.0,352.3 624.2,352.8 624.4,353.4 624.6,353.9 624.7,354.5 624.8,354.8 618.3,354.8 618.1,354.3 618.0,354.0 617.8,353.6 617.6,353.2 617.4,352.9 617.2,352.5 617.0,352.2 616.8,351.8 616.6,351.5 616.3,351.2 616.1,350.9 615.9,350.6 615.6,350.3 615.4,350.0 615.1,349.7 614.8,349.4 614.6,349.1 614.3,348.9 614.0,348.6 613.7,348.4 613.4,348.1 613.1,347.9 612.8,347.7 612.5,347.5 612.1,347.3 611.8,347.1 611.5,346.9 611.2,346.7 610.8,346.6 610.5,346.4 610.1,346.3 609.8,346.1 609.5,346.0 609.1,345.9 608.8,345.8 608.4,345.7 608.0,345.6 607.7,345.6 607.3,345.5 607.0,345.5 606.6,345.4 606.2,345.4 605.9,345.4 605.5,345.4 605.3,345.4 604.8,345.4 604.4,345.4 604.0,345.5 603.5,345.5 603.3,345.6 603.1,345.6 602.6,345.7 602.2,345.8 601.8,346.0 601.3,346.1 600.9,346.3 600.5,346.4 600.1,346.6 599.6,346.8 599.2,347.1 598.8,347.3 598.5,347.6 598.1,347.8 597.7,348.1 597.3,348.4 597.0,348.7 596.6,349.0 596.3,349.4 595.9,349.7 595.6,350.1 595.3,350.4 595.0,350.8 594.7,351.2 594.4,351.6 594.1,352.0 593.9,352.4 593.6,352.9 593.4,353.3 593.2,353.7 593.0,354.2 592.8,354.7 592.6,355.1 592.4,355.6 592.2,356.1 592.1,356.6 592.0,357.1 591.8,357.6 591.7,358.1 591.6,358.6 591.6,359.1 591.5,359.6 591.5,360.1 591.4,360.6 591.4,361.1 591.4,361.6 591.4,361.9 591.4,362.4 591.4,362.9 591.5,363.5 591.5,364.0 591.6,364.2 591.6,364.5 591.7,365.0 591.8,365.5 591.9,366.0 592.0,366.5 592.2,367.0 592.3,367.5 592.5,367.9 592.7,368.4 592.9,368.9 593.1,369.3 593.3,369.8 593.5,370.2 593.8,370.7 594.0,371.1 594.3,371.5 594.6,371.9 594.8,372.3 595.1,372.7 595.4,373.1 595.8,373.4 596.1,373.8 596.4,374.1 596.8,374.4 597.1,374.8 597.5,375.1 597.9,375.3 598.3,375.6 598.6,375.9 599.0,376.1 599.4,376.3 599.9,376.6 600.3,376.8 600.7,376.9 601.1,377.1 601.5,377.3 602.0,377.4 602.4,377.5 602.8,377.6 603.3,377.7 603.7,377.8 604.2,377.9 604.6,377.9 605.1,377.9 605.5,377.9 605.7,377.9 606.1,377.9 606.4,377.9 606.8,377.9 607.1,377.8 607.3,377.8 607.5,377.8 607.9,377.7 608.2,377.6 608.6,377.5 608.9,377.4 609.3,377.3 609.6,377.2 610.0,377.1 610.3,377.0 610.7,376.8 611.0,376.7 611.3,376.5 611.7,376.3 612.0,376.1 612.3,375.9 612.6,375.7 612.9,375.5 613.2,375.3 613.5,375.1 613.8,374.8 614.1,374.6 614.4,374.3 614.7,374.0 615.0,373.8 615.2,373.5 615.5,373.2 615.7,372.9 616.0,372.6 616.2,372.3 616.5,371.9 616.7,371.6 616.9,371.3 617.1,370.9 617.3,370.6 617.5,370.2 617.7,369.9 617.9,369.5 618.1,369.2 618.2,368.8 618.3,368.5Z" fill="#0000FF"/>
<path d="M625.71,429.00 641.86,425.60 649.94,425.60 666.09,429.00 658.01,429.00 653.17,427.98 638.63,427.98 633.79,429.00Z M640.25,427.64 645.90,426.45 651.55,427.64Z" fill="#10FF00" fill-rule="evenodd"/>
<path d="M658.68,421.63 658.52,421.70 658.35,421.76 658.18,421.82 657.99,421.87 657.80,421.93 657.60,421.98 657.40,422.04 657.18,422.09 656.96,422.14 656.73,422.19 656.49,422.24 656.25,422.29 656.00,422.34 655.74,422.38 655.48,422.43 655.21,422.47 654.93,422.52 654.65,422.56 654.36,422.60 654.07,422.64 653.77,422.67 653.46,422.71 653.16,422.74 652.84,422.78 652.52,422.81 652.20,422.84 651.87,422.87 651.54,422.89 651.21,422.92 650.87,422.94 650.53,422.96 650.19,422.98 649.84,423.00 649.49,423.02 649.14,423.04 648.78,423.05 648.43,423.06 648.07,423.07 647.71,423.08 647.35,423.09 646.99,423.10 646.63,423.10 646.26,423.10 645.90,423.10 645.68,423.10 645.23,423.10 644.78,423.10 644.33,423.09 643.89,423.08 643.67,423.07 643.45,423.07 643.01,423.05 642.57,423.03 642.13,423.01 641.70,422.99 641.28,422.96 640.86,422.94 640.44,422.91 640.03,422.87 639.62,422.84 639.23,422.80 638.83,422.76 638.45,422.72 638.07,422.68 637.70,422.63 637.34,422.58 636.99,422.53 636.64,422.48 636.31,422.43 635.99,422.37 635.67,422.31 635.37,422.25 635.07,422.19 634.79,422.13 634.52,422.06 634.26,422.00 634.01,421.93 633.77,421.86 633.55,421.79 633.34,421.72 633.14,421.65 632.95,421.57 632.78,421.50 632.62,421.42 632.47,421.35 632.34,421.27 632.22,421.19 632.11,421.11 632.02,421.03 631.94,420.95 631.88,420.87 631.83,420.79 631.80,420.71 631.77,420.63 631.77,420.55 631.77,420.51 631.78,420.43 631.81,420.35 631.85,420.27 631.91,420.19 631.94,420.15 631.98,420.11 632.07,420.03 632.17,419.95 632.28,419.87 632.40,419.79 632.54,419.71 632.70,419.64 632.86,419.56 633.04,419.49 633.24,419.42 633.44,419.34 633.66,419.27 633.89,419.20 634.13,419.13 634.39,419.07 634.65,419.00 634.93,418.94 635.22,418.88 635.52,418.82 635.83,418.76 636.15,418.70 636.48,418.65 636.82,418.59 637.16,418.54 637.52,418.49 637.89,418.45 638.26,418.40 638.64,418.36 639.03,418.32 639.42,418.28 639.83,418.24 640.23,418.21 640.65,418.18 641.07,418.15 641.49,418.12 641.92,418.10 642.35,418.08 642.79,418.06 643.23,418.04 643.67,418.03 644.11,418.02 644.56,418.01 645.00,418.00 645.45,418.00 645.90,418.00 646.08,418.00 646.44,418.00 646.81,418.00 647.17,418.01 647.53,418.01 647.71,418.02 647.89,418.02 648.25,418.03 648.60,418.04 648.96,418.06 649.31,418.07 649.66,418.09 650.01,418.11 650.36,418.13 650.70,418.15 651.04,418.17 651.38,418.19 651.71,418.22 652.04,418.25 652.36,418.28 652.68,418.31 653.00,418.34 653.31,418.37 653.62,418.41 653.92,418.45 654.21,418.48 654.51,418.52 654.79,418.56 655.07,418.61 655.34,418.65 655.61,418.69 655.87,418.74 656.12,418.79 656.37,418.83 656.61,418.88 656.84,418.93 657.07,418.98 657.29,419.04 657.50,419.09 657.70,419.14 657.90,419.20 658.09,419.26 658.27,419.31 658.44,419.37 658.60,419.43 665.19,419.47 665.03,419.38 664.86,419.29 664.67,419.21 664.47,419.12 664.27,419.03 664.04,418.95 663.81,418.87 663.57,418.78 663.31,418.70 663.04,418.62 662.90,418.58 662.76,418.54 662.47,418.46 662.17,418.39 661.86,418.31 661.53,418.24 661.20,418.17 660.86,418.10 660.51,418.03 660.14,417.96 659.77,417.90 659.39,417.83 659.00,417.77 658.60,417.71 658.19,417.65 657.78,417.60 657.36,417.54 656.92,417.49 656.49,417.44 656.04,417.39 655.59,417.35 655.13,417.30 654.67,417.26 654.20,417.22 653.72,417.19 653.24,417.15 652.76,417.12 652.27,417.09 651.77,417.06 651.28,417.03 650.78,417.01 650.27,416.99 649.76,416.97 649.25,416.95 648.74,416.94 648.23,416.92 647.71,416.91 647.19,416.91 646.68,416.90 646.16,416.90 645.90,416.90 645.26,416.90 644.62,416.91 643.98,416.92 643.34,416.93 642.71,416.95 642.08,416.97 641.45,416.99 640.83,417.02 640.21,417.05 639.60,417.08 639.30,417.10 638.99,417.12 638.40,417.16 637.81,417.21 637.22,417.25 636.65,417.31 636.08,417.36 635.53,417.42 634.98,417.48 634.45,417.54 633.93,417.61 633.42,417.68 632.92,417.75 632.44,417.83 631.97,417.91 631.51,417.99 631.07,418.07 630.64,418.16 630.23,418.25 629.83,418.34 629.45,418.43 629.09,418.53 628.74,418.63 628.41,418.72 628.10,418.83 627.81,418.93 627.53,419.03 627.28,419.14 627.04,419.25 626.82,419.36 626.62,419.47 626.44,419.58 626.28,419.69 626.14,419.80 626.02,419.92 625.92,420.03 625.83,420.15 625.77,420.26 625.73,420.38 625.71,420.49 625.71,420.55 625.72,420.67 625.75,420.78 625.80,420.90 625.87,421.01 625.96,421.13 626.07,421.24 626.21,421.35 626.36,421.47 626.53,421.58 626.72,421.69 626.82,421.74 626.93,421.80 627.16,421.91 627.40,422.01 627.67,422.12 627.95,422.22 628.26,422.32 628.58,422.42 628.92,422.52 629.27,422.62 629.64,422.71 630.03,422.81 630.43,422.90 630.85,422.98 631.29,423.07 631.74,423.15 632.20,423.23 632.68,423.31 633.17,423.38 633.67,423.45 634.19,423.52 634.72,423.59 635.26,423.65 635.81,423.71 636.36,423.77 636.93,423.82 637.51,423.87 638.10,423.92 638.69,423.96 639.30,424.00 639.91,424.04 640.52,424.07 641.14,424.10 641.76,424.12 642.39,424.14 643.03,424.16 643.66,424.18 644.30,424.19 644.94,424.20 645.58,424.20 645.90,424.20 646.42,424.20 646.94,424.20 647.45,424.19 647.97,424.18 648.48,424.17 649.00,424.16 649.51,424.14 650.02,424.12 650.52,424.10 651.03,424.08 651.28,424.07 651.53,424.06 652.02,424.03 652.51,424.00 653.00,423.97 653.48,423.93 653.96,423.90 654.43,423.86 654.90,423.82 655.36,423.77 655.82,423.73 656.27,423.68 656.71,423.63 657.14,423.58 657.57,423.53 657.99,423.47 658.40,423.42 658.80,423.36 659.20,423.30 659.58,423.23 659.96,423.17 660.32,423.10 660.68,423.04 661.03,422.97 661.37,422.90 661.70,422.82 662.01,422.75 662.32,422.67 662.62,422.60 662.90,422.52 663.18,422.44 663.44,422.36 663.69,422.28 663.93,422.19 664.16,422.11 664.37,422.02 664.58,421.94 664.77,421.85 664.94,421.76 665.11,421.67 665.19,421.63Z M665.19,421.28 645.90,421.28 645.90,422.01 657.11,422.01 657.11,424.20 665.19,424.20 665.19,421.28Z" fill="#FFA500"/>
<path d="M665.19,400.65 665.03,401.13 664.86,401.62 664.67,402.09 664.47,402.57 664.27,403.04 664.04,403.50 663.81,403.96 663.57,404.41 663.31,404.85 663.04,405.29 662.76,405.72 662.47,406.15 662.17,406.56 661.86,406.97 661.53,407.37 661.20,407.77 660.86,408.15 660.51,408.52 660.14,408.89 659.77,409.25 659.39,409.59 659.00,409.93 658.60,410.26 658.19,410.58 657.78,410.88 657.36,411.18 656.92,411.46 656.49,411.74 656.04,412.00 655.59,412.25 655.13,412.49 654.67,412.72 654.20,412.94 653.72,413.14 653.24,413.33 652.76,413.51 652.27,413.68 651.77,413.84 651.28,413.98 650.78,414.11 650.27,414.23 649.76,414.33 649.25,414.42 648.74,414.50 648.23,414.57 647.71,414.62 647.19,414.66 646.68,414.69 646.16,414.70 645.90,414.70 645.26,414.69 644.62,414.66 643.98,414.61 643.34,414.54 642.71,414.45 642.08,414.34 641.45,414.21 640.83,414.06 640.21,413.89 639.60,413.70 638.99,413.50 638.40,413.27 637.81,413.03 637.22,412.76 636.65,412.48 636.08,412.18 635.53,411.87 634.98,411.53 634.45,411.18 633.93,410.82 633.42,410.43 632.92,410.03 632.44,409.62 631.97,409.19 631.51,408.74 631.07,408.29 630.64,407.81 630.23,407.33 629.83,406.83 629.45,406.32 629.09,405.80 628.74,405.27 628.41,404.72 628.10,404.17 627.81,403.61 627.53,403.04 627.28,402.46 627.04,401.87 626.82,401.28 626.62,400.67 626.44,400.07 626.28,399.45 626.14,398.84 626.02,398.21 625.92,397.59 625.83,396.96 625.77,396.33 625.73,395.70 625.71,395.07 625.71,394.75 625.72,394.12 625.75,393.48 625.80,392.85 625.87,392.22 625.96,391.60 626.07,390.97 626.21,390.35 626.36,389.74 626.53,389.13 626.72,388.52 626.93,387.93 627.16,387.34 627.40,386.75 627.67,386.18 627.95,385.61 628.26,385.05 628.58,384.50 628.92,383.96 629.27,383.44 629.64,382.92 630.03,382.42 630.43,381.93 630.85,381.45 631.29,380.98 631.74,380.53 632.20,380.09 632.68,379.67 633.17,379.27 633.67,378.87 634.19,378.50 634.72,378.14 635.26,377.80 635.81,377.47 636.36,377.17 636.93,376.87 637.51,376.60 638.10,376.35 638.69,376.11 639.30,375.90 639.91,375.70 640.52,375.52 641.14,375.36 641.76,375.22 642.39,375.10 643.03,375.00 643.66,374.92 644.30,374.86 644.94,374.82 645.58,374.80 645.90,374.80 646.42,374.81 646.94,374.83 647.45,374.86 647.97,374.91 648.48,374.96 649.00,375.04 649.51,375.12 650.02,375.22 650.52,375.33 651.03,375.45 651.53,375.59 652.02,375.74 652.51,375.90 653.00,376.07 653.48,376.26 653.96,376.46 654.43,376.67 654.90,376.89 655.36,377.13 655.82,377.37 656.27,377.63 656.71,377.90 657.14,378.18 657.57,378.47 657.99,378.77 658.40,379.08 658.80,379.40 659.20,379.74 659.58,380.08 659.96,380.43 660.32,380.79 660.68,381.16 661.03,381.54 661.37,381.93 661.70,382.33 662.01,382.73 662.32,383.14 662.62,383.56 662.90,383.99 663.18,384.43 663.44,384.87 663.69,385.32 663.93,385.77 664.16,386.23 664.37,386.70 664.58,387.17 664.77,387.64 664.94,388.12 665.11,388.61 665.19,388.85 658.68,388.85 658.52,388.46 658.35,388.15 658.18,387.83 657.99,387.52 657.80,387.22 657.60,386.92 657.40,386.63 657.18,386.34 656.96,386.05 656.73,385.78 656.49,385.50 656.25,385.24 656.00,384.98 655.74,384.73 655.48,384.48 655.21,384.24 654.93,384.01 654.65,383.78 654.36,383.56 654.07,383.35 653.77,383.15 653.46,382.95 653.16,382.77 652.84,382.59 652.52,382.41 652.20,382.25 651.87,382.09 651.54,381.95 651.21,381.81 650.87,381.68 650.53,381.56 650.19,381.44 649.84,381.34 649.49,381.24 649.14,381.16 648.78,381.08 648.43,381.01 648.07,380.95 647.71,380.90 647.35,380.86 646.99,380.83 646.63,380.80 646.26,380.79 645.90,380.79 645.68,380.79 645.23,380.80 644.78,380.83 644.33,380.87 643.89,380.93 643.67,380.96 643.45,381.00 643.01,381.08 642.57,381.18 642.13,381.29 641.70,381.41 641.28,381.55 640.86,381.70 640.44,381.87 640.03,382.05 639.62,382.24 639.23,382.44 638.83,382.66 638.45,382.88 638.07,383.12 637.70,383.37 637.34,383.64 636.99,383.91 636.64,384.20 636.31,384.49 635.99,384.80 635.67,385.11 635.37,385.44 635.07,385.77 634.79,386.12 634.52,386.47 634.26,386.83 634.01,387.20 633.77,387.58 633.55,387.96 633.34,388.35 633.14,388.75 632.95,389.15 632.78,389.56 632.62,389.97 632.47,390.39 632.34,390.82 632.22,391.24 632.11,391.67 632.02,392.11 631.94,392.54 631.88,392.98 631.83,393.42 631.80,393.86 631.77,394.31 631.77,394.75 631.77,394.97 631.78,395.41 631.81,395.86 631.85,396.30 631.91,396.74 631.94,396.96 631.98,397.17 632.07,397.61 632.17,398.04 632.28,398.47 632.40,398.90 632.54,399.32 632.70,399.73 632.86,400.15 633.04,400.55 633.24,400.95 633.44,401.35 633.66,401.73 633.89,402.11 634.13,402.49 634.39,402.85 634.65,403.21 634.93,403.56 635.22,403.90 635.52,404.23 635.83,404.55 636.15,404.86 636.48,405.16 636.82,405.45 637.16,405.73 637.52,406.00 637.89,406.25 638.26,406.50 638.64,406.73 639.03,406.95 639.42,407.16 639.83,407.36 640.23,407.54 640.65,407.71 641.07,407.87 641.49,408.02 641.92,408.15 642.35,408.27 642.79,408.37 643.23,408.46 643.67,408.54 644.11,408.60 644.56,408.65 645.00,408.69 645.45,408.71 645.90,408.71 646.08,408.71 646.44,408.70 646.81,408.69 647.17,408.66 647.53,408.62 647.71,408.60 647.89,408.58 648.25,408.52 648.60,408.46 648.96,408.38 649.31,408.30 649.66,408.21 650.01,408.11 650.36,408.00 650.70,407.88 651.04,407.76 651.38,407.62 651.71,407.48 652.04,407.33 652.36,407.17 652.68,407.00 653.00,406.83 653.31,406.64 653.62,406.45 653.92,406.25 654.21,406.04 654.51,405.83 654.79,405.61 655.07,405.38 655.34,405.14 655.61,404.90 655.87,404.65 656.12,404.39 656.37,404.13 656.61,403.86 656.84,403.59 657.07,403.31 657.29,403.02 657.50,402.73 657.70,402.43 657.90,402.13 658.09,401.82 658.27,401.51 658.44,401.20 658.60,400.87 658.68,400.65Z" fill="#0000FF"/>
<path d="M625.7,320.6 666.1,320.6 666.1,325.8 649.9,325.8 649.9,372.8 641.9,372.8 641.9,325.8 625.7,325.8Z" fill="#FF0000"/>
<path d="M666.09,426.10 706.47,426.10 706.47,426.37 690.32,426.37 690.32,428.80 682.24,428.80 682.24,426.37 666.09,426.37Z" fill="#FF0000"/>
<path d="M705.57,421.68 705.41,421.78 705.24,421.88 705.05,421.98 704.85,422.08 704.65,422.17 704.42,422.27 704.19,422.37 703.95,422.46 703.69,422.55 703.42,422.64 703.14,422.73 702.85,422.82 702.55,422.91 702.24,422.99 701.91,423.08 701.58,423.16 701.24,423.24 700.89,423.32 700.52,423.39 700.15,423.47 699.77,423.54 699.38,423.61 698.98,423.68 698.57,423.74 698.16,423.81 697.74,423.87 697.30,423.93 696.87,423.98 696.42,424.04 695.97,424.09 695.51,424.14 695.05,424.19 694.58,424.23 694.10,424.28 693.62,424.32 693.14,424.35 692.65,424.39 692.15,424.42 691.66,424.45 691.16,424.48 690.65,424.50 690.14,424.52 689.63,424.54 689.12,424.56 688.61,424.57 688.09,424.58 687.57,424.59 687.06,424.60 686.54,424.60 686.28,424.60 685.64,424.60 685.00,424.59 684.36,424.58 683.72,424.57 683.09,424.55 682.46,424.53 681.83,424.50 681.21,424.47 680.59,424.43 679.98,424.39 679.37,424.35 678.78,424.30 678.19,424.25 677.60,424.20 677.03,424.14 676.46,424.08 675.91,424.01 675.36,423.94 674.83,423.87 674.31,423.79 673.80,423.71 673.30,423.63 672.82,423.54 672.35,423.45 671.89,423.36 671.45,423.27 671.02,423.17 670.61,423.07 670.21,422.96 669.83,422.86 669.47,422.75 669.12,422.64 668.79,422.53 668.48,422.41 668.19,422.29 667.91,422.17 667.66,422.05 667.42,421.93 667.20,421.81 667.00,421.68 666.82,421.56 666.66,421.43 666.52,421.30 666.40,421.17 666.30,421.04 666.21,420.91 666.15,420.78 666.11,420.65 666.09,420.52 666.09,420.45 666.10,420.32 666.13,420.19 666.18,420.06 666.25,419.92 666.34,419.79 666.45,419.66 666.59,419.54 666.74,419.41 666.91,419.28 667.10,419.16 667.31,419.03 667.54,418.91 667.78,418.79 668.05,418.67 668.33,418.55 668.64,418.43 668.96,418.32 669.30,418.21 669.65,418.10 670.02,417.99 670.41,417.88 670.81,417.78 671.23,417.68 671.67,417.59 672.12,417.49 672.58,417.40 673.06,417.31 673.55,417.23 674.05,417.15 674.57,417.07 675.10,416.99 675.64,416.92 676.19,416.86 676.74,416.79 677.31,416.73 677.89,416.68 678.48,416.62 679.07,416.57 679.68,416.53 680.29,416.49 680.90,416.45 681.52,416.42 682.14,416.39 682.77,416.36 683.41,416.34 684.04,416.33 684.68,416.31 685.32,416.30 685.96,416.30 686.28,416.30 686.80,416.30 687.32,416.31 687.83,416.31 688.35,416.32 688.86,416.33 689.38,416.35 689.89,416.37 690.40,416.39 690.90,416.41 691.41,416.44 691.91,416.46 692.40,416.50 692.89,416.53 693.38,416.57 693.86,416.60 694.34,416.65 694.81,416.69 695.28,416.74 695.74,416.78 696.20,416.84 696.65,416.89 697.09,416.94 697.52,417.00 697.95,417.06 698.37,417.13 698.78,417.19 699.18,417.26 699.58,417.33 699.96,417.40 700.34,417.47 700.70,417.55 701.06,417.62 701.41,417.70 701.75,417.78 702.08,417.87 702.39,417.95 702.70,418.04 703.00,418.12 703.28,418.21 703.56,418.30 703.82,418.39 704.07,418.49 704.31,418.58 704.54,418.68 704.75,418.77 704.96,418.87 705.15,418.97 705.32,419.07 705.49,419.17 705.57,419.22 699.06,419.22 698.90,419.14 698.73,419.08 698.56,419.01 698.37,418.95 698.18,418.88 697.98,418.82 697.78,418.76 697.56,418.70 697.34,418.64 697.11,418.58 696.87,418.53 696.63,418.47 696.38,418.42 696.12,418.36 695.86,418.31 695.59,418.26 695.31,418.22 695.03,418.17 694.74,418.12 694.45,418.08 694.15,418.04 693.84,418.00 693.54,417.96 693.22,417.92 692.90,417.88 692.58,417.85 692.25,417.82 691.92,417.79 691.59,417.76 691.25,417.73 690.91,417.71 690.57,417.68 690.22,417.66 689.87,417.64 689.52,417.62 689.16,417.61 688.81,417.59 688.45,417.58 688.09,417.57 687.73,417.56 687.37,417.55 687.01,417.55 686.64,417.55 686.28,417.55 686.06,417.55 685.61,417.55 685.16,417.55 684.71,417.56 684.27,417.57 684.05,417.58 683.83,417.59 683.39,417.61 682.95,417.63 682.51,417.65 682.08,417.68 681.66,417.70 681.24,417.74 680.82,417.77 680.41,417.81 680.00,417.85 679.61,417.89 679.21,417.93 678.83,417.98 678.45,418.03 678.08,418.08 677.72,418.14 677.37,418.20 677.02,418.25 676.69,418.32 676.37,418.38 676.05,418.45 675.75,418.51 675.45,418.58 675.17,418.65 674.90,418.73 674.64,418.80 674.39,418.88 674.15,418.96 673.93,419.04 673.72,419.12 673.52,419.20 673.33,419.29 673.16,419.37 673.00,419.46 672.85,419.54 672.72,419.63 672.60,419.72 672.49,419.81 672.40,419.90 672.32,419.99 672.26,420.08 672.21,420.17 672.18,420.27 672.15,420.36 672.15,420.45 672.15,420.50 672.16,420.59 672.19,420.68 672.23,420.77 672.29,420.86 672.32,420.91 672.36,420.95 672.45,421.04 672.55,421.13 672.66,421.22 672.78,421.31 672.92,421.40 673.08,421.49 673.24,421.57 673.42,421.66 673.62,421.74 673.82,421.82 674.04,421.90 674.27,421.98 674.51,422.06 674.77,422.14 675.03,422.21 675.31,422.28 675.60,422.35 675.90,422.42 676.21,422.49 676.53,422.55 676.86,422.61 677.20,422.68 677.54,422.73 677.90,422.79 678.27,422.84 678.64,422.89 679.02,422.94 679.41,422.99 679.80,423.03 680.21,423.07 680.61,423.11 681.03,423.15 681.45,423.18 681.87,423.21 682.30,423.24 682.73,423.26 683.17,423.28 683.61,423.30 684.05,423.32 684.49,423.33 684.94,423.34 685.38,423.35 685.83,423.35 686.28,423.36 686.46,423.35 686.82,423.35 687.19,423.35 687.55,423.34 687.91,423.34 688.09,423.33 688.27,423.33 688.63,423.31 688.98,423.30 689.34,423.29 689.69,423.27 690.04,423.25 690.39,423.23 690.74,423.21 691.08,423.18 691.42,423.16 691.76,423.13 692.09,423.10 692.42,423.07 692.74,423.03 693.06,423.00 693.38,422.96 693.69,422.92 694.00,422.88 694.30,422.84 694.59,422.80 694.89,422.75 695.17,422.71 695.45,422.66 695.72,422.61 695.99,422.56 696.25,422.51 696.50,422.46 696.75,422.40 696.99,422.35 697.22,422.29 697.45,422.23 697.67,422.17 697.88,422.11 698.08,422.05 698.28,421.99 698.47,421.92 698.65,421.86 698.82,421.79 698.98,421.72 699.06,421.68Z" fill="#0000FF"/>
<path d="M666.09,414.60 682.24,400.90 690.32,400.90 706.47,414.60 698.39,414.60 693.55,410.49 679.01,410.49 674.17,414.60Z M680.63,409.12 686.28,404.32 691.93,409.12Z" fill="#10FF00" fill-rule="evenodd"/>
<path d="M699.06,394.45 698.90,394.60 698.73,394.72 698.56,394.83 698.37,394.95 698.18,395.06 697.98,395.17 697.78,395.28 697.56,395.39 697.34,395.50 697.11,395.60 696.87,395.70 696.63,395.80 696.38,395.90 696.12,395.99 695.86,396.09 695.59,396.17 695.31,396.26 695.03,396.35 694.74,396.43 694.45,396.51 694.15,396.58 693.84,396.66 693.54,396.73 693.22,396.79 692.90,396.86 692.58,396.92 692.25,396.98 691.92,397.03 691.59,397.08 691.25,397.13 690.91,397.18 690.57,397.22 690.22,397.26 689.87,397.29 689.52,397.33 689.16,397.36 688.81,397.38 688.45,397.40 688.09,397.42 687.73,397.44 687.37,397.45 687.01,397.46 686.64,397.46 686.28,397.46 686.06,397.46 685.61,397.46 685.16,397.45 684.71,397.43 684.27,397.41 684.05,397.40 683.83,397.39 683.39,397.35 682.95,397.32 682.51,397.28 682.08,397.23 681.66,397.18 681.24,397.12 680.82,397.06 680.41,396.99 680.00,396.92 679.61,396.85 679.21,396.77 678.83,396.68 678.45,396.59 678.08,396.50 677.72,396.40 677.37,396.30 677.02,396.19 676.69,396.08 676.37,395.97 676.05,395.85 675.75,395.73 675.45,395.60 675.17,395.47 674.90,395.34 674.64,395.21 674.39,395.07 674.15,394.93 673.93,394.79 673.72,394.64 673.52,394.49 673.33,394.34 673.16,394.19 673.00,394.03 672.85,393.88 672.72,393.72 672.60,393.56 672.49,393.40 672.40,393.24 672.32,393.07 672.26,392.91 672.21,392.75 672.18,392.58 672.15,392.42 672.15,392.25 672.15,392.17 672.16,392.00 672.19,391.84 672.23,391.67 672.29,391.51 672.32,391.43 672.36,391.34 672.45,391.18 672.55,391.02 672.66,390.86 672.78,390.70 672.92,390.54 673.08,390.39 673.24,390.24 673.42,390.08 673.62,389.93 673.82,389.79 674.04,389.64 674.27,389.50 674.51,389.36 674.77,389.23 675.03,389.09 675.31,388.96 675.60,388.83 675.90,388.71 676.21,388.59 676.53,388.48 676.86,388.36 677.20,388.26 677.54,388.15 677.90,388.05 678.27,387.95 678.64,387.86 679.02,387.78 679.41,387.69 679.80,387.61 680.21,387.54 680.61,387.47 681.03,387.41 681.45,387.35 681.87,387.30 682.30,387.25 682.73,387.20 683.17,387.16 683.61,387.13 684.05,387.10 684.49,387.08 684.94,387.06 685.38,387.05 685.83,387.04 686.28,387.04 686.46,387.04 686.82,387.04 687.19,387.05 687.55,387.06 687.91,387.07 688.09,387.08 688.27,387.09 688.63,387.11 688.98,387.13 689.34,387.16 689.69,387.19 690.04,387.22 690.39,387.26 690.74,387.30 691.08,387.35 691.42,387.39 691.76,387.44 692.09,387.50 692.42,387.55 692.74,387.61 693.06,387.67 693.38,387.74 693.69,387.81 694.00,387.88 694.30,387.96 694.59,388.03 694.89,388.11 695.17,388.20 695.45,388.28 695.72,388.37 695.99,388.46 696.25,388.55 696.50,388.65 696.75,388.75 696.99,388.85 697.22,388.95 697.45,389.05 697.67,389.16 697.88,389.27 698.08,389.38 698.28,389.49 698.47,389.61 698.65,389.73 698.82,389.84 698.98,389.96 705.57,390.05 705.41,389.87 705.24,389.69 705.05,389.51 704.85,389.33 704.65,389.16 704.42,388.98 704.19,388.81 703.95,388.64 703.69,388.48 703.42,388.31 703.28,388.23 703.14,388.15 702.85,387.99 702.55,387.84 702.24,387.69 701.91,387.54 701.58,387.39 701.24,387.25 700.89,387.11 700.52,386.97 700.15,386.84 699.77,386.71 699.38,386.58 698.98,386.46 698.57,386.34 698.16,386.23 697.74,386.12 697.30,386.01 696.87,385.91 696.42,385.81 695.97,385.71 695.51,385.62 695.05,385.54 694.58,385.46 694.10,385.38 693.62,385.31 693.14,385.24 692.65,385.18 692.15,385.12 691.66,385.07 691.16,385.02 690.65,384.98 690.14,384.94 689.63,384.90 689.12,384.87 688.61,384.85 688.09,384.83 687.57,384.82 687.06,384.81 686.54,384.80 686.28,384.80 685.64,384.80 685.00,384.81 684.36,384.83 683.72,384.86 683.09,384.89 682.46,384.93 681.83,384.98 681.21,385.04 680.59,385.10 679.98,385.17 679.68,385.21 679.37,385.25 678.78,385.33 678.19,385.42 677.60,385.52 677.03,385.63 676.46,385.74 675.91,385.86 675.36,385.98 674.83,386.11 674.31,386.25 673.80,386.39 673.30,386.54 672.82,386.70 672.35,386.86 671.89,387.02 671.45,387.20 671.02,387.37 670.61,387.55 670.21,387.74 669.83,387.93 669.47,388.12 669.12,388.32 668.79,388.53 668.48,388.73 668.19,388.94 667.91,389.16 667.66,389.37 667.42,389.59 667.20,389.81 667.00,390.04 666.82,390.26 666.66,390.49 666.52,390.72 666.40,390.96 666.30,391.19 666.21,391.42 666.15,391.66 666.11,391.90 666.09,392.13 666.09,392.25 666.10,392.49 666.13,392.72 666.18,392.96 666.25,393.19 666.34,393.43 666.45,393.66 666.59,393.89 666.74,394.12 666.91,394.35 667.10,394.57 667.20,394.69 667.31,394.80 667.54,395.02 667.78,395.24 668.05,395.45 668.33,395.66 668.64,395.87 668.96,396.08 669.30,396.28 669.65,396.47 670.02,396.67 670.41,396.86 670.81,397.04 671.23,397.22 671.67,397.39 672.12,397.56 672.58,397.72 673.06,397.88 673.55,398.03 674.05,398.18 674.57,398.32 675.10,398.45 675.64,398.58 676.19,398.70 676.74,398.82 677.31,398.93 677.89,399.03 678.48,399.12 679.07,399.21 679.68,399.29 680.29,399.36 680.90,399.43 681.52,399.49 682.14,399.54 682.77,399.59 683.41,399.62 684.04,399.65 684.68,399.68 685.32,399.69 685.96,399.70 686.28,399.70 686.80,399.70 687.32,399.69 687.83,399.68 688.35,399.66 688.86,399.64 689.38,399.61 689.89,399.58 690.40,399.54 690.90,399.50 691.41,399.46 691.66,399.43 691.91,399.40 692.40,399.35 692.89,399.29 693.38,399.22 693.86,399.15 694.34,399.08 694.81,399.00 695.28,398.92 695.74,398.83 696.20,398.74 696.65,398.64 697.09,398.54 697.52,398.44 697.95,398.33 698.37,398.22 698.78,398.10 699.18,397.98 699.58,397.86 699.96,397.73 700.34,397.60 700.70,397.46 701.06,397.32 701.41,397.18 701.75,397.04 702.08,396.89 702.39,396.74 702.70,396.58 703.00,396.43 703.28,396.27 703.56,396.11 703.82,395.94 704.07,395.77 704.31,395.60 704.54,395.43 704.75,395.26 704.96,395.08 705.15,394.90 705.32,394.72 705.49,394.54 705.57,394.45Z M705.57,393.74 686.28,393.74 686.28,395.23 697.49,395.23 697.49,399.70 705.57,399.70 705.57,393.74Z" fill="#FFA500"/>
<path d="M706.47,425.50 746.85,425.50 746.85,425.82 730.70,425.82 730.70,428.70 722.62,428.70 722.62,425.82 706.47,425.82Z" fill="#FF0000"/>
<path d="M745.95,422.07 745.79,422.13 745.62,422.19 745.43,422.25 745.23,422.31 745.03,422.37 744.80,422.42 744.57,422.48 744.33,422.54 744.07,422.59 743.80,422.64 743.52,422.70 743.23,422.75 742.93,422.80 742.62,422.85 742.29,422.90 741.96,422.95 741.62,423.00 741.27,423.04 740.90,423.09 740.53,423.13 740.15,423.17 739.76,423.21 739.36,423.25 738.95,423.29 738.54,423.33 738.12,423.37 737.68,423.40 737.25,423.44 736.80,423.47 736.35,423.50 735.89,423.53 735.43,423.56 734.96,423.58 734.48,423.61 734.00,423.63 733.52,423.65 733.03,423.67 732.53,423.69 732.04,423.71 731.54,423.73 731.03,423.74 730.52,423.75 730.01,423.77 729.50,423.78 728.99,423.78 728.47,423.79 727.95,423.79 727.44,423.80 726.92,423.80 726.66,423.80 726.02,423.80 725.38,423.80 724.74,423.79 724.10,423.78 723.47,423.77 722.84,423.76 722.21,423.74 721.59,423.72 720.97,423.70 720.36,423.68 719.75,423.65 719.16,423.62 718.57,423.59 717.98,423.56 717.41,423.53 716.84,423.49 716.29,423.45 715.74,423.41 715.21,423.37 714.69,423.32 714.18,423.28 713.68,423.23 713.20,423.18 712.73,423.12 712.27,423.07 711.83,423.01 711.40,422.95 710.99,422.89 710.59,422.83 710.21,422.77 709.85,422.71 709.50,422.64 709.17,422.57 708.86,422.51 708.57,422.44 708.29,422.37 708.04,422.30 707.80,422.22 707.58,422.15 707.38,422.08 707.20,422.00 707.04,421.93 706.90,421.85 706.78,421.78 706.68,421.70 706.59,421.62 706.53,421.54 706.49,421.47 706.47,421.39 706.47,421.35 706.48,421.27 706.51,421.19 706.56,421.12 706.63,421.04 706.72,420.96 706.83,420.89 706.97,420.81 707.12,420.73 707.29,420.66 707.48,420.59 707.69,420.51 707.92,420.44 708.16,420.37 708.43,420.30 708.71,420.23 709.02,420.16 709.34,420.09 709.68,420.03 710.03,419.96 710.40,419.90 710.79,419.84 711.19,419.78 711.61,419.72 712.05,419.66 712.50,419.60 712.96,419.55 713.44,419.50 713.93,419.45 714.43,419.40 714.95,419.35 715.48,419.31 716.02,419.27 716.57,419.23 717.12,419.19 717.69,419.15 718.27,419.12 718.86,419.09 719.45,419.06 720.06,419.03 720.67,419.01 721.28,418.99 721.90,418.97 722.52,418.95 723.15,418.94 723.79,418.92 724.42,418.92 725.06,418.91 725.70,418.90 726.34,418.90 726.66,418.90 727.18,418.90 727.70,418.90 728.21,418.91 728.73,418.91 729.24,418.92 729.76,418.93 730.27,418.94 730.78,418.95 731.28,418.97 731.79,418.98 732.29,419.00 732.78,419.02 733.27,419.04 733.76,419.06 734.24,419.08 734.72,419.10 735.19,419.13 735.66,419.16 736.12,419.19 736.58,419.22 737.03,419.25 737.47,419.28 737.90,419.31 738.33,419.35 738.75,419.39 739.16,419.43 739.56,419.47 739.96,419.51 740.34,419.55 740.72,419.59 741.08,419.64 741.44,419.68 741.79,419.73 742.13,419.78 742.46,419.82 742.77,419.87 743.08,419.92 743.38,419.98 743.66,420.03 743.94,420.08 744.20,420.14 744.45,420.19 744.69,420.25 744.92,420.30 745.13,420.36 745.34,420.42 745.53,420.48 745.70,420.54 745.87,420.60 745.95,420.63 739.44,420.63 739.28,420.58 739.11,420.54 738.94,420.50 738.75,420.46 738.56,420.43 738.36,420.39 738.16,420.35 737.94,420.32 737.72,420.28 737.49,420.25 737.25,420.21 737.01,420.18 736.76,420.15 736.50,420.12 736.24,420.09 735.97,420.06 735.69,420.03 735.41,420.00 735.12,419.98 734.83,419.95 734.53,419.93 734.22,419.90 733.92,419.88 733.60,419.86 733.28,419.84 732.96,419.81 732.63,419.80 732.30,419.78 731.97,419.76 731.63,419.74 731.29,419.73 730.95,419.72 730.60,419.70 730.25,419.69 729.90,419.68 729.54,419.67 729.19,419.66 728.83,419.66 728.47,419.65 728.11,419.64 727.75,419.64 727.39,419.64 727.02,419.64 726.66,419.63 726.44,419.64 725.99,419.64 725.54,419.64 725.09,419.65 724.65,419.65 724.43,419.66 724.21,419.66 723.77,419.67 723.33,419.68 722.89,419.70 722.46,419.71 722.04,419.73 721.62,419.75 721.20,419.77 720.79,419.79 720.38,419.81 719.99,419.84 719.59,419.86 719.21,419.89 718.83,419.92 718.46,419.95 718.10,419.99 717.75,420.02 717.40,420.05 717.07,420.09 716.75,420.13 716.43,420.17 716.13,420.21 715.83,420.25 715.55,420.29 715.28,420.33 715.02,420.38 714.77,420.42 714.53,420.47 714.31,420.52 714.10,420.56 713.90,420.61 713.71,420.66 713.54,420.71 713.38,420.76 713.23,420.81 713.10,420.87 712.98,420.92 712.87,420.97 712.78,421.03 712.70,421.08 712.64,421.13 712.59,421.19 712.56,421.24 712.53,421.30 712.53,421.35 712.53,421.38 712.54,421.43 712.57,421.49 712.61,421.54 712.67,421.59 712.70,421.62 712.74,421.65 712.83,421.70 712.93,421.75 713.04,421.81 713.16,421.86 713.30,421.91 713.46,421.96 713.62,422.01 713.80,422.06 714.00,422.11 714.20,422.16 714.42,422.21 714.65,422.25 714.89,422.30 715.15,422.34 715.41,422.39 715.69,422.43 715.98,422.47 716.28,422.51 716.59,422.55 716.91,422.59 717.24,422.63 717.58,422.66 717.92,422.70 718.28,422.73 718.65,422.76 719.02,422.79 719.40,422.82 719.79,422.85 720.18,422.87 720.59,422.90 720.99,422.92 721.41,422.94 721.83,422.96 722.25,422.98 722.68,423.00 723.11,423.01 723.55,423.02 723.99,423.03 724.43,423.04 724.87,423.05 725.32,423.06 725.76,423.06 726.21,423.06 726.66,423.06 726.84,423.06 727.20,423.06 727.57,423.06 727.93,423.06 728.29,423.05 728.47,423.05 728.65,423.05 729.01,423.04 729.36,423.03 729.72,423.02 730.07,423.01 730.42,423.00 730.77,422.99 731.12,422.98 731.46,422.96 731.80,422.95 732.14,422.93 732.47,422.91 732.80,422.89 733.12,422.88 733.44,422.85 733.76,422.83 734.07,422.81 734.38,422.79 734.68,422.76 734.97,422.74 735.27,422.71 735.55,422.68 735.83,422.66 736.10,422.63 736.37,422.60 736.63,422.57 736.88,422.53 737.13,422.50 737.37,422.47 737.60,422.44 737.83,422.40 738.05,422.37 738.26,422.33 738.46,422.29 738.66,422.26 738.85,422.22 739.03,422.18 739.20,422.14 739.36,422.10 739.44,422.07Z" fill="#0000FF"/>
<path d="M706.47,417.80 722.62,409.90 730.70,409.90 746.85,417.80 738.77,417.80 733.93,415.43 719.39,415.43 714.55,417.80Z M721.01,414.64 726.66,411.88 732.31,414.64Z" fill="#10FF00" fill-rule="evenodd"/>
<path d="M739.44,404.46 739.28,404.57 739.11,404.65 738.94,404.74 738.75,404.82 738.56,404.91 738.36,404.99 738.16,405.07 737.94,405.15 737.72,405.23 737.49,405.30 737.25,405.38 737.01,405.45 736.76,405.52 736.50,405.59 736.24,405.66 735.97,405.72 735.69,405.78 735.41,405.85 735.12,405.91 734.83,405.96 734.53,406.02 734.22,406.07 733.92,406.12 733.60,406.17 733.28,406.22 732.96,406.26 732.63,406.31 732.30,406.35 731.97,406.39 731.63,406.42 731.29,406.45 730.95,406.49 730.60,406.51 730.25,406.54 729.90,406.56 729.54,406.58 729.19,406.60 728.83,406.62 728.47,406.63 728.11,406.64 727.75,406.65 727.39,406.66 727.02,406.66 726.66,406.67 726.44,406.66 725.99,406.66 725.54,406.65 725.09,406.64 724.65,406.63 724.43,406.62 724.21,406.61 723.77,406.58 723.33,406.56 722.89,406.53 722.46,406.49 722.04,406.46 721.62,406.41 721.20,406.37 720.79,406.32 720.38,406.27 719.99,406.21 719.59,406.15 719.21,406.09 718.83,406.03 718.46,405.96 718.10,405.89 717.75,405.81 717.40,405.73 717.07,405.65 716.75,405.57 716.43,405.48 716.13,405.39 715.83,405.30 715.55,405.21 715.28,405.11 715.02,405.01 714.77,404.91 714.53,404.81 714.31,404.70 714.10,404.60 713.90,404.49 713.71,404.38 713.54,404.27 713.38,404.15 713.23,404.04 713.10,403.92 712.98,403.81 712.87,403.69 712.78,403.57 712.70,403.45 712.64,403.33 712.59,403.21 712.56,403.09 712.53,402.97 712.53,402.85 712.53,402.79 712.54,402.67 712.57,402.55 712.61,402.43 712.67,402.31 712.70,402.25 712.74,402.19 712.83,402.07 712.93,401.95 713.04,401.83 713.16,401.72 713.30,401.60 713.46,401.49 713.62,401.38 713.80,401.27 714.00,401.16 714.20,401.05 714.42,400.94 714.65,400.84 714.89,400.74 715.15,400.64 715.41,400.54 715.69,400.44 715.98,400.35 716.28,400.26 716.59,400.17 716.91,400.09 717.24,400.01 717.58,399.93 717.92,399.85 718.28,399.78 718.65,399.71 719.02,399.64 719.40,399.58 719.79,399.52 720.18,399.46 720.59,399.41 720.99,399.36 721.41,399.31 721.83,399.27 722.25,399.23 722.68,399.19 723.11,399.16 723.55,399.13 723.99,399.10 724.43,399.08 724.87,399.07 725.32,399.05 725.76,399.04 726.21,399.04 726.66,399.03 726.84,399.04 727.20,399.04 727.57,399.04 727.93,399.05 728.29,399.06 728.47,399.07 728.65,399.07 729.01,399.09 729.36,399.11 729.72,399.13 730.07,399.15 730.42,399.17 730.77,399.20 731.12,399.23 731.46,399.26 731.80,399.30 732.14,399.33 732.47,399.37 732.80,399.41 733.12,399.46 733.44,399.50 733.76,399.55 734.07,399.60 734.38,399.65 734.68,399.71 734.97,399.77 735.27,399.82 735.55,399.88 735.83,399.95 736.10,400.01 736.37,400.08 736.63,400.15 736.88,400.22 737.13,400.29 737.37,400.36 737.60,400.44 737.83,400.51 738.05,400.59 738.26,400.67 738.46,400.75 738.66,400.83 738.85,400.92 739.03,401.00 739.20,401.09 739.36,401.18 745.95,401.24 745.79,401.11 745.62,400.97 745.43,400.84 745.23,400.71 745.03,400.59 744.80,400.46 744.57,400.33 744.33,400.21 744.07,400.09 743.80,399.97 743.66,399.91 743.52,399.85 743.23,399.74 742.93,399.62 742.62,399.51 742.29,399.40 741.96,399.29 741.62,399.19 741.27,399.09 740.90,398.99 740.53,398.89 740.15,398.79 739.76,398.70 739.36,398.61 738.95,398.53 738.54,398.44 738.12,398.36 737.68,398.28 737.25,398.21 736.80,398.14 736.35,398.07 735.89,398.00 735.43,397.94 734.96,397.88 734.48,397.83 734.00,397.77 733.52,397.72 733.03,397.68 732.53,397.64 732.04,397.60 731.54,397.56 731.03,397.53 730.52,397.50 730.01,397.48 729.50,397.45 728.99,397.44 728.47,397.42 727.95,397.41 727.44,397.40 726.92,397.40 726.66,397.40 726.02,397.40 725.38,397.41 724.74,397.42 724.10,397.44 723.47,397.47 722.84,397.50 722.21,397.53 721.59,397.57 720.97,397.62 720.36,397.67 720.06,397.70 719.75,397.73 719.16,397.79 718.57,397.86 717.98,397.93 717.41,398.01 716.84,398.09 716.29,398.17 715.74,398.27 715.21,398.36 714.69,398.46 714.18,398.57 713.68,398.68 713.20,398.79 712.73,398.91 712.27,399.03 711.83,399.15 711.40,399.28 710.99,399.41 710.59,399.55 710.21,399.69 709.85,399.83 709.50,399.98 709.17,400.12 708.86,400.28 708.57,400.43 708.29,400.59 708.04,400.74 707.80,400.90 707.58,401.07 707.38,401.23 707.20,401.40 707.04,401.57 706.90,401.73 706.78,401.90 706.68,402.07 706.59,402.25 706.53,402.42 706.49,402.59 706.47,402.76 706.47,402.85 706.48,403.02 706.51,403.20 706.56,403.37 706.63,403.54 706.72,403.71 706.83,403.88 706.97,404.05 707.12,404.22 707.29,404.39 707.48,404.55 707.58,404.63 707.69,404.71 707.92,404.88 708.16,405.04 708.43,405.19 708.71,405.35 709.02,405.50 709.34,405.65 709.68,405.80 710.03,405.94 710.40,406.08 710.79,406.22 711.19,406.35 711.61,406.48 712.05,406.61 712.50,406.73 712.96,406.85 713.44,406.97 713.93,407.08 714.43,407.19 714.95,407.29 715.48,407.39 716.02,407.48 716.57,407.57 717.12,407.65 717.69,407.73 718.27,407.81 718.86,407.88 719.45,407.94 720.06,408.00 720.67,408.05 721.28,408.10 721.90,408.15 722.52,408.18 723.15,408.22 723.79,408.24 724.42,408.27 725.06,408.28 725.70,408.29 726.34,408.30 726.66,408.30 727.18,408.30 727.70,408.29 728.21,408.28 728.73,408.27 729.24,408.26 729.76,408.24 730.27,408.21 730.78,408.19 731.28,408.16 731.79,408.12 732.04,408.10 732.29,408.08 732.78,408.04 733.27,408.00 733.76,407.95 734.24,407.90 734.72,407.85 735.19,407.79 735.66,407.73 736.12,407.66 736.58,407.60 737.03,407.53 737.47,407.45 737.90,407.38 738.33,407.30 738.75,407.22 739.16,407.13 739.56,407.04 739.96,406.95 740.34,406.86 740.72,406.76 741.08,406.66 741.44,406.56 741.79,406.46 742.13,406.35 742.46,406.24 742.77,406.13 743.08,406.02 743.38,405.91 743.66,405.79 743.94,405.67 744.20,405.55 744.45,405.43 744.69,405.30 744.92,405.18 745.13,405.05 745.34,404.92 745.53,404.79 745.70,404.66 745.87,404.53 745.95,404.46Z M745.95,403.94 726.66,403.94 726.66,405.03 737.87,405.03 737.87,408.30 745.95,408.30 745.95,403.94Z" fill="#FFA500"/>
</svg></div>
</body></html>
